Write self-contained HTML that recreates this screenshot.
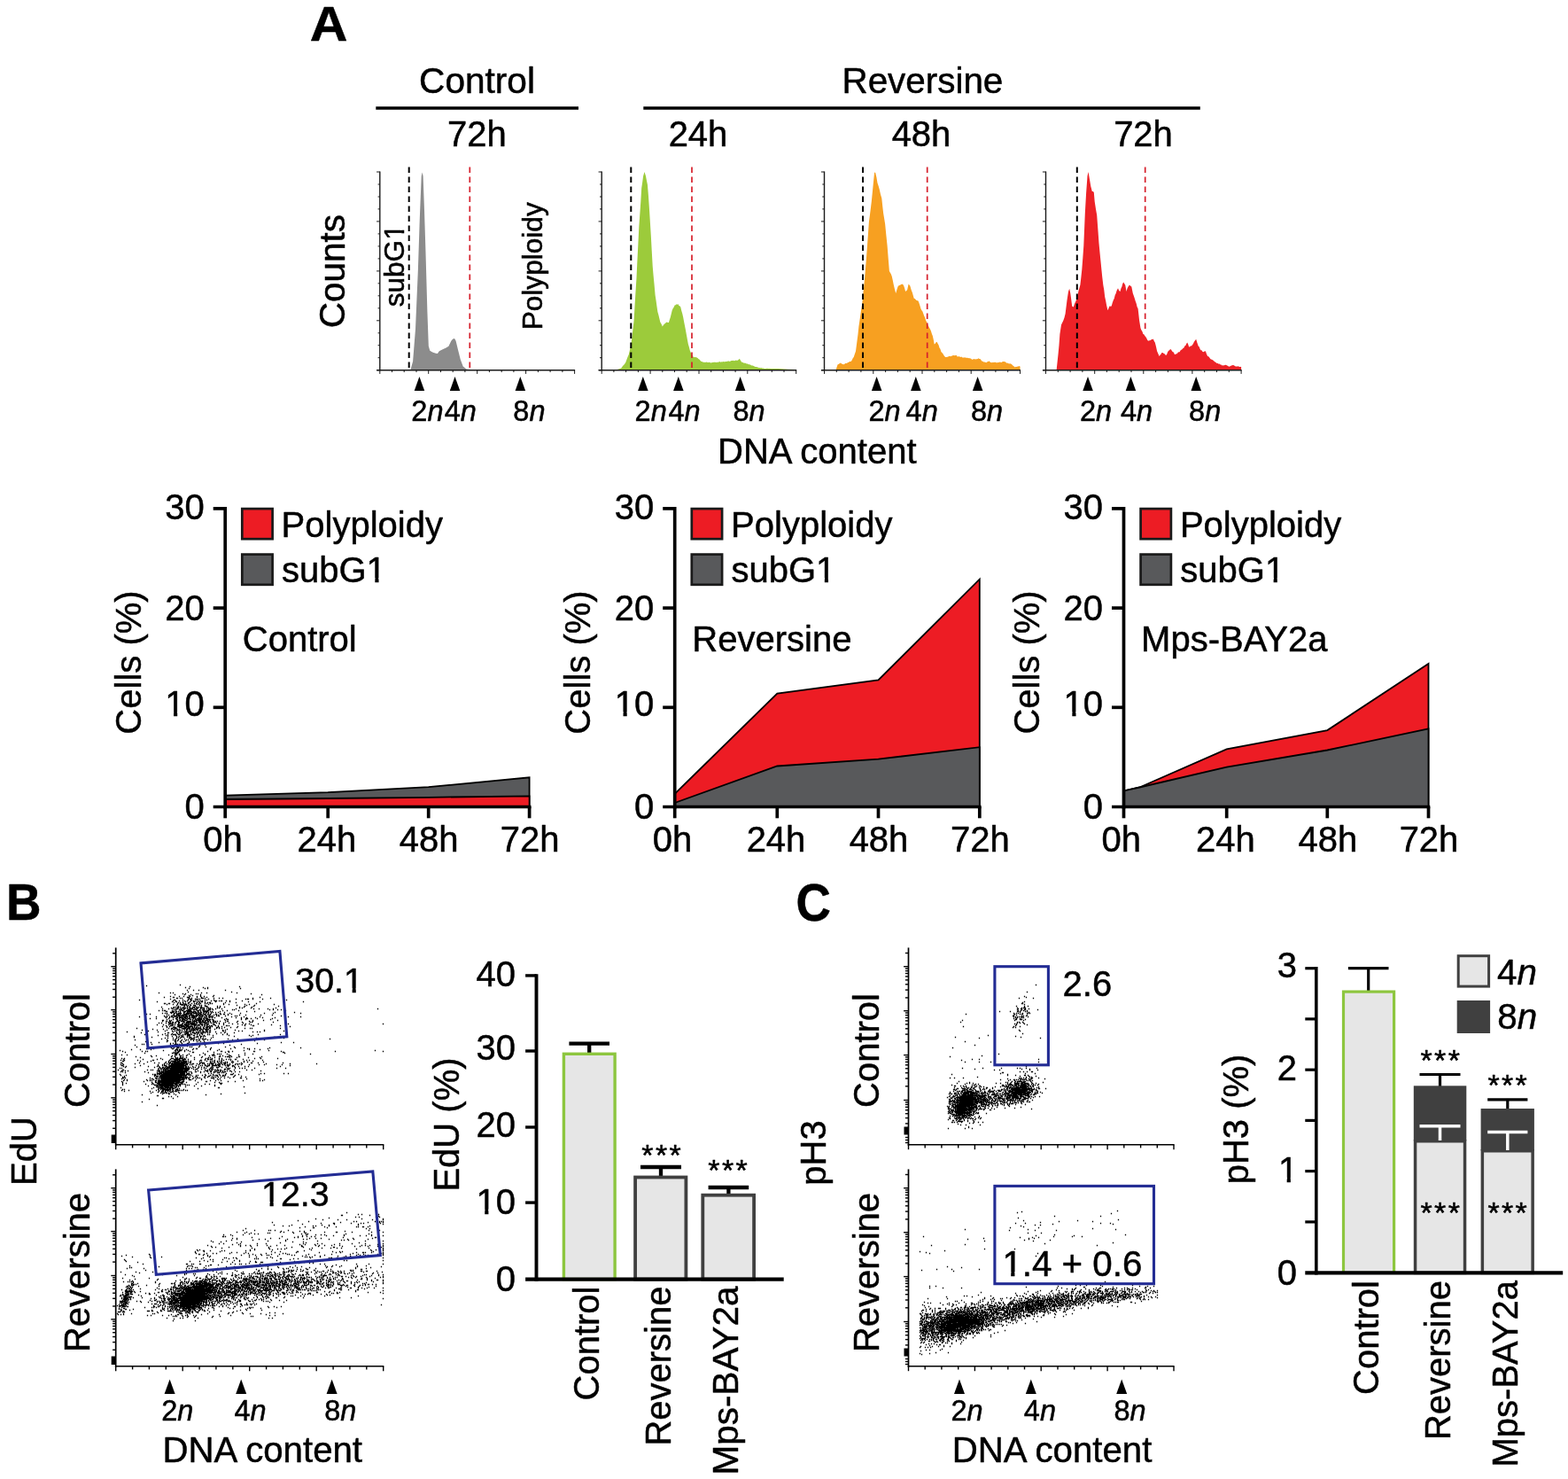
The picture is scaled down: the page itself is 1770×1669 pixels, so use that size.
<!DOCTYPE html>
<html lang="en"><head><meta charset="utf-8"><title>Figure</title>
<style>
html,body{margin:0;padding:0;background:#fff}
body{width:1770px;height:1669px;overflow:hidden}
svg{display:block}
text{font-family:"Liberation Sans",Arial,Helvetica,sans-serif;fill:#000;stroke:#000;stroke-width:0.5px;stroke-linejoin:round}
</style></head><body>
<svg width="1770" height="1669" viewBox="0 0 1770 1669">
<defs><clipPath id="ct10"><path clip-rule="evenodd" d="M-144 100h1200v400h-1200zM486.66 295.44H493.10V302.80H486.66zM496.49 295.44H502.68V302.80H496.49z"/></clipPath><clipPath id="ct13"><path clip-rule="evenodd" d="M-369 608h1200v400h-1200zM188.15 803.31H196.06V811.30H188.15zM200.19 803.31H207.79V811.30H200.19z"/></clipPath><clipPath id="ct22"><path clip-rule="evenodd" d="M-282 457h1200v400h-1200zM415.44 652.11H423.35V660.10H415.44zM427.49 652.11H435.09V660.10H427.49z"/></clipPath><clipPath id="ct25"><path clip-rule="evenodd" d="M138 608h1200v400h-1200zM695.65 803.31H703.56V811.30H695.65zM707.69 803.31H715.29V811.30H707.69z"/></clipPath><clipPath id="ct34"><path clip-rule="evenodd" d="M226 457h1200v400h-1200zM922.94 652.11H930.85V660.10H922.94zM934.99 652.11H942.59V660.10H934.99z"/></clipPath><clipPath id="ct37"><path clip-rule="evenodd" d="M645 608h1200v400h-1200zM1202.45 803.31H1210.36V811.30H1202.45zM1214.49 803.31H1222.09V811.30H1214.49z"/></clipPath><clipPath id="ct46"><path clip-rule="evenodd" d="M732 457h1200v400h-1200zM1429.74 652.11H1437.65V660.10H1429.74zM1441.79 652.11H1449.39V660.10H1441.79z"/></clipPath><clipPath id="ct48"><path clip-rule="evenodd" d="M-267 920h1200v400h-1200zM389.85 1114.96H397.66V1122.90H389.85zM401.74 1114.96H409.24V1122.90H401.74z"/></clipPath><clipPath id="ct49"><path clip-rule="evenodd" d="M-305 1161h1200v400h-1200zM296.80 1355.96H304.61V1363.90H296.80zM308.69 1355.96H316.19V1363.90H308.69z"/></clipPath><clipPath id="ct56"><path clip-rule="evenodd" d="M531 1240h1200v400h-1200zM1133.27 1435.19H1141.23V1443.20H1133.27zM1145.40 1435.19H1153.05V1443.20H1145.40z"/></clipPath><clipPath id="ct65"><path clip-rule="evenodd" d="M-18 1170h1200v400h-1200zM539.35 1364.61H547.26V1372.60H539.35zM551.39 1364.61H558.99V1372.60H551.39z"/></clipPath><clipPath id="ct74"><path clip-rule="evenodd" d="M865 1134h1200v400h-1200zM1444.80 1328.54H1452.71V1336.53H1444.80zM1456.84 1328.54H1464.44V1336.53H1456.84z"/></clipPath></defs>
<rect width="1770" height="1669" fill="#fff"/>
<text transform="translate(349.8 45.6) scale(1.05 1)" font-size="56.3" font-weight="bold">A</text>
<text x="538.5" y="105.0" font-size="40.6" text-anchor="middle">Control</text>
<text x="1041.4" y="105.0" font-size="40.4" text-anchor="middle">Reversine</text>
<line x1="424.3" y1="122.0" x2="653.0" y2="122.0" stroke="#000" stroke-width="3.6"/>
<line x1="726.3" y1="122.0" x2="1354.8" y2="122.0" stroke="#000" stroke-width="3.6"/>
<text x="538.3" y="165.0" font-size="40" text-anchor="middle">72h</text>
<text x="788.0" y="165.0" font-size="40" text-anchor="middle">24h</text>
<text x="1040.0" y="165.0" font-size="40" text-anchor="middle">48h</text>
<text x="1290.5" y="165.0" font-size="40" text-anchor="middle">72h</text>
<text x="389.2" y="306.2" font-size="40.5" text-anchor="middle" transform="rotate(-90 389.2 306.2)">Counts</text>
<text x="922.3" y="522.5" font-size="40" text-anchor="middle">DNA content</text>
<path d="M463.3,417.7 L466.1,407.7 L469.0,371.3 L471.9,304.2 L473.8,246.7 L475.7,198.8 L476.7,194.5 L477.6,198.8 L479.0,237.1 L480.5,285.0 L482.4,352.1 L483.8,390.4 L485.3,395.8 L488.2,397.5 L492.0,398.7 L493.9,399.1 L495.8,396.2 L499.7,394.3 L503.5,392.4 L506.4,390.8 L509.3,384.7 L511.2,382.4 L513.1,382.0 L514.6,384.7 L516.9,394.3 L519.8,405.8 L522.7,413.4 L526.5,416.5 L530.4,417.1 L572.5,417.3 L648.6,417.5 L648.6,417.7Z" fill="#8c8c8c"/>
<line x1="428.8" y1="193.5" x2="428.8" y2="418.3" stroke="#1a1a1a" stroke-width="1.4"/>
<line x1="425.2" y1="417.7" x2="649.1" y2="417.7" stroke="#1a1a1a" stroke-width="1.4"/>
<line x1="425.1" y1="194.0" x2="428.8" y2="194.0" stroke="#1a1a1a" stroke-width="1"/>
<line x1="426.6" y1="208.0" x2="428.8" y2="208.0" stroke="#1a1a1a" stroke-width="1"/>
<line x1="426.6" y1="222.0" x2="428.8" y2="222.0" stroke="#1a1a1a" stroke-width="1"/>
<line x1="426.6" y1="235.9" x2="428.8" y2="235.9" stroke="#1a1a1a" stroke-width="1"/>
<line x1="425.1" y1="249.9" x2="428.8" y2="249.9" stroke="#1a1a1a" stroke-width="1"/>
<line x1="426.6" y1="263.9" x2="428.8" y2="263.9" stroke="#1a1a1a" stroke-width="1"/>
<line x1="426.6" y1="277.9" x2="428.8" y2="277.9" stroke="#1a1a1a" stroke-width="1"/>
<line x1="426.6" y1="291.9" x2="428.8" y2="291.9" stroke="#1a1a1a" stroke-width="1"/>
<line x1="425.1" y1="305.9" x2="428.8" y2="305.9" stroke="#1a1a1a" stroke-width="1"/>
<line x1="426.6" y1="319.8" x2="428.8" y2="319.8" stroke="#1a1a1a" stroke-width="1"/>
<line x1="426.6" y1="333.8" x2="428.8" y2="333.8" stroke="#1a1a1a" stroke-width="1"/>
<line x1="426.6" y1="347.8" x2="428.8" y2="347.8" stroke="#1a1a1a" stroke-width="1"/>
<line x1="425.1" y1="361.8" x2="428.8" y2="361.8" stroke="#1a1a1a" stroke-width="1"/>
<line x1="426.6" y1="375.8" x2="428.8" y2="375.8" stroke="#1a1a1a" stroke-width="1"/>
<line x1="426.6" y1="389.7" x2="428.8" y2="389.7" stroke="#1a1a1a" stroke-width="1"/>
<line x1="426.6" y1="403.7" x2="428.8" y2="403.7" stroke="#1a1a1a" stroke-width="1"/>
<line x1="425.1" y1="417.7" x2="428.8" y2="417.7" stroke="#1a1a1a" stroke-width="1"/>
<line x1="428.8" y1="417.7" x2="428.8" y2="421.9" stroke="#1a1a1a" stroke-width="1"/>
<line x1="442.5" y1="417.7" x2="442.5" y2="420.1" stroke="#1a1a1a" stroke-width="1"/>
<line x1="456.2" y1="417.7" x2="456.2" y2="420.1" stroke="#1a1a1a" stroke-width="1"/>
<line x1="470.0" y1="417.7" x2="470.0" y2="420.1" stroke="#1a1a1a" stroke-width="1"/>
<line x1="483.7" y1="417.7" x2="483.7" y2="421.9" stroke="#1a1a1a" stroke-width="1"/>
<line x1="497.5" y1="417.7" x2="497.5" y2="420.1" stroke="#1a1a1a" stroke-width="1"/>
<line x1="511.2" y1="417.7" x2="511.2" y2="420.1" stroke="#1a1a1a" stroke-width="1"/>
<line x1="524.9" y1="417.7" x2="524.9" y2="420.1" stroke="#1a1a1a" stroke-width="1"/>
<line x1="538.7" y1="417.7" x2="538.7" y2="421.9" stroke="#1a1a1a" stroke-width="1"/>
<line x1="552.4" y1="417.7" x2="552.4" y2="420.1" stroke="#1a1a1a" stroke-width="1"/>
<line x1="566.2" y1="417.7" x2="566.2" y2="420.1" stroke="#1a1a1a" stroke-width="1"/>
<line x1="579.9" y1="417.7" x2="579.9" y2="420.1" stroke="#1a1a1a" stroke-width="1"/>
<line x1="593.6" y1="417.7" x2="593.6" y2="421.9" stroke="#1a1a1a" stroke-width="1"/>
<line x1="607.4" y1="417.7" x2="607.4" y2="420.1" stroke="#1a1a1a" stroke-width="1"/>
<line x1="621.1" y1="417.7" x2="621.1" y2="420.1" stroke="#1a1a1a" stroke-width="1"/>
<line x1="634.9" y1="417.7" x2="634.9" y2="420.1" stroke="#1a1a1a" stroke-width="1"/>
<line x1="648.6" y1="417.7" x2="648.6" y2="421.9" stroke="#1a1a1a" stroke-width="1"/>
<line x1="461.7" y1="188.5" x2="461.7" y2="417.7" stroke="#000" stroke-width="2" stroke-dasharray="6.5 4.5"/>
<line x1="530.3" y1="188.5" x2="530.3" y2="417.7" stroke="#d6202c" stroke-width="1.7" stroke-dasharray="6.5 4.5"/>
<path d="M473.4,425.0 l5.8,16.0 h-11.5z" fill="#000"/>
<path d="M513.5,425.0 l5.8,16.0 h-11.5z" fill="#000"/>
<path d="M587.3,425.0 l5.8,16.0 h-11.5z" fill="#000"/>
<text x="464.3" y="475.2" font-size="32.5">2<tspan font-style="italic">n</tspan></text>
<text x="501.7" y="475.2" font-size="32.5">4<tspan font-style="italic">n</tspan></text>
<text x="579.3" y="475.2" font-size="32.5">8<tspan font-style="italic">n</tspan></text>
<text x="456.5" y="299.8" font-size="31.6" text-anchor="middle" transform="rotate(-90 456.5 299.8)" id="t10" class="o" clip-path="url(#ct10)">subG1</text>
<text x="611.8" y="300.3" font-size="31.6" text-anchor="middle" transform="rotate(-90 611.8 300.3)">Polyploidy</text>
<path d="M694.5,417.7 L701.2,415.4 L702.2,414.2 L703.1,412.8 L704.1,411.9 L705.0,410.7 L706.0,409.6 L707.0,407.1 L707.9,404.6 L708.9,402.1 L709.8,400.0 L710.8,395.7 L711.8,390.8 L712.7,386.6 L713.7,377.9 L714.6,370.2 L715.6,361.7 L716.5,345.8 L717.5,329.2 L718.5,313.8 L719.4,294.6 L720.4,274.9 L721.3,256.3 L722.3,242.0 L723.3,227.4 L724.2,212.2 L725.2,205.5 L726.1,198.8 L727.5,194.0 L729.0,198.8 L730.0,204.1 L730.9,208.3 L731.9,220.2 L732.8,233.3 L733.8,249.6 L734.8,265.8 L735.7,282.4 L736.7,300.4 L737.6,311.1 L738.6,321.5 L739.6,332.9 L740.5,338.8 L741.5,345.9 L742.4,352.1 L743.4,355.5 L744.3,359.2 L745.3,363.6 L746.5,365.6 L747.8,368.4 L748.9,366.7 L750.1,365.5 L751.1,364.8 L752.0,363.8 L753.0,363.6 L753.9,364.0 L754.9,364.0 L755.8,360.9 L756.8,357.9 L757.8,354.0 L758.7,350.2 L759.7,348.1 L760.6,346.8 L761.6,344.4 L762.6,344.2 L763.5,343.3 L764.5,343.7 L765.4,343.1 L766.4,344.9 L767.3,345.3 L768.3,346.4 L769.3,350.8 L770.2,353.8 L771.2,357.9 L772.1,363.1 L773.1,368.0 L774.1,373.2 L775.0,378.2 L776.0,383.8 L776.9,388.5 L777.9,391.8 L778.8,395.6 L779.8,398.1 L780.8,399.8 L781.7,400.8 L782.7,402.9 L783.6,402.7 L784.6,403.3 L785.6,402.9 L786.5,403.6 L787.5,403.9 L788.4,404.9 L789.4,405.5 L790.4,406.7 L791.3,407.7 L792.3,408.1 L793.2,408.4 L794.2,408.7 L795.1,408.8 L796.1,409.0 L797.1,408.6 L798.0,408.8 L799.0,409.0 L799.9,409.0 L800.9,408.8 L801.9,409.2 L802.8,409.6 L803.8,409.0 L804.7,409.0 L805.7,408.8 L806.6,408.7 L807.6,408.7 L808.6,409.0 L809.5,408.7 L810.5,408.8 L811.4,408.5 L812.4,408.1 L813.4,408.7 L814.3,408.2 L815.3,408.4 L816.2,407.9 L817.2,408.3 L818.1,408.3 L819.1,407.9 L820.1,407.9 L821.0,407.7 L822.0,407.5 L822.9,407.6 L823.9,407.9 L824.9,407.3 L825.8,406.9 L826.8,407.0 L827.7,406.7 L828.7,407.3 L829.6,407.1 L830.6,406.6 L831.6,406.7 L832.5,406.7 L833.7,405.9 L834.8,404.8 L836.1,406.9 L837.3,408.7 L838.3,408.7 L839.2,409.5 L840.2,409.7 L841.1,409.5 L842.1,410.3 L843.1,410.5 L844.0,410.6 L845.0,411.2 L845.9,411.3 L846.9,411.5 L847.9,412.3 L848.8,412.4 L849.8,412.6 L850.7,412.9 L851.7,413.4 L852.7,414.0 L853.6,413.9 L854.6,414.2 L855.5,414.5 L856.5,414.9 L857.4,415.0 L858.4,415.2 L859.4,415.1 L860.3,415.5 L861.3,415.6 L862.2,415.8 L863.2,415.9 L864.2,416.0 L865.1,415.8 L866.1,415.8 L867.0,415.8 L868.0,415.9 L868.9,415.8 L869.9,416.1 L870.9,415.9 L871.8,415.9 L872.8,415.9 L873.7,416.0 L874.7,416.0 L875.7,416.0 L876.6,416.1 L877.6,416.1 L878.5,416.1 L890.0,416.7 L898.7,416.9 L898.7,417.7Z" fill="#9ccb3b"/>
<line x1="679.2" y1="193.5" x2="679.2" y2="418.3" stroke="#1a1a1a" stroke-width="1.4"/>
<line x1="675.7" y1="417.7" x2="899.2" y2="417.7" stroke="#1a1a1a" stroke-width="1.4"/>
<line x1="675.6" y1="194.0" x2="679.2" y2="194.0" stroke="#1a1a1a" stroke-width="1"/>
<line x1="677.0" y1="208.0" x2="679.2" y2="208.0" stroke="#1a1a1a" stroke-width="1"/>
<line x1="677.0" y1="222.0" x2="679.2" y2="222.0" stroke="#1a1a1a" stroke-width="1"/>
<line x1="677.0" y1="235.9" x2="679.2" y2="235.9" stroke="#1a1a1a" stroke-width="1"/>
<line x1="675.6" y1="249.9" x2="679.2" y2="249.9" stroke="#1a1a1a" stroke-width="1"/>
<line x1="677.0" y1="263.9" x2="679.2" y2="263.9" stroke="#1a1a1a" stroke-width="1"/>
<line x1="677.0" y1="277.9" x2="679.2" y2="277.9" stroke="#1a1a1a" stroke-width="1"/>
<line x1="677.0" y1="291.9" x2="679.2" y2="291.9" stroke="#1a1a1a" stroke-width="1"/>
<line x1="675.6" y1="305.9" x2="679.2" y2="305.9" stroke="#1a1a1a" stroke-width="1"/>
<line x1="677.0" y1="319.8" x2="679.2" y2="319.8" stroke="#1a1a1a" stroke-width="1"/>
<line x1="677.0" y1="333.8" x2="679.2" y2="333.8" stroke="#1a1a1a" stroke-width="1"/>
<line x1="677.0" y1="347.8" x2="679.2" y2="347.8" stroke="#1a1a1a" stroke-width="1"/>
<line x1="675.6" y1="361.8" x2="679.2" y2="361.8" stroke="#1a1a1a" stroke-width="1"/>
<line x1="677.0" y1="375.8" x2="679.2" y2="375.8" stroke="#1a1a1a" stroke-width="1"/>
<line x1="677.0" y1="389.7" x2="679.2" y2="389.7" stroke="#1a1a1a" stroke-width="1"/>
<line x1="677.0" y1="403.7" x2="679.2" y2="403.7" stroke="#1a1a1a" stroke-width="1"/>
<line x1="675.6" y1="417.7" x2="679.2" y2="417.7" stroke="#1a1a1a" stroke-width="1"/>
<line x1="679.2" y1="417.7" x2="679.2" y2="421.9" stroke="#1a1a1a" stroke-width="1"/>
<line x1="692.9" y1="417.7" x2="692.9" y2="420.1" stroke="#1a1a1a" stroke-width="1"/>
<line x1="706.6" y1="417.7" x2="706.6" y2="420.1" stroke="#1a1a1a" stroke-width="1"/>
<line x1="720.4" y1="417.7" x2="720.4" y2="420.1" stroke="#1a1a1a" stroke-width="1"/>
<line x1="734.1" y1="417.7" x2="734.1" y2="421.9" stroke="#1a1a1a" stroke-width="1"/>
<line x1="747.8" y1="417.7" x2="747.8" y2="420.1" stroke="#1a1a1a" stroke-width="1"/>
<line x1="761.5" y1="417.7" x2="761.5" y2="420.1" stroke="#1a1a1a" stroke-width="1"/>
<line x1="775.2" y1="417.7" x2="775.2" y2="420.1" stroke="#1a1a1a" stroke-width="1"/>
<line x1="789.0" y1="417.7" x2="789.0" y2="421.9" stroke="#1a1a1a" stroke-width="1"/>
<line x1="802.7" y1="417.7" x2="802.7" y2="420.1" stroke="#1a1a1a" stroke-width="1"/>
<line x1="816.4" y1="417.7" x2="816.4" y2="420.1" stroke="#1a1a1a" stroke-width="1"/>
<line x1="830.1" y1="417.7" x2="830.1" y2="420.1" stroke="#1a1a1a" stroke-width="1"/>
<line x1="843.8" y1="417.7" x2="843.8" y2="421.9" stroke="#1a1a1a" stroke-width="1"/>
<line x1="857.5" y1="417.7" x2="857.5" y2="420.1" stroke="#1a1a1a" stroke-width="1"/>
<line x1="871.3" y1="417.7" x2="871.3" y2="420.1" stroke="#1a1a1a" stroke-width="1"/>
<line x1="885.0" y1="417.7" x2="885.0" y2="420.1" stroke="#1a1a1a" stroke-width="1"/>
<line x1="898.7" y1="417.7" x2="898.7" y2="421.9" stroke="#1a1a1a" stroke-width="1"/>
<line x1="712.3" y1="188.5" x2="712.3" y2="417.7" stroke="#000" stroke-width="2" stroke-dasharray="6.5 4.5"/>
<line x1="781.0" y1="188.5" x2="781.0" y2="417.7" stroke="#d6202c" stroke-width="1.7" stroke-dasharray="6.5 4.5"/>
<path d="M725.8,425.0 l5.8,16.0 h-11.5z" fill="#000"/>
<path d="M765.8,425.0 l5.8,16.0 h-11.5z" fill="#000"/>
<path d="M835.6,425.0 l5.8,16.0 h-11.5z" fill="#000"/>
<text x="716.6" y="475.2" font-size="32.5">2<tspan font-style="italic">n</tspan></text>
<text x="754.4" y="475.2" font-size="32.5">4<tspan font-style="italic">n</tspan></text>
<text x="827.4" y="475.2" font-size="32.5">8<tspan font-style="italic">n</tspan></text>
<path d="M943.5,417.7 L945.5,411.5 L946.4,410.9 L947.4,410.5 L948.3,409.6 L949.3,409.9 L950.3,410.6 L951.2,411.1 L952.2,411.3 L953.1,411.1 L954.1,410.1 L955.0,409.9 L956.0,410.0 L957.0,409.1 L957.9,409.0 L958.9,408.1 L959.8,408.1 L960.8,407.7 L961.8,406.3 L962.7,404.2 L963.7,402.9 L964.8,399.8 L966.0,396.2 L967.5,384.7 L968.5,377.2 L969.4,368.4 L970.4,361.7 L971.3,355.4 L972.3,348.5 L973.3,342.5 L974.2,332.8 L975.2,322.9 L976.1,313.8 L977.1,302.0 L978.1,289.4 L979.0,277.3 L980.0,263.3 L980.9,250.5 L981.9,242.9 L982.8,235.7 L983.8,227.5 L984.8,217.6 L985.7,208.3 L987.1,194.5 L988.2,194.9 L989.4,200.1 L990.5,206.4 L991.7,210.0 L992.8,214.1 L994.1,219.7 L995.3,223.7 L996.3,233.2 L997.2,240.9 L998.2,247.0 L999.1,252.4 L1000.4,265.7 L1001.6,277.3 L1002.8,292.4 L1003.9,306.1 L1004.9,307.8 L1005.8,309.2 L1006.8,311.9 L1007.8,316.6 L1008.7,320.9 L1009.7,325.3 L1011.2,331.0 L1012.4,326.9 L1013.5,323.4 L1014.5,322.2 L1015.4,321.9 L1016.4,321.4 L1017.3,320.9 L1018.3,320.5 L1019.3,321.0 L1020.2,322.4 L1021.2,325.4 L1022.1,329.1 L1023.1,328.1 L1024.1,327.2 L1025.6,320.5 L1027.3,322.4 L1028.6,326.9 L1029.8,330.1 L1030.8,333.6 L1031.7,336.8 L1032.7,337.1 L1033.6,337.9 L1034.6,339.1 L1035.6,339.3 L1036.5,339.6 L1037.5,342.0 L1038.4,344.8 L1039.4,348.3 L1040.4,350.2 L1041.3,351.3 L1042.3,354.0 L1043.2,356.4 L1044.2,358.6 L1045.1,361.6 L1046.1,363.6 L1047.1,366.0 L1048.0,367.8 L1049.0,369.7 L1049.9,371.3 L1050.9,373.6 L1051.9,376.7 L1052.8,378.9 L1053.8,383.4 L1054.7,388.5 L1055.7,387.7 L1056.6,386.3 L1057.6,385.7 L1058.6,387.8 L1059.5,389.3 L1060.5,392.4 L1061.4,393.8 L1062.4,397.1 L1063.4,398.1 L1064.3,398.9 L1065.3,400.8 L1066.2,401.9 L1067.2,402.9 L1068.1,403.1 L1069.1,402.7 L1070.1,402.8 L1071.0,401.9 L1072.0,401.8 L1072.9,402.3 L1073.9,401.7 L1074.9,401.4 L1075.8,401.0 L1076.8,400.9 L1077.7,401.3 L1078.7,401.0 L1079.6,400.8 L1080.6,402.4 L1081.6,402.3 L1082.5,402.3 L1083.5,402.5 L1084.4,402.9 L1085.4,402.4 L1086.4,403.5 L1087.3,403.5 L1088.3,403.4 L1089.2,403.2 L1090.2,403.8 L1091.1,403.8 L1092.1,403.8 L1093.1,404.3 L1094.0,403.9 L1095.0,404.5 L1095.9,404.6 L1096.9,405.4 L1097.9,405.8 L1098.8,405.2 L1099.8,404.9 L1100.7,405.4 L1101.7,405.3 L1102.7,405.3 L1103.6,404.9 L1104.6,404.2 L1105.5,405.0 L1106.5,405.1 L1107.4,406.3 L1108.4,407.5 L1109.4,407.7 L1110.3,408.4 L1111.3,408.4 L1112.2,408.8 L1113.2,409.2 L1114.2,408.4 L1115.1,407.9 L1116.1,407.7 L1117.0,407.6 L1118.0,408.9 L1118.9,409.0 L1119.9,409.2 L1120.9,408.8 L1121.8,409.1 L1122.8,408.7 L1123.7,408.8 L1124.7,409.3 L1125.7,409.2 L1126.6,409.0 L1127.6,408.9 L1128.5,408.5 L1129.5,408.7 L1130.4,408.9 L1131.4,408.2 L1132.4,408.1 L1133.3,407.9 L1134.3,408.2 L1135.2,408.6 L1136.2,409.8 L1137.2,409.6 L1138.1,410.0 L1139.1,410.6 L1140.0,410.2 L1141.0,410.6 L1141.9,411.1 L1142.9,412.1 L1143.9,413.1 L1144.8,413.5 L1145.8,414.4 L1146.7,413.8 L1147.7,414.1 L1148.7,413.4 L1149.6,413.5 L1150.6,413.1 L1151.5,413.4 L1151.5,417.7Z" fill="#f7a021"/>
<line x1="930.5" y1="193.5" x2="930.5" y2="418.3" stroke="#1a1a1a" stroke-width="1.4"/>
<line x1="927.0" y1="417.7" x2="1152.0" y2="417.7" stroke="#1a1a1a" stroke-width="1.4"/>
<line x1="926.9" y1="194.0" x2="930.5" y2="194.0" stroke="#1a1a1a" stroke-width="1"/>
<line x1="928.3" y1="208.0" x2="930.5" y2="208.0" stroke="#1a1a1a" stroke-width="1"/>
<line x1="928.3" y1="222.0" x2="930.5" y2="222.0" stroke="#1a1a1a" stroke-width="1"/>
<line x1="928.3" y1="235.9" x2="930.5" y2="235.9" stroke="#1a1a1a" stroke-width="1"/>
<line x1="926.9" y1="249.9" x2="930.5" y2="249.9" stroke="#1a1a1a" stroke-width="1"/>
<line x1="928.3" y1="263.9" x2="930.5" y2="263.9" stroke="#1a1a1a" stroke-width="1"/>
<line x1="928.3" y1="277.9" x2="930.5" y2="277.9" stroke="#1a1a1a" stroke-width="1"/>
<line x1="928.3" y1="291.9" x2="930.5" y2="291.9" stroke="#1a1a1a" stroke-width="1"/>
<line x1="926.9" y1="305.9" x2="930.5" y2="305.9" stroke="#1a1a1a" stroke-width="1"/>
<line x1="928.3" y1="319.8" x2="930.5" y2="319.8" stroke="#1a1a1a" stroke-width="1"/>
<line x1="928.3" y1="333.8" x2="930.5" y2="333.8" stroke="#1a1a1a" stroke-width="1"/>
<line x1="928.3" y1="347.8" x2="930.5" y2="347.8" stroke="#1a1a1a" stroke-width="1"/>
<line x1="926.9" y1="361.8" x2="930.5" y2="361.8" stroke="#1a1a1a" stroke-width="1"/>
<line x1="928.3" y1="375.8" x2="930.5" y2="375.8" stroke="#1a1a1a" stroke-width="1"/>
<line x1="928.3" y1="389.7" x2="930.5" y2="389.7" stroke="#1a1a1a" stroke-width="1"/>
<line x1="928.3" y1="403.7" x2="930.5" y2="403.7" stroke="#1a1a1a" stroke-width="1"/>
<line x1="926.9" y1="417.7" x2="930.5" y2="417.7" stroke="#1a1a1a" stroke-width="1"/>
<line x1="930.5" y1="417.7" x2="930.5" y2="421.9" stroke="#1a1a1a" stroke-width="1"/>
<line x1="944.3" y1="417.7" x2="944.3" y2="420.1" stroke="#1a1a1a" stroke-width="1"/>
<line x1="958.1" y1="417.7" x2="958.1" y2="420.1" stroke="#1a1a1a" stroke-width="1"/>
<line x1="971.9" y1="417.7" x2="971.9" y2="420.1" stroke="#1a1a1a" stroke-width="1"/>
<line x1="985.8" y1="417.7" x2="985.8" y2="421.9" stroke="#1a1a1a" stroke-width="1"/>
<line x1="999.6" y1="417.7" x2="999.6" y2="420.1" stroke="#1a1a1a" stroke-width="1"/>
<line x1="1013.4" y1="417.7" x2="1013.4" y2="420.1" stroke="#1a1a1a" stroke-width="1"/>
<line x1="1027.2" y1="417.7" x2="1027.2" y2="420.1" stroke="#1a1a1a" stroke-width="1"/>
<line x1="1041.0" y1="417.7" x2="1041.0" y2="421.9" stroke="#1a1a1a" stroke-width="1"/>
<line x1="1054.8" y1="417.7" x2="1054.8" y2="420.1" stroke="#1a1a1a" stroke-width="1"/>
<line x1="1068.6" y1="417.7" x2="1068.6" y2="420.1" stroke="#1a1a1a" stroke-width="1"/>
<line x1="1082.4" y1="417.7" x2="1082.4" y2="420.1" stroke="#1a1a1a" stroke-width="1"/>
<line x1="1096.2" y1="417.7" x2="1096.2" y2="421.9" stroke="#1a1a1a" stroke-width="1"/>
<line x1="1110.1" y1="417.7" x2="1110.1" y2="420.1" stroke="#1a1a1a" stroke-width="1"/>
<line x1="1123.9" y1="417.7" x2="1123.9" y2="420.1" stroke="#1a1a1a" stroke-width="1"/>
<line x1="1137.7" y1="417.7" x2="1137.7" y2="420.1" stroke="#1a1a1a" stroke-width="1"/>
<line x1="1151.5" y1="417.7" x2="1151.5" y2="421.9" stroke="#1a1a1a" stroke-width="1"/>
<line x1="974.0" y1="188.5" x2="974.0" y2="417.7" stroke="#000" stroke-width="2" stroke-dasharray="6.5 4.5"/>
<line x1="1046.7" y1="188.5" x2="1046.7" y2="417.7" stroke="#d6202c" stroke-width="1.7" stroke-dasharray="6.5 4.5"/>
<path d="M989.6,425.0 l5.8,16.0 h-11.5z" fill="#000"/>
<path d="M1033.8,425.0 l5.8,16.0 h-11.5z" fill="#000"/>
<path d="M1103.6,425.0 l5.8,16.0 h-11.5z" fill="#000"/>
<text x="980.4" y="475.2" font-size="32.5">2<tspan font-style="italic">n</tspan></text>
<text x="1022.6" y="475.2" font-size="32.5">4<tspan font-style="italic">n</tspan></text>
<text x="1096.0" y="475.2" font-size="32.5">8<tspan font-style="italic">n</tspan></text>
<path d="M1192.6,417.7 L1194.5,400.0 L1195.5,389.4 L1196.4,377.0 L1198.0,366.5 L1199.1,364.2 L1200.3,361.7 L1201.4,358.8 L1202.6,354.0 L1203.5,346.8 L1204.5,338.7 L1206.0,329.1 L1207.2,325.7 L1208.3,331.0 L1209.3,338.6 L1210.2,345.4 L1211.8,346.4 L1212.9,342.9 L1214.1,340.6 L1215.3,337.7 L1216.5,332.9 L1217.5,328.2 L1218.5,324.8 L1219.4,321.4 L1220.4,312.7 L1221.3,304.2 L1222.3,291.3 L1223.3,277.3 L1224.8,240.9 L1226.1,217.9 L1227.5,198.8 L1228.6,194.0 L1230.0,202.6 L1231.3,210.3 L1232.8,216.0 L1233.8,215.9 L1234.8,217.0 L1235.7,227.5 L1237.0,235.9 L1238.2,242.8 L1239.6,262.0 L1240.5,274.4 L1241.5,285.0 L1242.4,294.0 L1243.4,304.2 L1244.3,313.0 L1245.3,321.4 L1246.3,327.2 L1247.2,334.9 L1248.2,339.4 L1249.1,344.4 L1250.5,350.2 L1252.0,346.4 L1253.0,345.0 L1253.9,346.2 L1254.9,344.8 L1255.8,341.6 L1256.8,338.7 L1257.8,336.7 L1258.7,332.9 L1259.7,331.1 L1260.6,328.1 L1262.0,325.3 L1263.2,327.9 L1264.5,329.1 L1265.4,325.6 L1266.4,323.4 L1267.3,320.1 L1268.3,318.6 L1269.3,320.2 L1270.2,321.4 L1271.6,329.1 L1272.5,325.6 L1273.5,323.4 L1275.0,321.4 L1276.2,322.8 L1277.3,323.4 L1278.8,331.0 L1279.8,333.7 L1280.8,336.8 L1281.7,339.7 L1282.7,342.5 L1283.6,346.2 L1284.6,348.3 L1286.1,361.7 L1287.5,370.3 L1288.4,372.6 L1289.4,374.0 L1290.4,377.0 L1291.3,377.3 L1292.3,379.0 L1293.2,379.9 L1294.2,381.5 L1295.1,383.4 L1296.1,384.7 L1297.1,384.2 L1298.0,384.3 L1299.0,383.7 L1299.9,383.1 L1300.9,383.1 L1301.9,382.4 L1302.8,385.0 L1303.8,386.6 L1304.9,390.8 L1306.1,396.2 L1307.3,398.9 L1308.6,401.9 L1309.5,400.7 L1310.5,399.7 L1311.4,398.1 L1312.4,398.0 L1313.4,398.8 L1314.3,399.1 L1315.3,400.2 L1316.2,401.0 L1317.2,399.8 L1318.1,397.2 L1319.1,395.8 L1320.1,395.2 L1321.0,393.9 L1322.0,394.4 L1322.9,396.1 L1323.9,397.2 L1324.9,397.5 L1325.8,399.8 L1326.8,400.0 L1327.7,399.2 L1328.7,399.2 L1329.6,397.7 L1330.6,397.2 L1331.6,397.2 L1332.5,395.5 L1333.5,394.7 L1334.4,394.3 L1335.4,393.1 L1336.4,392.4 L1337.3,390.4 L1338.3,389.9 L1339.2,388.1 L1340.2,386.6 L1341.1,388.2 L1342.1,391.4 L1343.1,391.3 L1344.0,390.3 L1345.0,390.4 L1345.9,389.3 L1346.9,388.0 L1347.9,385.7 L1349.0,384.2 L1350.2,382.8 L1351.4,386.8 L1352.7,390.4 L1353.6,391.2 L1354.6,393.7 L1355.5,395.2 L1356.5,395.2 L1357.4,396.7 L1358.4,397.2 L1359.6,396.4 L1360.9,396.2 L1362.0,399.5 L1363.2,401.9 L1364.2,402.2 L1365.1,403.3 L1366.1,404.8 L1367.0,405.5 L1368.0,405.7 L1368.9,406.2 L1369.9,407.0 L1370.9,408.1 L1371.8,408.5 L1372.8,409.2 L1373.7,409.9 L1374.7,409.9 L1375.7,410.7 L1376.6,410.6 L1377.6,411.4 L1378.5,411.5 L1379.5,412.5 L1380.4,412.3 L1381.4,412.6 L1382.4,412.0 L1383.3,411.8 L1384.3,411.9 L1385.2,412.5 L1386.2,413.1 L1387.2,413.8 L1388.1,413.5 L1389.1,413.0 L1390.0,412.5 L1391.0,412.2 L1391.9,411.9 L1392.9,412.2 L1393.9,413.0 L1394.8,413.4 L1395.8,413.4 L1396.9,413.6 L1397.9,413.3 L1399.0,413.9 L1400.1,413.9 L1401.1,413.8 L1401.1,417.7Z" fill="#ed2227"/>
<line x1="1180.5" y1="193.5" x2="1180.5" y2="418.3" stroke="#1a1a1a" stroke-width="1.4"/>
<line x1="1177.0" y1="417.7" x2="1401.6" y2="417.7" stroke="#1a1a1a" stroke-width="1.4"/>
<line x1="1176.9" y1="194.0" x2="1180.5" y2="194.0" stroke="#1a1a1a" stroke-width="1"/>
<line x1="1178.3" y1="208.0" x2="1180.5" y2="208.0" stroke="#1a1a1a" stroke-width="1"/>
<line x1="1178.3" y1="222.0" x2="1180.5" y2="222.0" stroke="#1a1a1a" stroke-width="1"/>
<line x1="1178.3" y1="235.9" x2="1180.5" y2="235.9" stroke="#1a1a1a" stroke-width="1"/>
<line x1="1176.9" y1="249.9" x2="1180.5" y2="249.9" stroke="#1a1a1a" stroke-width="1"/>
<line x1="1178.3" y1="263.9" x2="1180.5" y2="263.9" stroke="#1a1a1a" stroke-width="1"/>
<line x1="1178.3" y1="277.9" x2="1180.5" y2="277.9" stroke="#1a1a1a" stroke-width="1"/>
<line x1="1178.3" y1="291.9" x2="1180.5" y2="291.9" stroke="#1a1a1a" stroke-width="1"/>
<line x1="1176.9" y1="305.9" x2="1180.5" y2="305.9" stroke="#1a1a1a" stroke-width="1"/>
<line x1="1178.3" y1="319.8" x2="1180.5" y2="319.8" stroke="#1a1a1a" stroke-width="1"/>
<line x1="1178.3" y1="333.8" x2="1180.5" y2="333.8" stroke="#1a1a1a" stroke-width="1"/>
<line x1="1178.3" y1="347.8" x2="1180.5" y2="347.8" stroke="#1a1a1a" stroke-width="1"/>
<line x1="1176.9" y1="361.8" x2="1180.5" y2="361.8" stroke="#1a1a1a" stroke-width="1"/>
<line x1="1178.3" y1="375.8" x2="1180.5" y2="375.8" stroke="#1a1a1a" stroke-width="1"/>
<line x1="1178.3" y1="389.7" x2="1180.5" y2="389.7" stroke="#1a1a1a" stroke-width="1"/>
<line x1="1178.3" y1="403.7" x2="1180.5" y2="403.7" stroke="#1a1a1a" stroke-width="1"/>
<line x1="1176.9" y1="417.7" x2="1180.5" y2="417.7" stroke="#1a1a1a" stroke-width="1"/>
<line x1="1180.5" y1="417.7" x2="1180.5" y2="421.9" stroke="#1a1a1a" stroke-width="1"/>
<line x1="1194.3" y1="417.7" x2="1194.3" y2="420.1" stroke="#1a1a1a" stroke-width="1"/>
<line x1="1208.1" y1="417.7" x2="1208.1" y2="420.1" stroke="#1a1a1a" stroke-width="1"/>
<line x1="1221.9" y1="417.7" x2="1221.9" y2="420.1" stroke="#1a1a1a" stroke-width="1"/>
<line x1="1235.7" y1="417.7" x2="1235.7" y2="421.9" stroke="#1a1a1a" stroke-width="1"/>
<line x1="1249.4" y1="417.7" x2="1249.4" y2="420.1" stroke="#1a1a1a" stroke-width="1"/>
<line x1="1263.2" y1="417.7" x2="1263.2" y2="420.1" stroke="#1a1a1a" stroke-width="1"/>
<line x1="1277.0" y1="417.7" x2="1277.0" y2="420.1" stroke="#1a1a1a" stroke-width="1"/>
<line x1="1290.8" y1="417.7" x2="1290.8" y2="421.9" stroke="#1a1a1a" stroke-width="1"/>
<line x1="1304.6" y1="417.7" x2="1304.6" y2="420.1" stroke="#1a1a1a" stroke-width="1"/>
<line x1="1318.4" y1="417.7" x2="1318.4" y2="420.1" stroke="#1a1a1a" stroke-width="1"/>
<line x1="1332.2" y1="417.7" x2="1332.2" y2="420.1" stroke="#1a1a1a" stroke-width="1"/>
<line x1="1345.9" y1="417.7" x2="1345.9" y2="421.9" stroke="#1a1a1a" stroke-width="1"/>
<line x1="1359.7" y1="417.7" x2="1359.7" y2="420.1" stroke="#1a1a1a" stroke-width="1"/>
<line x1="1373.5" y1="417.7" x2="1373.5" y2="420.1" stroke="#1a1a1a" stroke-width="1"/>
<line x1="1387.3" y1="417.7" x2="1387.3" y2="420.1" stroke="#1a1a1a" stroke-width="1"/>
<line x1="1401.1" y1="417.7" x2="1401.1" y2="421.9" stroke="#1a1a1a" stroke-width="1"/>
<line x1="1215.8" y1="188.5" x2="1215.8" y2="417.7" stroke="#000" stroke-width="2" stroke-dasharray="6.5 4.5"/>
<line x1="1292.7" y1="188.5" x2="1292.7" y2="375.0" stroke="#d6202c" stroke-width="1.7" stroke-dasharray="6.5 4.5"/>
<path d="M1228.0,425.0 l5.8,16.0 h-11.5z" fill="#000"/>
<path d="M1276.4,425.0 l5.8,16.0 h-11.5z" fill="#000"/>
<path d="M1350.2,425.0 l5.8,16.0 h-11.5z" fill="#000"/>
<text x="1218.9" y="475.2" font-size="32.5">2<tspan font-style="italic">n</tspan></text>
<text x="1264.9" y="475.2" font-size="32.5">4<tspan font-style="italic">n</tspan></text>
<text x="1342.1" y="475.2" font-size="32.5">8<tspan font-style="italic">n</tspan></text>
<path d="M254.2,910.5 L254.2,897.6 L370.2,894.2 L483.7,888.1 L597.6,877.3 L597.6,910.5Z" fill="#58595b" stroke="#000" stroke-width="1.8" stroke-linejoin="miter"/>
<path d="M254.2,910.5 L254.2,902.0 L370.2,901.0 L483.7,899.8 L597.6,898.3 L597.6,910.5Z" fill="#ed1c24" stroke="#000" stroke-width="1.8" stroke-linejoin="miter"/>
<line x1="254.2" y1="572.0" x2="254.2" y2="912.4" stroke="#000" stroke-width="3.7"/>
<line x1="240.7" y1="910.5" x2="599.5" y2="910.5" stroke="#000" stroke-width="3.7"/>
<line x1="240.7" y1="798.3" x2="254.2" y2="798.3" stroke="#000" stroke-width="3.7"/>
<line x1="240.7" y1="686.1" x2="254.2" y2="686.1" stroke="#000" stroke-width="3.7"/>
<line x1="240.7" y1="573.9" x2="254.2" y2="573.9" stroke="#000" stroke-width="3.7"/>
<line x1="254.2" y1="910.5" x2="254.2" y2="923.3" stroke="#000" stroke-width="3.7"/>
<line x1="370.2" y1="910.5" x2="370.2" y2="923.3" stroke="#000" stroke-width="3.7"/>
<line x1="483.7" y1="910.5" x2="483.7" y2="923.3" stroke="#000" stroke-width="3.7"/>
<line x1="597.6" y1="910.5" x2="597.6" y2="923.3" stroke="#000" stroke-width="3.7"/>
<text x="230.8" y="924.4" font-size="40" text-anchor="end">0</text>
<text x="230.8" y="808.3" font-size="40" text-anchor="end" id="t13" class="o" clip-path="url(#ct13)">10</text>
<text x="230.8" y="699.6" font-size="40" text-anchor="end">20</text>
<text x="230.8" y="585.5" font-size="40" text-anchor="end">30</text>
<text x="251.4" y="961.4" font-size="40" text-anchor="middle">0h</text>
<text x="368.9" y="961.4" font-size="40" text-anchor="middle">24h</text>
<text x="484.2" y="961.4" font-size="40" text-anchor="middle">48h</text>
<text x="598.1" y="961.4" font-size="40" text-anchor="middle">72h</text>
<text x="159.3" y="747.5" font-size="40" text-anchor="middle" transform="rotate(-90 159.3 747.5)">Cells (%)</text>
<rect x="273.3" y="574.1" width="34.3" height="34.1" fill="#ed1c24" stroke="#1a1a1a" stroke-width="2.7"/>
<rect x="273.3" y="625.6" width="34.3" height="34.2" fill="#58595b" stroke="#1a1a1a" stroke-width="2.7"/>
<text x="317.6" y="605.8" font-size="40">Polyploidy</text>
<text x="318.0" y="657.1" font-size="40" id="t22" class="o" clip-path="url(#ct22)">subG1</text>
<text x="273.8" y="735.0" font-size="40">Control</text>
<path d="M761.7,910.5 L761.7,895.9 L877.3,782.6 L991.5,767.4 L1105.8,653.6 L1105.8,910.5Z" fill="#ed1c24" stroke="#000" stroke-width="1.8" stroke-linejoin="miter"/>
<path d="M761.7,910.5 L761.7,906.0 L877.3,864.5 L991.5,856.6 L1105.8,843.2 L1105.8,910.5Z" fill="#58595b" stroke="#000" stroke-width="1.8" stroke-linejoin="miter"/>
<line x1="761.7" y1="572.0" x2="761.7" y2="912.4" stroke="#000" stroke-width="3.7"/>
<line x1="748.2" y1="910.5" x2="1107.6" y2="910.5" stroke="#000" stroke-width="3.7"/>
<line x1="748.2" y1="798.3" x2="761.7" y2="798.3" stroke="#000" stroke-width="3.7"/>
<line x1="748.2" y1="686.1" x2="761.7" y2="686.1" stroke="#000" stroke-width="3.7"/>
<line x1="748.2" y1="573.9" x2="761.7" y2="573.9" stroke="#000" stroke-width="3.7"/>
<line x1="761.7" y1="910.5" x2="761.7" y2="923.3" stroke="#000" stroke-width="3.7"/>
<line x1="877.3" y1="910.5" x2="877.3" y2="923.3" stroke="#000" stroke-width="3.7"/>
<line x1="991.5" y1="910.5" x2="991.5" y2="923.3" stroke="#000" stroke-width="3.7"/>
<line x1="1105.8" y1="910.5" x2="1105.8" y2="923.3" stroke="#000" stroke-width="3.7"/>
<text x="738.3" y="924.4" font-size="40" text-anchor="end">0</text>
<text x="738.3" y="808.3" font-size="40" text-anchor="end" id="t25" class="o" clip-path="url(#ct25)">10</text>
<text x="738.3" y="699.6" font-size="40" text-anchor="end">20</text>
<text x="738.3" y="585.5" font-size="40" text-anchor="end">30</text>
<text x="758.9" y="961.4" font-size="40" text-anchor="middle">0h</text>
<text x="876.0" y="961.4" font-size="40" text-anchor="middle">24h</text>
<text x="992.0" y="961.4" font-size="40" text-anchor="middle">48h</text>
<text x="1106.3" y="961.4" font-size="40" text-anchor="middle">72h</text>
<text x="666.1" y="747.5" font-size="40" text-anchor="middle" transform="rotate(-90 666.1 747.5)">Cells (%)</text>
<rect x="780.8" y="574.1" width="34.3" height="34.1" fill="#ed1c24" stroke="#1a1a1a" stroke-width="2.7"/>
<rect x="780.8" y="625.6" width="34.3" height="34.2" fill="#58595b" stroke="#1a1a1a" stroke-width="2.7"/>
<text x="825.1" y="605.8" font-size="40">Polyploidy</text>
<text x="825.5" y="657.1" font-size="40" id="t34" class="o" clip-path="url(#ct34)">subG1</text>
<text x="781.3" y="735.0" font-size="40">Reversine</text>
<path d="M1268.5,910.5 L1268.5,892.5 L1286.4,888.5 L1384.7,845.4 L1498.3,824.1 L1612.5,748.9 L1612.5,910.5Z" fill="#ed1c24" stroke="#000" stroke-width="1.8" stroke-linejoin="miter"/>
<path d="M1268.5,910.5 L1268.5,892.5 L1286.4,888.5 L1384.7,865.6 L1498.3,846.5 L1612.5,822.4 L1612.5,910.5Z" fill="#58595b" stroke="#000" stroke-width="1.8" stroke-linejoin="miter"/>
<line x1="1268.5" y1="572.0" x2="1268.5" y2="912.4" stroke="#000" stroke-width="3.7"/>
<line x1="1255.0" y1="910.5" x2="1614.3" y2="910.5" stroke="#000" stroke-width="3.7"/>
<line x1="1255.0" y1="798.3" x2="1268.5" y2="798.3" stroke="#000" stroke-width="3.7"/>
<line x1="1255.0" y1="686.1" x2="1268.5" y2="686.1" stroke="#000" stroke-width="3.7"/>
<line x1="1255.0" y1="573.9" x2="1268.5" y2="573.9" stroke="#000" stroke-width="3.7"/>
<line x1="1268.5" y1="910.5" x2="1268.5" y2="923.3" stroke="#000" stroke-width="3.7"/>
<line x1="1384.7" y1="910.5" x2="1384.7" y2="923.3" stroke="#000" stroke-width="3.7"/>
<line x1="1498.3" y1="910.5" x2="1498.3" y2="923.3" stroke="#000" stroke-width="3.7"/>
<line x1="1612.5" y1="910.5" x2="1612.5" y2="923.3" stroke="#000" stroke-width="3.7"/>
<text x="1245.1" y="924.4" font-size="40" text-anchor="end">0</text>
<text x="1245.1" y="808.3" font-size="40" text-anchor="end" id="t37" class="o" clip-path="url(#ct37)">10</text>
<text x="1245.1" y="699.6" font-size="40" text-anchor="end">20</text>
<text x="1245.1" y="585.5" font-size="40" text-anchor="end">30</text>
<text x="1265.7" y="961.4" font-size="40" text-anchor="middle">0h</text>
<text x="1383.4" y="961.4" font-size="40" text-anchor="middle">24h</text>
<text x="1498.8" y="961.4" font-size="40" text-anchor="middle">48h</text>
<text x="1613.0" y="961.4" font-size="40" text-anchor="middle">72h</text>
<text x="1172.9" y="747.5" font-size="40" text-anchor="middle" transform="rotate(-90 1172.9 747.5)">Cells (%)</text>
<rect x="1287.6" y="574.1" width="34.3" height="34.1" fill="#ed1c24" stroke="#1a1a1a" stroke-width="2.7"/>
<rect x="1287.6" y="625.6" width="34.3" height="34.2" fill="#58595b" stroke="#1a1a1a" stroke-width="2.7"/>
<text x="1331.9" y="605.8" font-size="40">Polyploidy</text>
<text x="1332.3" y="657.1" font-size="40" id="t46" class="o" clip-path="url(#ct46)">subG1</text>
<text x="1288.1" y="735.0" font-size="40">Mps-BAY2a</text>
<line x1="130.7" y1="1069.4" x2="130.7" y2="1292.5" stroke="#000" stroke-width="1.7"/>
<line x1="129.9" y1="1291.8" x2="433.3" y2="1291.8" stroke="#000" stroke-width="1.5"/>
<line x1="130.7" y1="1291.8" x2="130.7" y2="1297.2" stroke="#000" stroke-width="1.4"/>
<line x1="149.6" y1="1291.8" x2="149.6" y2="1295.4" stroke="#000" stroke-width="1.4"/>
<line x1="168.4" y1="1291.8" x2="168.4" y2="1295.4" stroke="#000" stroke-width="1.4"/>
<line x1="187.3" y1="1291.8" x2="187.3" y2="1295.4" stroke="#000" stroke-width="1.4"/>
<line x1="206.2" y1="1291.8" x2="206.2" y2="1297.2" stroke="#000" stroke-width="1.4"/>
<line x1="225.1" y1="1291.8" x2="225.1" y2="1295.4" stroke="#000" stroke-width="1.4"/>
<line x1="243.9" y1="1291.8" x2="243.9" y2="1295.4" stroke="#000" stroke-width="1.4"/>
<line x1="262.8" y1="1291.8" x2="262.8" y2="1295.4" stroke="#000" stroke-width="1.4"/>
<line x1="281.7" y1="1291.8" x2="281.7" y2="1297.2" stroke="#000" stroke-width="1.4"/>
<line x1="300.6" y1="1291.8" x2="300.6" y2="1295.4" stroke="#000" stroke-width="1.4"/>
<line x1="319.4" y1="1291.8" x2="319.4" y2="1295.4" stroke="#000" stroke-width="1.4"/>
<line x1="338.3" y1="1291.8" x2="338.3" y2="1295.4" stroke="#000" stroke-width="1.4"/>
<line x1="357.2" y1="1291.8" x2="357.2" y2="1297.2" stroke="#000" stroke-width="1.4"/>
<line x1="376.1" y1="1291.8" x2="376.1" y2="1295.4" stroke="#000" stroke-width="1.4"/>
<line x1="394.9" y1="1291.8" x2="394.9" y2="1295.4" stroke="#000" stroke-width="1.4"/>
<line x1="413.8" y1="1291.8" x2="413.8" y2="1295.4" stroke="#000" stroke-width="1.4"/>
<line x1="432.7" y1="1291.8" x2="432.7" y2="1297.2" stroke="#000" stroke-width="1.4"/>
<line x1="125.3" y1="1090.7" x2="130.7" y2="1090.7" stroke="#000" stroke-width="1.4"/>
<line x1="127.1" y1="1125.2" x2="130.7" y2="1125.2" stroke="#000" stroke-width="1.4"/>
<line x1="127.1" y1="1116.5" x2="130.7" y2="1116.5" stroke="#000" stroke-width="1.4"/>
<line x1="127.1" y1="1110.4" x2="130.7" y2="1110.4" stroke="#000" stroke-width="1.4"/>
<line x1="127.1" y1="1105.6" x2="130.7" y2="1105.6" stroke="#000" stroke-width="1.4"/>
<line x1="127.1" y1="1101.7" x2="130.7" y2="1101.7" stroke="#000" stroke-width="1.4"/>
<line x1="127.1" y1="1098.4" x2="130.7" y2="1098.4" stroke="#000" stroke-width="1.4"/>
<line x1="127.1" y1="1095.5" x2="130.7" y2="1095.5" stroke="#000" stroke-width="1.4"/>
<line x1="127.1" y1="1093.0" x2="130.7" y2="1093.0" stroke="#000" stroke-width="1.4"/>
<line x1="125.3" y1="1139.6" x2="130.7" y2="1139.6" stroke="#000" stroke-width="1.4"/>
<line x1="127.1" y1="1174.1" x2="130.7" y2="1174.1" stroke="#000" stroke-width="1.4"/>
<line x1="127.1" y1="1165.4" x2="130.7" y2="1165.4" stroke="#000" stroke-width="1.4"/>
<line x1="127.1" y1="1159.3" x2="130.7" y2="1159.3" stroke="#000" stroke-width="1.4"/>
<line x1="127.1" y1="1154.5" x2="130.7" y2="1154.5" stroke="#000" stroke-width="1.4"/>
<line x1="127.1" y1="1150.6" x2="130.7" y2="1150.6" stroke="#000" stroke-width="1.4"/>
<line x1="127.1" y1="1147.3" x2="130.7" y2="1147.3" stroke="#000" stroke-width="1.4"/>
<line x1="127.1" y1="1144.4" x2="130.7" y2="1144.4" stroke="#000" stroke-width="1.4"/>
<line x1="127.1" y1="1141.9" x2="130.7" y2="1141.9" stroke="#000" stroke-width="1.4"/>
<line x1="125.3" y1="1189.5" x2="130.7" y2="1189.5" stroke="#000" stroke-width="1.4"/>
<line x1="127.1" y1="1224.0" x2="130.7" y2="1224.0" stroke="#000" stroke-width="1.4"/>
<line x1="127.1" y1="1215.3" x2="130.7" y2="1215.3" stroke="#000" stroke-width="1.4"/>
<line x1="127.1" y1="1209.2" x2="130.7" y2="1209.2" stroke="#000" stroke-width="1.4"/>
<line x1="127.1" y1="1204.4" x2="130.7" y2="1204.4" stroke="#000" stroke-width="1.4"/>
<line x1="127.1" y1="1200.5" x2="130.7" y2="1200.5" stroke="#000" stroke-width="1.4"/>
<line x1="127.1" y1="1197.2" x2="130.7" y2="1197.2" stroke="#000" stroke-width="1.4"/>
<line x1="127.1" y1="1194.3" x2="130.7" y2="1194.3" stroke="#000" stroke-width="1.4"/>
<line x1="127.1" y1="1191.8" x2="130.7" y2="1191.8" stroke="#000" stroke-width="1.4"/>
<line x1="125.3" y1="1238.8" x2="130.7" y2="1238.8" stroke="#000" stroke-width="1.4"/>
<line x1="127.1" y1="1273.3" x2="130.7" y2="1273.3" stroke="#000" stroke-width="1.4"/>
<line x1="127.1" y1="1264.6" x2="130.7" y2="1264.6" stroke="#000" stroke-width="1.4"/>
<line x1="127.1" y1="1258.5" x2="130.7" y2="1258.5" stroke="#000" stroke-width="1.4"/>
<line x1="127.1" y1="1253.7" x2="130.7" y2="1253.7" stroke="#000" stroke-width="1.4"/>
<line x1="127.1" y1="1249.8" x2="130.7" y2="1249.8" stroke="#000" stroke-width="1.4"/>
<line x1="127.1" y1="1246.5" x2="130.7" y2="1246.5" stroke="#000" stroke-width="1.4"/>
<line x1="127.1" y1="1243.6" x2="130.7" y2="1243.6" stroke="#000" stroke-width="1.4"/>
<line x1="127.1" y1="1241.1" x2="130.7" y2="1241.1" stroke="#000" stroke-width="1.4"/>
<line x1="127.1" y1="1075.8" x2="130.7" y2="1075.8" stroke="#000" stroke-width="1.4"/>
<rect x="125.7" y="1280.5" width="5" height="9.5" fill="#000"/>
<path transform="translate(.5 .5)" d="M203 1111zm-38 1zm49 1zm56 0zm-61 1zm20 0zm5 0zm-21 1zm18 0zm3 0zm37 0zm-60 2zm7 0zm6 0zm30 0zm-42 2zm49 0zm-82 1zm13 0zm3 0zm32 0zm6 0zm34 0zm-61 1zm3 0zm12 0zm2 0zm60 0zm-86 1zm11 0zm7 0zm11 0zm69 0zm-82 1zm4 0zm9 0zm15 0zm-49 1zm10 0zm5 0zm7 0zm8 0zm4 0zm4 0zm10 0zm-55 1zm10 0zm1 0zm15 0zm1 0zm1 0zm9 0zm5 0zm6 0zm60 0zm-94 1zm1 0zm3 0zm2 0zm8 0zm3 0zm11 0zm1 0zm1 0zm2 0zm10 0zm6 0zm4 0zm34 0zm20 0zm-113 1zm20 0zm2 0zm1 0zm5 0zm1 0zm2 0zm2 0zm10 0zm31 0zm11 0zm2 0zm1 0zm5 0zm11 0zm-139 1zm39 0zm1 0zm9 0zm6 0zm3 0zm1 0zm6 0zm9 0zm2 0zm8 0zm82 0zm-128 1zm3 0zm4 0zm6 0zm3 0zm4 0zm3 0zm2 0zm4 0zm2 0zm2 0zm10 0zm4 0zm1 0zm1 0zm3 0zm2 0zm1 0zm5 0zm4 0zm14 0zm-96 1zm17 0zm4 0zm1 0zm7 0zm3 0zm5 0zm4 0zm1 0zm3 0zm2 0zm3 0zm1 0zm3 0zm12 0zm16 0zm21 0zm13 0zm49 0zm-146 1zm5 0zm2 0zm3 0zm6 0zm1 0zm9 0zm3 0zm6 0zm3 0zm2 0zm1 0zm17 0zm12 0zm-81 1zm1 0zm4 0zm1 0zm9 0zm3 0zm4 0zm2 0zm3 0zm4 0zm3 0zm2 0zm3 0zm2 0zm5 0zm2 0zm4 0zm2 0zm13 0zm37 0zm-101 1zm7 0zm5 0zm3 0zm1 0zm1 0zm1 0zm2 0zm1 0zm1 0zm4 0zm8 0zm2 0zm11 0zm17 0zm6 0zm18 0zm5 0zm28 0zm-110 1zm6 0zm2 0zm1 0zm2 0zm2 0zm3 0zm3 0zm1 0zm1 0zm5 0zm2 0zm4 0zm36 0zm11 0zm9 0zm-86 1zm7 0zm3 0zm3 0zm6 0zm7 0zm4 0zm1 0zm1 0zm12 0zm3 0zm28 0zm10 0zm28 0zm-132 1zm14 0zm2 0zm2 0zm1 0zm2 0zm4 0zm4 0zm2 0zm4 0zm1 0zm1 0zm2 0zm1 0zm2 0zm2 0zm1 0zm6 0zm1 0zm11 0zm3 0zm5 0zm17 0zm5 0zm9 0zm-91 1zm2 0zm1 0zm4 0zm1 0zm4 0zm1 0zm1 0zm1 0zm1 0zm2 0zm3 0zm1 0zm2 0zm2 0zm3 0zm1 0zm3 0zm1 0zm1 0zm1 0zm1 0zm5 0zm2 0zm8 0zm2 0zm23 0zm3 0zm10 0zm28 0zm-128 1zm7 0zm4 0zm4 0zm1 0zm1 0zm3 0zm1 0zm3 0zm1 0zm3 0zm2 0zm2 0zm1 0zm1 0zm3 0zm1 0zm1 0zm4 0zm4 0zm3 0zm2 0zm1 0zm1 0zm2 0zm4 0zm7 0zm16 0zm20 0zm6 0zm10 0zm6 0zm13 0zm105 0zm-230 1zm2 0zm4 0zm2 0zm1 0zm2 0zm5 0zm1 0zm1 0zm1 0zm3 0zm1 0zm2 0zm4 0zm3 0zm1 0zm1 0zm5 0zm1 0zm1 0zm3 0zm22 0zm2 0zm40 0zm4 0zm5 0zm4 0zm-138 1zm4 0zm2 0zm1 0zm8 0zm4 0zm5 0zm2 0zm1 0zm4 0zm1 0zm1 0zm1 0zm1 0zm1 0zm7 0zm1 0zm1 0zm2 0zm3 0zm2 0zm2 0zm1 0zm1 0zm16 0zm5 0zm13 0zm53 0zm-135 1zm1 0zm6 0zm1 0zm1 0zm2 0zm1 0zm2 0zm2 0zm4 0zm1 0zm1 0zm2 0zm1 0zm1 0zm1 0zm1 0zm1 0zm2 0zm1 0zm1 0zm3 0zm3 0zm3 0zm1 0zm1 0zm1 0zm1 0zm1 0zm3 0zm2 0zm9 0zm30 0zm9 0zm-95 1zm1 0zm1 0zm1 0zm3 0zm5 0zm4 0zm1 0zm3 0zm1 0zm2 0zm2 0zm1 0zm1 0zm2 0zm1 0zm2 0zm1 0zm2 0zm1 0zm3 0zm2 0zm1 0zm2 0zm3 0zm2 0zm3 0zm3 0zm7 0zm57 0zm22 0zm-149 1zm3 0zm2 0zm5 0zm3 0zm1 0zm2 0zm2 0zm1 0zm1 0zm1 0zm3 0zm3 0zm1 0zm1 0zm1 0zm1 0zm1 0zm1 0zm2 0zm1 0zm1 0zm1 0zm1 0zm2 0zm1 0zm1 0zm3 0zm3 0zm3 0zm3 0zm10 0zm11 0zm12 0zm27 0zm10 0zm31 0zm-174 1zm4 0zm19 0zm8 0zm3 0zm1 0zm1 0zm2 0zm4 0zm1 0zm1 0zm1 0zm1 0zm1 0zm3 0zm1 0zm5 0zm2 0zm1 0zm2 0zm1 0zm3 0zm1 0zm3 0zm3 0zm6 0zm1 0zm4 0zm1 0zm3 0zm1 0zm4 0zm4 0zm-71 1zm5 0zm1 0zm3 0zm1 0zm1 0zm1 0zm1 0zm2 0zm1 0zm1 0zm1 0zm1 0zm1 0zm3 0zm1 0zm1 0zm1 0zm1 0zm1 0zm3 0zm1 0zm1 0zm1 0zm1 0zm1 0zm2 0zm1 0zm2 0zm1 0zm3 0zm1 0zm1 0zm4 0zm3 0zm2 0zm11 0zm13 0zm7 0zm17 0zm13 0zm-122 1zm3 0zm5 0zm1 0zm2 0zm1 0zm1 0zm1 0zm2 0zm1 0zm2 0zm1 0zm1 0zm1 0zm2 0zm1 0zm1 0zm2 0zm3 0zm1 0zm1 0zm1 0zm1 0zm1 0zm1 0zm3 0zm2 0zm1 0zm4 0zm1 0zm3 0zm3 0zm5 0zm2 0zm1 0zm7 0zm11 0zm2 0zm50 0zm-160 1zm19 0zm10 0zm2 0zm3 0zm2 0zm1 0zm2 0zm2 0zm2 0zm2 0zm1 0zm2 0zm2 0zm1 0zm1 0zm1 0zm1 0zm2 0zm1 0zm2 0zm1 0zm1 0zm1 0zm2 0zm3 0zm2 0zm2 0zm2 0zm2 0zm3 0zm1 0zm1 0zm1 0zm2 0zm21 0zm14 0zm18 0zm32 0zm14 0zm-152 1zm4 0zm4 0zm4 0zm1 0zm2 0zm1 0zm1 0zm1 0zm1 0zm2 0zm1 0zm2 0zm3 0zm2 0zm1 0zm1 0zm1 0zm1 0zm4 0zm1 0zm2 0zm4 0zm2 0zm3 0zm3 0zm3 0zm8 0zm16 0zm6 0zm6 0zm10 0zm8 0zm14 0zm-141 1zm7 0zm14 0zm8 0zm1 0zm3 0zm3 0zm1 0zm1 0zm2 0zm1 0zm2 0zm1 0zm1 0zm4 0zm2 0zm2 0zm1 0zm1 0zm1 0zm1 0zm1 0zm2 0zm1 0zm2 0zm1 0zm1 0zm21 0zm17 0zm5 0zm1 0zm1 0zm4 0zm7 0zm17 0zm-144 1zm25 0zm7 0zm4 0zm1 0zm3 0zm2 0zm1 0zm1 0zm1 0zm3 0zm3 0zm1 0zm2 0zm3 0zm1 0zm2 0zm1 0zm1 0zm1 0zm1 0zm3 0zm3 0zm1 0zm1 0zm1 0zm1 0zm2 0zm1 0zm13 0zm3 0zm1 0zm15 0zm5 0zm28 0zm-122 1zm1 0zm7 0zm2 0zm7 0zm2 0zm1 0zm2 0zm1 0zm2 0zm1 0zm1 0zm7 0zm2 0zm2 0zm1 0zm1 0zm1 0zm1 0zm1 0zm2 0zm1 0zm2 0zm1 0zm1 0zm1 0zm2 0zm4 0zm1 0zm13 0zm31 0zm12 0zm16 0zm-130 1zm4 0zm1 0zm3 0zm1 0zm7 0zm1 0zm1 0zm3 0zm1 0zm1 0zm1 0zm4 0zm1 0zm1 0zm1 0zm1 0zm2 0zm1 0zm1 0zm1 0zm1 0zm3 0zm1 0zm1 0zm2 0zm1 0zm2 0zm3 0zm1 0zm2 0zm3 0zm1 0zm2 0zm2 0zm3 0zm8 0zm1 0zm11 0zm13 0zm4 0zm-95 1zm2 0zm2 0zm1 0zm3 0zm3 0zm1 0zm5 0zm1 0zm2 0zm1 0zm1 0zm1 0zm1 0zm1 0zm2 0zm2 0zm2 0zm1 0zm2 0zm1 0zm1 0zm1 0zm1 0zm1 0zm1 0zm1 0zm1 0zm2 0zm1 0zm2 0zm3 0zm1 0zm1 0zm1 0zm11 0zm13 0zm6 0zm9 0zm2 0zm24 0zm-129 1zm3 0zm5 0zm3 0zm1 0zm1 0zm2 0zm1 0zm2 0zm1 0zm3 0zm1 0zm4 0zm4 0zm1 0zm1 0zm1 0zm2 0zm1 0zm1 0zm1 0zm1 0zm3 0zm3 0zm1 0zm4 0zm2 0zm1 0zm5 0zm6 0zm3 0zm5 0zm6 0zm16 0zm-83 1zm1 0zm1 0zm1 0zm7 0zm4 0zm1 0zm2 0zm1 0zm1 0zm2 0zm2 0zm1 0zm1 0zm1 0zm1 0zm1 0zm1 0zm1 0zm5 0zm1 0zm1 0zm3 0zm1 0zm2 0zm1 0zm5 0zm1 0zm6 0zm5 0zm10 0zm6 0zm9 0zm4 0zm10 0zm34 0zm107 0zm-255 1zm7 0zm6 0zm4 0zm1 0zm2 0zm3 0zm1 0zm1 0zm1 0zm1 0zm1 0zm3 0zm1 0zm1 0zm1 0zm1 0zm1 0zm3 0zm1 0zm1 0zm1 0zm1 0zm1 0zm2 0zm1 0zm1 0zm2 0zm1 0zm2 0zm3 0zm1 0zm7 0zm1 0zm10 0zm21 0zm3 0zm7 0zm23 0zm-119 1zm5 0zm1 0zm1 0zm7 0zm1 0zm1 0zm1 0zm1 0zm1 0zm1 0zm2 0zm1 0zm1 0zm1 0zm3 0zm4 0zm1 0zm2 0zm2 0zm4 0zm3 0zm2 0zm3 0zm2 0zm1 0zm4 0zm3 0zm9 0zm1 0zm2 0zm18 0zm9 0zm1 0zm30 0zm-133 1zm5 0zm3 0zm5 0zm4 0zm1 0zm1 0zm2 0zm1 0zm1 0zm1 0zm1 0zm2 0zm1 0zm1 0zm1 0zm1 0zm1 0zm1 0zm1 0zm2 0zm3 0zm4 0zm4 0zm3 0zm1 0zm1 0zm2 0zm2 0zm7 0zm4 0zm18 0zm59 0zm-139 1zm7 0zm1 0zm1 0zm1 0zm4 0zm1 0zm1 0zm4 0zm1 0zm1 0zm2 0zm1 0zm1 0zm3 0zm2 0zm2 0zm1 0zm2 0zm2 0zm3 0zm3 0zm1 0zm1 0zm2 0zm1 0zm7 0zm1 0zm2 0zm6 0zm7 0zm7 0zm-113 1zm36 0zm3 0zm1 0zm3 0zm1 0zm1 0zm6 0zm1 0zm1 0zm1 0zm1 0zm2 0zm1 0zm1 0zm1 0zm2 0zm1 0zm1 0zm2 0zm1 0zm2 0zm1 0zm1 0zm1 0zm3 0zm1 0zm3 0zm3 0zm1 0zm7 0zm3 0zm3 0zm26 0zm6 0zm2 0zm32 0zm-144 1zm12 0zm9 0zm2 0zm1 0zm1 0zm3 0zm2 0zm5 0zm1 0zm2 0zm1 0zm2 0zm1 0zm2 0zm2 0zm1 0zm2 0zm1 0zm1 0zm3 0zm1 0zm2 0zm2 0zm1 0zm1 0zm1 0zm1 0zm7 0zm14 0zm-96 1zm17 0zm11 0zm11 0zm1 0zm1 0zm2 0zm2 0zm5 0zm1 0zm4 0zm1 0zm1 0zm1 0zm1 0zm1 0zm2 0zm1 0zm2 0zm3 0zm4 0zm1 0zm4 0zm14 0zm3 0zm11 0zm33 0zm-131 1zm19 0zm8 0zm3 0zm5 0zm6 0zm2 0zm3 0zm1 0zm1 0zm3 0zm7 0zm1 0zm3 0zm3 0zm1 0zm1 0zm2 0zm15 0zm1 0zm17 0zm4 0zm25 0zm22 0zm-177 1zm35 0zm17 0zm4 0zm3 0zm2 0zm2 0zm3 0zm1 0zm1 0zm1 0zm2 0zm1 0zm2 0zm4 0zm2 0zm1 0zm4 0zm1 0zm1 0zm2 0zm1 0zm4 0zm6 0zm11 0zm31 0zm5 0zm3 0zm-134 1zm30 0zm1 0zm9 0zm3 0zm2 0zm4 0zm2 0zm1 0zm1 0zm5 0zm1 0zm1 0zm2 0zm1 0zm2 0zm2 0zm1 0zm2 0zm2 0zm3 0zm2 0zm13 0zm4 0zm11 0zm-78 1zm8 0zm6 0zm3 0zm6 0zm1 0zm1 0zm1 0zm3 0zm4 0zm1 0zm3 0zm4 0zm1 0zm16 0zm12 0zm-93 1zm20 0zm6 0zm4 0zm2 0zm1 0zm1 0zm1 0zm3 0zm1 0zm4 0zm2 0zm1 0zm2 0zm1 0zm1 0zm1 0zm2 0zm6 0zm3 0zm3 0zm6 0zm2 0zm15 0zm5 0zm35 0zm25 0zm-138 1zm9 0zm2 0zm9 0zm6 0zm2 0zm5 0zm1 0zm1 0zm1 0zm4 0zm1 0zm6 0zm5 0zm10 0zm18 0zm23 0zm4 0zm-134 1zm38 0zm5 0zm5 0zm3 0zm3 0zm1 0zm5 0zm2 0zm9 0zm1 0zm3 0zm1 0zm2 0zm2 0zm33 0zm19 0zm-132 1zm20 0zm28 0zm2 0zm3 0zm1 0zm2 0zm4 0zm3 0zm1 0zm4 0zm2 0zm2 0zm3 0zm14 0zm69 0zm1 0zm-124 1zm3 0zm6 0zm4 0zm4 0zm10 0zm1 0zm2 0zm2 0zm8 0zm3 0zm9 0zm51 0zm31 0zm-138 1zm16 0zm3 0zm7 0zm7 0zm1 0zm1 0zm2 0zm5 0zm4 0zm3 0zm1 0zm25 0zm11 0zm104 0zm-220 1zm36 0zm7 0zm2 0zm4 0zm4 0zm5 0zm2 0zm3 0zm3 0zm3 0zm1 0zm3 0zm4 0zm1 0zm4 0zm3 0zm25 0zm36 0zm-109 1zm8 0zm1 0zm2 0zm4 0zm5 0zm9 0zm6 0zm35 0zm28 0zm-123 1zm24 0zm9 0zm1 0zm5 0zm4 0zm6 0zm9 0zm4 0zm4 0zm-60 1zm9 0zm19 0zm6 0zm9 0zm18 0zm86 0zm14 0zm-139 1zm3 0zm3 0zm7 0zm6 0zm1 0zm12 0zm4 0zm18 0zm6 0zm38 0zm-130 1zm2 0zm9 0zm21 0zm5 0zm1 0zm1 0zm1 0zm2 0zm3 0zm12 0zm55 0zm-120 1zm44 0zm4 0zm3 0zm1 0zm1 0zm12 0zm8 0zm6 0zm28 0zm-60 1zm3 0zm9 0zm14 0zm-71 1zm38 0zm7 0zm1 0zm1 0zm13 0zm2 0zm8 0zm8 0zm22 0zm10 0zm-71 1zm3 0zm4 0zm1 0zm2 0zm3 0zm32 0zm27 0zm10 0zm29 0zm35 0zm-174 1zm8 0zm21 0zm1 0zm4 0zm19 0zm3 0zm1 0zm15 0zm23 0zm19 0zm2 0zm6 0zm15 0zm-154 1zm10 0zm12 0zm28 0zm1 0zm1 0zm2 0zm1 0zm2 0zm5 0zm7 0zm20 0zm10 0zm34 0zm12 0zm-158 1zm49 0zm13 0zm1 0zm2 0zm2 0zm1 0zm1 0zm4 0zm4 0zm33 0zm30 0zm28 0zm120 0zm-285 1zm22 0zm4 0zm2 0zm32 0zm3 0zm1 0zm6 0zm6 0zm20 0zm15 0zm1 0zm7 0zm1 0zm4 0zm24 0zm1 0zm30 0zm61 0zm54 0zm-291 1zm55 0zm2 0zm2 0zm1 0zm16 0zm1 0zm23 0zm13 0zm4 0zm61 0zm1 0zm-157 1zm31 0zm1 0zm2 0zm1 0zm1 0zm1 0zm29 0zm47 0zm45 0zm-124 1zm1 0zm1 0zm3 0zm11 0zm18 0zm10 0zm4 0zm2 0zm2 0zm7 0zm29 0zm65 0zm-213 1zm6 0zm47 0zm8 0zm1 0zm3 0zm4 0zm5 0zm14 0zm6 0zm8 0zm1 0zm1 0zm17 0zm11 0zm7 0zm-106 1zm6 0zm18 0zm3 0zm6 0zm1 0zm6 0zm5 0zm21 0zm4 0zm2 0zm6 0zm3 0zm8 0zm1 0zm-107 1zm18 0zm22 0zm4 0zm6 0zm3 0zm22 0zm19 0zm1 0zm6 0zm2 0zm1 0zm1 0zm3 0zm8 0zm1 0zm25 0zm-137 1zm40 0zm2 0zm3 0zm1 0zm2 0zm4 0zm9 0zm8 0zm8 0zm2 0zm5 0zm17 0zm8 0zm13 0zm13 0zm-156 1zm3 0zm41 0zm12 0zm1 0zm1 0zm3 0zm1 0zm1 0zm2 0zm1 0zm1 0zm1 0zm1 0zm2 0zm24 0zm2 0zm5 0zm8 0zm3 0zm37 0zm7 0zm19 0zm-174 1zm22 0zm16 0zm6 0zm9 0zm4 0zm1 0zm1 0zm1 0zm1 0zm1 0zm1 0zm4 0zm1 0zm1 0zm1 0zm3 0zm7 0zm12 0zm3 0zm1 0zm2 0zm1 0zm1 0zm8 0zm3 0zm5 0zm3 0zm2 0zm5 0zm1 0zm8 0zm-138 1zm4 0zm15 0zm17 0zm1 0zm18 0zm6 0zm1 0zm1 0zm1 0zm2 0zm1 0zm2 0zm1 0zm1 0zm19 0zm1 0zm4 0zm11 0zm8 0zm2 0zm8 0zm18 0zm3 0zm15 0zm-158 1zm1 0zm19 0zm12 0zm20 0zm3 0zm1 0zm1 0zm1 0zm1 0zm1 0zm2 0zm1 0zm1 0zm1 0zm1 0zm2 0zm1 0zm1 0zm1 0zm1 0zm2 0zm3 0zm10 0zm8 0zm4 0zm2 0zm2 0zm4 0zm2 0zm2 0zm13 0zm6 0zm7 0zm10 0zm-119 1zm21 0zm3 0zm2 0zm3 0zm1 0zm1 0zm1 0zm1 0zm1 0zm1 0zm1 0zm2 0zm1 0zm1 0zm1 0zm1 0zm1 0zm1 0zm4 0zm13 0zm10 0zm5 0zm3 0zm5 0zm4 0zm2 0zm5 0zm2 0zm12 0zm4 0zm18 0zm-161 1zm1 0zm20 0zm17 0zm5 0zm7 0zm4 0zm1 0zm1 0zm2 0zm2 0zm1 0zm1 0zm1 0zm1 0zm1 0zm1 0zm1 0zm1 0zm1 0zm1 0zm1 0zm1 0zm1 0zm1 0zm2 0zm2 0zm1 0zm10 0zm1 0zm2 0zm1 0zm1 0zm7 0zm1 0zm1 0zm2 0zm5 0zm2 0zm1 0zm3 0zm1 0zm1 0zm2 0zm6 0zm10 0zm11 0zm1 0zm7 0zm28 0zm-181 1zm14 0zm10 0zm23 0zm3 0zm3 0zm2 0zm1 0zm1 0zm1 0zm1 0zm1 0zm1 0zm1 0zm1 0zm1 0zm1 0zm1 0zm1 0zm1 0zm1 0zm1 0zm2 0zm1 0zm6 0zm1 0zm4 0zm3 0zm3 0zm2 0zm4 0zm2 0zm2 0zm1 0zm1 0zm3 0zm4 0zm3 0zm3 0zm1 0zm5 0zm7 0zm2 0zm2 0zm3 0zm27 0zm27 0zm30 0zm-221 1zm3 0zm39 0zm5 0zm2 0zm5 0zm3 0zm1 0zm1 0zm1 0zm1 0zm1 0zm1 0zm1 0zm1 0zm1 0zm1 0zm1 0zm1 0zm1 0zm1 0zm2 0zm1 0zm1 0zm3 0zm2 0zm8 0zm7 0zm5 0zm3 0zm1 0zm3 0zm2 0zm1 0zm1 0zm1 0zm3 0zm2 0zm3 0zm1 0zm2 0zm6 0zm3 0zm4 0zm9 0zm11 0zm6 0zm14 0zm6 0zm-181 1zm1 0zm20 0zm20 0zm5 0zm2 0zm1 0zm1 0zm4 0zm1 0zm1 0zm1 0zm1 0zm1 0zm1 0zm1 0zm1 0zm1 0zm1 0zm1 0zm1 0zm1 0zm1 0zm1 0zm1 0zm1 0zm1 0zm12 0zm5 0zm2 0zm3 0zm1 0zm2 0zm1 0zm1 0zm3 0zm1 0zm1 0zm1 0zm1 0zm1 0zm2 0zm1 0zm7 0zm2 0zm1 0zm1 0zm4 0zm1 0zm64 0zm-188 1zm3 0zm25 0zm10 0zm2 0zm8 0zm1 0zm2 0zm1 0zm1 0zm1 0zm1 0zm1 0zm1 0zm1 0zm1 0zm1 0zm1 0zm1 0zm1 0zm1 0zm1 0zm1 0zm1 0zm1 0zm2 0zm1 0zm2 0zm5 0zm7 0zm9 0zm1 0zm5 0zm8 0zm1 0zm9 0zm5 0zm2 0zm5 0zm7 0zm4 0zm36 0zm-175 1zm11 0zm22 0zm6 0zm3 0zm1 0zm2 0zm2 0zm1 0zm1 0zm1 0zm2 0zm1 0zm1 0zm1 0zm1 0zm1 0zm1 0zm1 0zm1 0zm1 0zm1 0zm1 0zm1 0zm1 0zm1 0zm2 0zm1 0zm2 0zm2 0zm4 0zm2 0zm4 0zm3 0zm3 0zm8 0zm2 0zm4 0zm1 0zm1 0zm4 0zm5 0zm10 0zm-130 1zm2 0zm42 0zm2 0zm2 0zm2 0zm2 0zm1 0zm1 0zm1 0zm1 0zm1 0zm1 0zm1 0zm1 0zm1 0zm1 0zm1 0zm1 0zm1 0zm1 0zm1 0zm1 0zm1 0zm1 0zm1 0zm1 0zm1 0zm1 0zm1 0zm1 0zm1 0zm1 0zm3 0zm7 0zm7 0zm2 0zm5 0zm2 0zm18 0zm2 0zm6 0zm5 0zm3 0zm3 0zm11 0zm25 0zm10 0zm-144 1zm3 0zm1 0zm2 0zm1 0zm1 0zm1 0zm1 0zm1 0zm3 0zm1 0zm1 0zm1 0zm1 0zm1 0zm1 0zm1 0zm1 0zm1 0zm1 0zm1 0zm1 0zm1 0zm1 0zm1 0zm1 0zm1 0zm1 0zm1 0zm1 0zm1 0zm5 0zm3 0zm1 0zm5 0zm9 0zm2 0zm2 0zm5 0zm8 0zm1 0zm2 0zm1 0zm1 0zm-125 1zm5 0zm1 0zm27 0zm4 0zm2 0zm7 0zm5 0zm2 0zm1 0zm2 0zm1 0zm1 0zm1 0zm1 0zm1 0zm1 0zm1 0zm1 0zm1 0zm1 0zm1 0zm1 0zm1 0zm1 0zm1 0zm1 0zm1 0zm2 0zm1 0zm1 0zm1 0zm1 0zm8 0zm11 0zm3 0zm2 0zm3 0zm3 0zm1 0zm3 0zm2 0zm1 0zm4 0zm11 0zm14 0zm6 0zm-147 1zm4 0zm3 0zm33 0zm1 0zm1 0zm1 0zm2 0zm2 0zm1 0zm1 0zm1 0zm1 0zm1 0zm1 0zm1 0zm1 0zm1 0zm1 0zm1 0zm1 0zm1 0zm1 0zm1 0zm1 0zm1 0zm1 0zm1 0zm1 0zm1 0zm1 0zm1 0zm1 0zm1 0zm1 0zm1 0zm12 0zm9 0zm1 0zm1 0zm3 0zm1 0zm6 0zm1 0zm1 0zm2 0zm1 0zm2 0zm5 0zm3 0zm1 0zm34 0zm-158 1zm2 0zm25 0zm16 0zm1 0zm2 0zm1 0zm1 0zm2 0zm1 0zm1 0zm1 0zm1 0zm1 0zm1 0zm1 0zm1 0zm1 0zm1 0zm1 0zm1 0zm1 0zm1 0zm1 0zm1 0zm1 0zm1 0zm1 0zm1 0zm1 0zm1 0zm1 0zm1 0zm3 0zm2 0zm5 0zm1 0zm5 0zm4 0zm4 0zm3 0zm1 0zm3 0zm1 0zm1 0zm5 0zm3 0zm2 0zm1 0zm7 0zm4 0zm5 0zm-129 1zm26 0zm10 0zm3 0zm1 0zm1 0zm1 0zm1 0zm1 0zm1 0zm1 0zm1 0zm1 0zm1 0zm1 0zm1 0zm1 0zm1 0zm1 0zm1 0zm1 0zm1 0zm1 0zm1 0zm1 0zm1 0zm1 0zm1 0zm1 0zm1 0zm1 0zm1 0zm2 0zm6 0zm10 0zm15 0zm4 0zm1 0zm1 0zm3 0zm2 0zm-75 1zm1 0zm1 0zm1 0zm1 0zm1 0zm2 0zm1 0zm1 0zm1 0zm1 0zm1 0zm1 0zm1 0zm1 0zm1 0zm1 0zm1 0zm1 0zm1 0zm1 0zm1 0zm1 0zm1 0zm2 0zm1 0zm1 0zm1 0zm1 0zm1 0zm3 0zm1 0zm1 0zm3 0zm19 0zm3 0zm17 0zm8 0zm31 0zm4 0zm22 0zm5 0zm-190 1zm37 0zm2 0zm1 0zm2 0zm2 0zm1 0zm2 0zm1 0zm1 0zm1 0zm1 0zm1 0zm1 0zm1 0zm1 0zm1 0zm1 0zm1 0zm1 0zm1 0zm1 0zm1 0zm1 0zm1 0zm1 0zm1 0zm1 0zm1 0zm1 0zm1 0zm1 0zm1 0zm1 0zm2 0zm1 0zm1 0zm2 0zm17 0zm9 0zm7 0zm7 0zm6 0zm1 0zm1 0zm7 0zm23 0zm-156 1zm6 0zm32 0zm1 0zm6 0zm1 0zm1 0zm1 0zm1 0zm1 0zm1 0zm1 0zm1 0zm1 0zm1 0zm1 0zm1 0zm1 0zm1 0zm1 0zm1 0zm1 0zm1 0zm1 0zm1 0zm1 0zm1 0zm1 0zm1 0zm1 0zm1 0zm1 0zm1 0zm1 0zm3 0zm2 0zm6 0zm2 0zm5 0zm4 0zm5 0zm4 0zm2 0zm1 0zm1 0zm3 0zm3 0zm1 0zm2 0zm11 0zm-125 1zm34 0zm2 0zm1 0zm1 0zm2 0zm1 0zm1 0zm1 0zm1 0zm1 0zm1 0zm1 0zm1 0zm1 0zm1 0zm1 0zm1 0zm1 0zm1 0zm1 0zm1 0zm1 0zm1 0zm1 0zm1 0zm1 0zm1 0zm1 0zm1 0zm1 0zm2 0zm2 0zm8 0zm4 0zm10 0zm4 0zm1 0zm3 0zm6 0zm6 0zm2 0zm11 0zm8 0zm-134 1zm2 0zm37 0zm3 0zm1 0zm1 0zm1 0zm1 0zm1 0zm1 0zm1 0zm1 0zm1 0zm1 0zm1 0zm1 0zm1 0zm1 0zm1 0zm1 0zm1 0zm1 0zm1 0zm1 0zm1 0zm1 0zm1 0zm1 0zm1 0zm1 0zm1 0zm1 0zm1 0zm1 0zm1 0zm3 0zm6 0zm2 0zm8 0zm4 0zm7 0zm2 0zm3 0zm3 0zm8 0zm6 0zm14 0zm-139 1zm1 0zm2 0zm28 0zm6 0zm1 0zm3 0zm2 0zm1 0zm1 0zm1 0zm1 0zm1 0zm1 0zm1 0zm1 0zm1 0zm1 0zm1 0zm1 0zm1 0zm1 0zm1 0zm1 0zm1 0zm1 0zm1 0zm1 0zm1 0zm1 0zm1 0zm1 0zm1 0zm1 0zm2 0zm1 0zm2 0zm1 0zm5 0zm5 0zm2 0zm6 0zm7 0zm1 0zm1 0zm13 0zm6 0zm12 0zm1 0zm-135 1zm34 0zm1 0zm4 0zm1 0zm2 0zm2 0zm1 0zm1 0zm1 0zm1 0zm1 0zm1 0zm1 0zm1 0zm1 0zm1 0zm1 0zm1 0zm1 0zm1 0zm1 0zm1 0zm1 0zm1 0zm1 0zm1 0zm1 0zm1 0zm2 0zm1 0zm1 0zm1 0zm2 0zm3 0zm4 0zm4 0zm6 0zm14 0zm4 0zm3 0zm30 0zm15 0zm-153 1zm3 0zm22 0zm4 0zm4 0zm6 0zm3 0zm1 0zm1 0zm1 0zm1 0zm1 0zm1 0zm1 0zm1 0zm1 0zm1 0zm1 0zm1 0zm1 0zm1 0zm1 0zm1 0zm1 0zm1 0zm1 0zm1 0zm1 0zm1 0zm1 0zm1 0zm1 0zm6 0zm1 0zm1 0zm12 0zm19 0zm52 0zm-159 1zm4 0zm23 0zm3 0zm2 0zm4 0zm1 0zm2 0zm1 0zm1 0zm1 0zm1 0zm1 0zm1 0zm1 0zm1 0zm1 0zm1 0zm1 0zm1 0zm1 0zm1 0zm1 0zm1 0zm1 0zm1 0zm1 0zm1 0zm1 0zm1 0zm1 0zm1 0zm1 0zm4 0zm13 0zm17 0zm6 0zm6 0zm25 0zm19 0zm3 0zm-159 1zm25 0zm13 0zm3 0zm1 0zm1 0zm1 0zm1 0zm1 0zm1 0zm1 0zm1 0zm1 0zm1 0zm1 0zm1 0zm1 0zm1 0zm1 0zm1 0zm1 0zm1 0zm1 0zm1 0zm1 0zm1 0zm1 0zm1 0zm3 0zm1 0zm1 0zm25 0zm1 0zm24 0zm8 0zm-127 1zm33 0zm4 0zm1 0zm2 0zm1 0zm1 0zm1 0zm1 0zm1 0zm1 0zm1 0zm1 0zm1 0zm1 0zm1 0zm1 0zm1 0zm1 0zm1 0zm1 0zm1 0zm1 0zm2 0zm1 0zm1 0zm1 0zm1 0zm1 0zm1 0zm1 0zm1 0zm4 0zm13 0zm19 0zm5 0zm-109 1zm4 0zm30 0zm5 0zm1 0zm1 0zm1 0zm2 0zm1 0zm1 0zm1 0zm1 0zm1 0zm1 0zm1 0zm1 0zm1 0zm1 0zm1 0zm1 0zm1 0zm1 0zm1 0zm1 0zm1 0zm1 0zm1 0zm3 0zm1 0zm43 0zm1 0zm1 0zm-112 1zm26 0zm7 0zm2 0zm5 0zm1 0zm1 0zm1 0zm1 0zm1 0zm1 0zm1 0zm1 0zm1 0zm1 0zm1 0zm1 0zm1 0zm1 0zm1 0zm1 0zm1 0zm2 0zm1 0zm1 0zm3 0zm1 0zm1 0zm2 0zm2 0zm13 0zm10 0zm5 0zm13 0zm-111 1zm36 0zm1 0zm1 0zm1 0zm2 0zm1 0zm1 0zm1 0zm1 0zm1 0zm1 0zm1 0zm1 0zm1 0zm1 0zm1 0zm1 0zm1 0zm1 0zm1 0zm1 0zm2 0zm1 0zm1 0zm1 0zm2 0zm1 0zm6 0zm2 0zm2 0zm29 0zm-75 1zm10 0zm1 0zm2 0zm1 0zm1 0zm1 0zm1 0zm1 0zm1 0zm1 0zm1 0zm1 0zm1 0zm1 0zm1 0zm1 0zm1 0zm1 0zm1 0zm3 0zm2 0zm2 0zm16 0zm8 0zm15 0zm-66 1zm1 0zm2 0zm2 0zm1 0zm1 0zm2 0zm1 0zm1 0zm1 0zm1 0zm1 0zm2 0zm1 0zm1 0zm3 0zm1 0zm1 0zm2 0zm8 0zm66 0zm-139 1zm37 0zm5 0zm2 0zm1 0zm1 0zm1 0zm1 0zm2 0zm1 0zm1 0zm1 0zm1 0zm1 0zm1 0zm1 0zm1 0zm1 0zm2 0zm1 0zm48 0zm1 0zm-76 1zm8 0zm2 0zm1 0zm1 0zm1 0zm1 0zm1 0zm2 0zm1 0zm2 0zm1 0zm2 0zm1 0zm1 0zm4 0zm2 0zm21 0zm-85 1zm2 0zm38 0zm3 0zm2 0zm1 0zm1 0zm1 0zm1 0zm1 0zm1 0zm1 0zm1 0zm1 0zm2 0zm4 0zm1 0zm1 0zm7 0zm-70 1zm8 0zm31 0zm3 0zm4 0zm1 0zm2 0zm1 0zm1 0zm1 0zm1 0zm2 0zm3 0zm3 0zm2 0zm1 0zm1 0zm2 0zm2 0zm3 0zm2 0zm-71 1zm29 0zm10 0zm3 0zm1 0zm1 0zm2 0zm3 0zm2 0zm3 0zm1 0zm2 0zm1 0zm1 0zm-27 1zm6 0zm4 0zm1 0zm3 0zm1 0zm5 0zm1 0zm2 0zm6 0zm-31 1zm11 0zm3 0zm1 0zm2 0zm1 0zm2 0zm12 0zm74 0zm-93 1zm7 0zm1 0zm5 0zm53 0zm-89 1zm38 0zm34 0zm-55 1zm1 0zm12 1zm3 0zm7 0zm-17 2zm1 0zm11 0zm-27 1zm-8 3zm17 4z" stroke="#000" stroke-width="1.3" stroke-linecap="square" fill="none"/>
<polygon points="159.0,1086.9 315.9,1073.4 323.8,1169.9 167.0,1182.9" fill="none" stroke="#232c94" stroke-width="3.1"/>
<text x="333.3" y="1119.9" font-size="39.4" id="t48" class="o" clip-path="url(#ct48)">30.1</text>
<line x1="130.7" y1="1319.4" x2="130.7" y2="1542.5" stroke="#000" stroke-width="1.7"/>
<line x1="129.9" y1="1541.8" x2="433.3" y2="1541.8" stroke="#000" stroke-width="1.5"/>
<line x1="130.7" y1="1541.8" x2="130.7" y2="1547.2" stroke="#000" stroke-width="1.4"/>
<line x1="149.6" y1="1541.8" x2="149.6" y2="1545.4" stroke="#000" stroke-width="1.4"/>
<line x1="168.4" y1="1541.8" x2="168.4" y2="1545.4" stroke="#000" stroke-width="1.4"/>
<line x1="187.3" y1="1541.8" x2="187.3" y2="1545.4" stroke="#000" stroke-width="1.4"/>
<line x1="206.2" y1="1541.8" x2="206.2" y2="1547.2" stroke="#000" stroke-width="1.4"/>
<line x1="225.1" y1="1541.8" x2="225.1" y2="1545.4" stroke="#000" stroke-width="1.4"/>
<line x1="243.9" y1="1541.8" x2="243.9" y2="1545.4" stroke="#000" stroke-width="1.4"/>
<line x1="262.8" y1="1541.8" x2="262.8" y2="1545.4" stroke="#000" stroke-width="1.4"/>
<line x1="281.7" y1="1541.8" x2="281.7" y2="1547.2" stroke="#000" stroke-width="1.4"/>
<line x1="300.6" y1="1541.8" x2="300.6" y2="1545.4" stroke="#000" stroke-width="1.4"/>
<line x1="319.4" y1="1541.8" x2="319.4" y2="1545.4" stroke="#000" stroke-width="1.4"/>
<line x1="338.3" y1="1541.8" x2="338.3" y2="1545.4" stroke="#000" stroke-width="1.4"/>
<line x1="357.2" y1="1541.8" x2="357.2" y2="1547.2" stroke="#000" stroke-width="1.4"/>
<line x1="376.1" y1="1541.8" x2="376.1" y2="1545.4" stroke="#000" stroke-width="1.4"/>
<line x1="394.9" y1="1541.8" x2="394.9" y2="1545.4" stroke="#000" stroke-width="1.4"/>
<line x1="413.8" y1="1541.8" x2="413.8" y2="1545.4" stroke="#000" stroke-width="1.4"/>
<line x1="432.7" y1="1541.8" x2="432.7" y2="1547.2" stroke="#000" stroke-width="1.4"/>
<line x1="125.3" y1="1340.7" x2="130.7" y2="1340.7" stroke="#000" stroke-width="1.4"/>
<line x1="127.1" y1="1375.2" x2="130.7" y2="1375.2" stroke="#000" stroke-width="1.4"/>
<line x1="127.1" y1="1366.5" x2="130.7" y2="1366.5" stroke="#000" stroke-width="1.4"/>
<line x1="127.1" y1="1360.4" x2="130.7" y2="1360.4" stroke="#000" stroke-width="1.4"/>
<line x1="127.1" y1="1355.6" x2="130.7" y2="1355.6" stroke="#000" stroke-width="1.4"/>
<line x1="127.1" y1="1351.7" x2="130.7" y2="1351.7" stroke="#000" stroke-width="1.4"/>
<line x1="127.1" y1="1348.4" x2="130.7" y2="1348.4" stroke="#000" stroke-width="1.4"/>
<line x1="127.1" y1="1345.5" x2="130.7" y2="1345.5" stroke="#000" stroke-width="1.4"/>
<line x1="127.1" y1="1343.0" x2="130.7" y2="1343.0" stroke="#000" stroke-width="1.4"/>
<line x1="125.3" y1="1389.6" x2="130.7" y2="1389.6" stroke="#000" stroke-width="1.4"/>
<line x1="127.1" y1="1424.1" x2="130.7" y2="1424.1" stroke="#000" stroke-width="1.4"/>
<line x1="127.1" y1="1415.4" x2="130.7" y2="1415.4" stroke="#000" stroke-width="1.4"/>
<line x1="127.1" y1="1409.3" x2="130.7" y2="1409.3" stroke="#000" stroke-width="1.4"/>
<line x1="127.1" y1="1404.5" x2="130.7" y2="1404.5" stroke="#000" stroke-width="1.4"/>
<line x1="127.1" y1="1400.6" x2="130.7" y2="1400.6" stroke="#000" stroke-width="1.4"/>
<line x1="127.1" y1="1397.3" x2="130.7" y2="1397.3" stroke="#000" stroke-width="1.4"/>
<line x1="127.1" y1="1394.4" x2="130.7" y2="1394.4" stroke="#000" stroke-width="1.4"/>
<line x1="127.1" y1="1391.9" x2="130.7" y2="1391.9" stroke="#000" stroke-width="1.4"/>
<line x1="125.3" y1="1439.5" x2="130.7" y2="1439.5" stroke="#000" stroke-width="1.4"/>
<line x1="127.1" y1="1474.0" x2="130.7" y2="1474.0" stroke="#000" stroke-width="1.4"/>
<line x1="127.1" y1="1465.3" x2="130.7" y2="1465.3" stroke="#000" stroke-width="1.4"/>
<line x1="127.1" y1="1459.2" x2="130.7" y2="1459.2" stroke="#000" stroke-width="1.4"/>
<line x1="127.1" y1="1454.4" x2="130.7" y2="1454.4" stroke="#000" stroke-width="1.4"/>
<line x1="127.1" y1="1450.5" x2="130.7" y2="1450.5" stroke="#000" stroke-width="1.4"/>
<line x1="127.1" y1="1447.2" x2="130.7" y2="1447.2" stroke="#000" stroke-width="1.4"/>
<line x1="127.1" y1="1444.3" x2="130.7" y2="1444.3" stroke="#000" stroke-width="1.4"/>
<line x1="127.1" y1="1441.8" x2="130.7" y2="1441.8" stroke="#000" stroke-width="1.4"/>
<line x1="125.3" y1="1488.8" x2="130.7" y2="1488.8" stroke="#000" stroke-width="1.4"/>
<line x1="127.1" y1="1523.3" x2="130.7" y2="1523.3" stroke="#000" stroke-width="1.4"/>
<line x1="127.1" y1="1514.6" x2="130.7" y2="1514.6" stroke="#000" stroke-width="1.4"/>
<line x1="127.1" y1="1508.5" x2="130.7" y2="1508.5" stroke="#000" stroke-width="1.4"/>
<line x1="127.1" y1="1503.7" x2="130.7" y2="1503.7" stroke="#000" stroke-width="1.4"/>
<line x1="127.1" y1="1499.8" x2="130.7" y2="1499.8" stroke="#000" stroke-width="1.4"/>
<line x1="127.1" y1="1496.5" x2="130.7" y2="1496.5" stroke="#000" stroke-width="1.4"/>
<line x1="127.1" y1="1493.6" x2="130.7" y2="1493.6" stroke="#000" stroke-width="1.4"/>
<line x1="127.1" y1="1491.1" x2="130.7" y2="1491.1" stroke="#000" stroke-width="1.4"/>
<line x1="127.1" y1="1325.8" x2="130.7" y2="1325.8" stroke="#000" stroke-width="1.4"/>
<rect x="125.7" y="1530.5" width="5" height="9.5" fill="#000"/>
<path transform="translate(.5 .5)" d="M391 1368zm13 2zm4 0zm19 0zm-42 1zm1 0zm31 0zm8 0zm2 1zm-26 1zm4 0zm19 0zm4 0zm-57 1zm-15 1zm52 0zm24 0zm-68 1zm17 0zm10 0zm29 0zm12 0zm-96 1zm12 1zm51 0zm3 0zm21 0zm2 0zm3 0zm2 0zm2 0zm-125 1zm77 0zm31 0zm13 0zm4 0zm-70 1zm14 0zm1 0zm19 0zm11 0zm3 0zm19 0zm-88 1zm36 0zm27 0zm28 0zm-123 1zm20 0zm34 0zm8 0zm33 0zm-85 1zm7 0zm27 0zm3 0zm15 0zm46 0zm-73 1zm22 0zm13 0zm23 0zm2 0zm5 0zm1 0zm5 0zm-77 1zm15 0zm1 0zm15 0zm-92 1zm136 0zm4 0zm-143 2zm13 0zm16 0zm2 0zm5 0zm15 0zm25 0zm66 0zm12 0zm-111 1zm21 0zm5 0zm46 0zm-122 1zm11 0zm38 0zm4 0zm10 0zm13 0zm23 0zm13 0zm1 0zm17 0zm22 0zm13 0zm-156 1zm7 0zm19 0zm2 0zm27 0zm13 0zm1 0zm-64 1zm6 0zm4 0zm49 0zm7 0zm43 0zm26 0zm-164 1zm8 0zm14 0zm71 0zm1 0zm10 0zm6 0zm4 0zm22 0zm31 0zm-157 1zm79 0zm27 0zm8 0zm12 0zm18 0zm7 0zm6 0zm13 0zm-181 1zm1 0zm2 0zm64 0zm18 0zm5 0zm5 0zm5 0zm4 0zm-71 1zm48 0zm4 0zm51 0zm36 0zm1 0zm-162 1zm5 0zm38 0zm10 0zm34 0zm7 0zm6 0zm36 0zm22 0zm-153 1zm25 0zm7 0zm25 0zm18 0zm4 0zm25 0zm21 0zm7 0zm16 0zm-154 1zm24 0zm37 0zm63 0zm3 0zm5 0zm-155 1zm17 0zm47 0zm20 0zm36 0zm54 0zm20 0zm-192 1zm9 0zm23 0zm58 0zm12 0zm-75 1zm49 0zm29 0zm60 0zm-158 1zm5 0zm19 0zm19 0zm10 0zm42 0zm16 0zm5 0zm20 0zm14 0zm15 0zm15 0zm5 0zm-170 1zm7 0zm69 0zm6 0zm11 0zm22 0zm49 0zm-192 1zm37 0zm6 0zm5 0zm8 0zm11 0zm11 0zm9 0zm19 0zm16 0zm4 0zm6 0zm8 0zm9 0zm25 0zm4 0zm5 0zm15 0zm-194 1zm33 0zm12 0zm22 0zm35 0zm1 0zm18 0zm27 0zm14 0zm6 0zm9 0zm11 0zm6 0zm-193 1zm4 0zm15 0zm45 0zm26 0zm13 0zm34 0zm1 0zm53 0zm-180 1zm34 0zm19 0zm20 0zm29 0zm11 0zm10 0zm7 0zm5 0zm31 0zm16 0zm-145 1zm17 0zm9 0zm4 0zm4 0zm28 0zm53 0zm30 0zm-210 1zm3 0zm57 0zm5 0zm20 0zm44 0zm67 0zm6 0zm8 0zm-209 1zm6 0zm1 0zm7 0zm13 0zm3 0zm24 0zm5 0zm61 0zm76 0zm13 0zm-212 1zm10 0zm18 0zm58 0zm10 0zm19 0zm1 0zm39 0zm8 0zm3 0zm35 0zm-201 1zm41 0zm6 0zm10 0zm33 0zm24 0zm26 0zm19 0zm5 0zm18 0zm7 0zm1 0zm2 0zm7 0zm13 0zm-211 1zm12 0zm7 0zm4 0zm15 0zm16 0zm5 0zm20 0zm19 0zm3 0zm76 0zm32 0zm2 0zm-264 1zm56 0zm1 0zm5 0zm55 0zm9 0zm12 0zm9 0zm9 0zm2 0zm22 0zm26 0zm21 0zm9 0zm6 0zm16 0zm6 0zm-290 1zm27 0zm60 0zm5 0zm38 0zm9 0zm7 0zm7 0zm6 0zm2 0zm26 0zm3 0zm13 0zm10 0zm11 0zm36 0zm4 0zm6 0zm3 0zm17 0zm-295 1zm97 0zm3 0zm76 0zm28 0zm20 0zm20 0zm9 0zm5 0zm-246 1zm20 0zm13 0zm54 0zm45 0zm8 0zm16 0zm39 0zm2 0zm3 0zm3 0zm9 0zm27 0zm2 0zm6 0zm-226 1zm51 0zm8 0zm24 0zm2 0zm8 0zm3 0zm35 0zm6 0zm43 0zm21 0zm2 0zm1 0zm6 0zm1 0zm5 0zm5 0zm41 0zm-205 1zm31 0zm9 0zm20 0zm2 0zm2 0zm25 0zm1 0zm14 0zm5 0zm-196 1zm97 0zm3 0zm11 0zm76 0zm-186 1zm89 0zm34 0zm6 0zm42 0zm37 0zm6 0zm9 0zm24 0zm3 0zm41 0zm-290 1zm72 0zm11 0zm9 0zm6 0zm16 0zm14 0zm12 0zm6 0zm44 0zm19 0zm-196 1zm95 0zm12 0zm26 0zm1 0zm5 0zm1 0zm1 0zm20 0zm27 0zm10 0zm-72 1zm56 0zm12 0zm4 0zm-192 1zm49 0zm1 0zm5 0zm2 0zm7 0zm1 0zm34 0zm5 0zm5 0zm2 0zm5 0zm16 0zm14 0zm4 0zm1 0zm49 0zm5 0zm36 0zm14 0zm16 0zm-195 1zm1 0zm8 0zm133 0zm-233 1zm66 0zm2 0zm2 0zm16 0zm3 0zm65 0zm33 0zm34 0zm8 0zm10 0zm18 0zm10 0zm-234 1zm32 0zm6 0zm38 0zm9 0zm20 0zm18 0zm11 0zm14 0zm13 0zm29 0zm5 0zm9 0zm20 0zm27 0zm-284 1zm2 0zm72 0zm2 0zm8 0zm25 0zm14 0zm45 0zm16 0zm5 0zm14 0zm19 0zm33 0zm17 0zm-275 1zm19 0zm48 0zm3 0zm3 0zm16 0zm13 0zm4 0zm2 0zm1 0zm43 0zm7 0zm17 0zm4 0zm2 0zm20 0zm11 0zm45 0zm12 0zm-190 1zm6 0zm60 0zm13 0zm4 0zm14 0zm15 0zm4 0zm7 0zm1 0zm26 0zm34 0zm1 0zm-244 1zm46 0zm9 0zm2 0zm1 0zm3 0zm7 0zm4 0zm29 0zm27 0zm34 0zm2 0zm1 0zm2 0zm11 0zm12 0zm1 0zm15 0zm25 0zm1 0zm2 0zm-177 1zm19 0zm27 0zm24 0zm1 0zm28 0zm5 0zm1 0zm3 0zm1 0zm4 0zm5 0zm2 0zm17 0zm6 0zm1 0zm8 0zm2 0zm6 0zm3 0zm4 0zm8 0zm2 0zm9 0zm1 0zm5 0zm1 0zm11 0zm-289 1zm17 0zm19 0zm72 0zm6 0zm24 0zm13 0zm10 0zm7 0zm1 0zm4 0zm10 0zm2 0zm2 0zm2 0zm3 0zm17 0zm2 0zm4 0zm5 0zm4 0zm2 0zm7 0zm7 0zm6 0zm3 0zm25 0zm21 0zm-274 1zm91 0zm14 0zm10 0zm14 0zm4 0zm3 0zm2 0zm2 0zm5 0zm2 0zm2 0zm4 0zm5 0zm5 0zm1 0zm25 0zm11 0zm10 0zm8 0zm1 0zm2 0zm1 0zm5 0zm1 0zm3 0zm6 0zm5 0zm22 0zm5 0zm-218 1zm2 0zm8 0zm2 0zm14 0zm12 0zm4 0zm6 0zm17 0zm1 0zm1 0zm6 0zm3 0zm4 0zm2 0zm1 0zm1 0zm1 0zm7 0zm1 0zm2 0zm7 0zm1 0zm2 0zm6 0zm10 0zm4 0zm13 0zm1 0zm8 0zm8 0zm9 0zm9 0zm8 0zm3 0zm5 0zm23 0zm-279 1zm42 0zm25 0zm28 0zm5 0zm21 0zm3 0zm4 0zm25 0zm2 0zm9 0zm2 0zm2 0zm2 0zm4 0zm1 0zm1 0zm3 0zm1 0zm4 0zm1 0zm4 0zm1 0zm7 0zm3 0zm1 0zm3 0zm3 0zm14 0zm4 0zm5 0zm2 0zm6 0zm3 0zm29 0zm2 0zm14 0zm5 0zm-283 1zm50 0zm20 0zm14 0zm28 0zm1 0zm4 0zm1 0zm5 0zm9 0zm2 0zm11 0zm2 0zm3 0zm2 0zm1 0zm1 0zm3 0zm1 0zm3 0zm1 0zm2 0zm7 0zm4 0zm2 0zm11 0zm2 0zm2 0zm1 0zm20 0zm2 0zm1 0zm1 0zm1 0zm1 0zm13 0zm2 0zm13 0zm2 0zm11 0zm10 0zm8 0zm-276 1zm81 0zm1 0zm5 0zm3 0zm1 0zm2 0zm4 0zm17 0zm11 0zm3 0zm4 0zm3 0zm2 0zm1 0zm1 0zm4 0zm2 0zm1 0zm7 0zm1 0zm2 0zm1 0zm3 0zm3 0zm1 0zm4 0zm1 0zm3 0zm1 0zm1 0zm2 0zm1 0zm1 0zm1 0zm2 0zm14 0zm10 0zm4 0zm4 0zm1 0zm10 0zm10 0zm1 0zm4 0zm9 0zm3 0zm5 0zm10 0zm15 0zm-226 1zm16 0zm10 0zm1 0zm6 0zm27 0zm3 0zm3 0zm9 0zm1 0zm2 0zm1 0zm5 0zm1 0zm2 0zm6 0zm2 0zm7 0zm2 0zm4 0zm2 0zm2 0zm3 0zm1 0zm3 0zm4 0zm2 0zm5 0zm3 0zm1 0zm3 0zm3 0zm2 0zm1 0zm2 0zm7 0zm2 0zm2 0zm2 0zm5 0zm3 0zm6 0zm2 0zm13 0zm3 0zm5 0zm12 0zm16 0zm3 0zm-294 1zm30 0zm42 0zm11 0zm4 0zm1 0zm8 0zm4 0zm3 0zm3 0zm1 0zm5 0zm1 0zm1 0zm1 0zm2 0zm8 0zm7 0zm2 0zm3 0zm2 0zm1 0zm4 0zm2 0zm1 0zm1 0zm7 0zm2 0zm1 0zm2 0zm1 0zm1 0zm1 0zm3 0zm1 0zm1 0zm3 0zm1 0zm6 0zm3 0zm3 0zm1 0zm2 0zm9 0zm2 0zm3 0zm2 0zm1 0zm1 0zm1 0zm13 0zm6 0zm6 0zm7 0zm10 0zm11 0zm11 0zm6 0zm9 0zm-271 1zm26 0zm30 0zm1 0zm4 0zm16 0zm2 0zm1 0zm3 0zm1 0zm1 0zm13 0zm1 0zm2 0zm1 0zm6 0zm8 0zm6 0zm1 0zm1 0zm1 0zm1 0zm1 0zm1 0zm1 0zm5 0zm1 0zm2 0zm3 0zm1 0zm3 0zm2 0zm1 0zm2 0zm1 0zm3 0zm1 0zm4 0zm1 0zm1 0zm2 0zm1 0zm4 0zm4 0zm1 0zm1 0zm1 0zm3 0zm3 0zm3 0zm4 0zm2 0zm2 0zm3 0zm5 0zm1 0zm1 0zm8 0zm2 0zm2 0zm6 0zm1 0zm1 0zm3 0zm2 0zm8 0zm1 0zm20 0zm1 0zm6 0zm-268 1zm31 0zm26 0zm25 0zm3 0zm1 0zm1 0zm1 0zm2 0zm3 0zm1 0zm1 0zm1 0zm1 0zm4 0zm4 0zm2 0zm1 0zm7 0zm2 0zm1 0zm11 0zm1 0zm1 0zm1 0zm4 0zm2 0zm9 0zm1 0zm4 0zm2 0zm3 0zm3 0zm4 0zm2 0zm3 0zm2 0zm4 0zm1 0zm2 0zm2 0zm1 0zm5 0zm1 0zm5 0zm1 0zm2 0zm6 0zm1 0zm6 0zm3 0zm4 0zm3 0zm4 0zm5 0zm9 0zm3 0zm18 0zm11 0zm5 0zm6 0zm1 0zm6 0zm-283 1zm49 0zm10 0zm5 0zm4 0zm3 0zm1 0zm1 0zm3 0zm1 0zm1 0zm1 0zm2 0zm1 0zm5 0zm3 0zm5 0zm1 0zm2 0zm1 0zm3 0zm2 0zm3 0zm2 0zm5 0zm2 0zm1 0zm1 0zm4 0zm2 0zm1 0zm3 0zm1 0zm2 0zm1 0zm1 0zm1 0zm1 0zm2 0zm2 0zm1 0zm1 0zm2 0zm2 0zm2 0zm4 0zm1 0zm1 0zm3 0zm2 0zm1 0zm4 0zm3 0zm2 0zm1 0zm1 0zm2 0zm1 0zm4 0zm2 0zm1 0zm1 0zm3 0zm2 0zm1 0zm6 0zm4 0zm1 0zm1 0zm3 0zm4 0zm3 0zm4 0zm6 0zm2 0zm1 0zm1 0zm8 0zm4 0zm3 0zm4 0zm1 0zm27 0zm13 0zm-293 1zm5 0zm2 0zm2 0zm2 0zm25 0zm29 0zm1 0zm3 0zm2 0zm2 0zm7 0zm1 0zm1 0zm1 0zm2 0zm2 0zm1 0zm2 0zm1 0zm1 0zm1 0zm1 0zm3 0zm1 0zm2 0zm5 0zm4 0zm2 0zm1 0zm1 0zm7 0zm3 0zm4 0zm1 0zm3 0zm1 0zm1 0zm3 0zm1 0zm2 0zm3 0zm2 0zm1 0zm1 0zm1 0zm1 0zm1 0zm1 0zm1 0zm2 0zm1 0zm1 0zm2 0zm1 0zm1 0zm2 0zm2 0zm1 0zm2 0zm4 0zm2 0zm1 0zm1 0zm2 0zm1 0zm1 0zm2 0zm2 0zm2 0zm3 0zm2 0zm4 0zm1 0zm2 0zm2 0zm1 0zm2 0zm2 0zm1 0zm2 0zm1 0zm2 0zm1 0zm1 0zm2 0zm5 0zm1 0zm1 0zm2 0zm1 0zm9 0zm3 0zm2 0zm12 0zm8 0zm6 0zm3 0zm16 0zm-271 1zm25 0zm22 0zm6 0zm1 0zm2 0zm4 0zm2 0zm3 0zm1 0zm2 0zm4 0zm2 0zm1 0zm1 0zm1 0zm1 0zm2 0zm1 0zm1 0zm1 0zm2 0zm4 0zm2 0zm2 0zm6 0zm1 0zm2 0zm4 0zm1 0zm1 0zm1 0zm1 0zm1 0zm4 0zm1 0zm1 0zm1 0zm1 0zm2 0zm1 0zm3 0zm1 0zm3 0zm1 0zm1 0zm2 0zm2 0zm1 0zm1 0zm1 0zm2 0zm2 0zm1 0zm1 0zm2 0zm1 0zm1 0zm2 0zm1 0zm1 0zm3 0zm1 0zm1 0zm1 0zm1 0zm1 0zm2 0zm4 0zm2 0zm3 0zm1 0zm1 0zm5 0zm5 0zm2 0zm1 0zm3 0zm3 0zm1 0zm1 0zm1 0zm3 0zm2 0zm1 0zm1 0zm6 0zm1 0zm6 0zm3 0zm2 0zm3 0zm2 0zm6 0zm2 0zm6 0zm7 0zm4 0zm3 0zm10 0zm19 0zm-284 1zm1 0zm6 0zm25 0zm13 0zm1 0zm2 0zm7 0zm3 0zm2 0zm3 0zm4 0zm1 0zm1 0zm1 0zm2 0zm1 0zm1 0zm1 0zm1 0zm1 0zm1 0zm2 0zm1 0zm1 0zm1 0zm1 0zm1 0zm1 0zm1 0zm1 0zm1 0zm3 0zm2 0zm2 0zm2 0zm1 0zm3 0zm1 0zm2 0zm2 0zm2 0zm2 0zm4 0zm2 0zm9 0zm3 0zm1 0zm1 0zm2 0zm4 0zm2 0zm3 0zm1 0zm1 0zm7 0zm2 0zm1 0zm1 0zm1 0zm2 0zm1 0zm2 0zm2 0zm1 0zm1 0zm2 0zm3 0zm1 0zm1 0zm1 0zm4 0zm6 0zm1 0zm1 0zm1 0zm3 0zm6 0zm2 0zm3 0zm9 0zm1 0zm2 0zm1 0zm2 0zm1 0zm4 0zm8 0zm5 0zm15 0zm13 0zm2 0zm21 0zm-284 1zm2 0zm1 0zm2 0zm26 0zm18 0zm6 0zm3 0zm9 0zm1 0zm1 0zm1 0zm1 0zm2 0zm1 0zm1 0zm1 0zm1 0zm1 0zm1 0zm1 0zm2 0zm1 0zm1 0zm1 0zm1 0zm1 0zm1 0zm1 0zm1 0zm1 0zm1 0zm1 0zm3 0zm1 0zm1 0zm1 0zm1 0zm1 0zm2 0zm6 0zm3 0zm2 0zm1 0zm1 0zm2 0zm1 0zm1 0zm3 0zm2 0zm1 0zm1 0zm1 0zm2 0zm1 0zm1 0zm2 0zm1 0zm2 0zm1 0zm1 0zm2 0zm1 0zm1 0zm2 0zm2 0zm1 0zm1 0zm2 0zm1 0zm3 0zm3 0zm2 0zm3 0zm3 0zm1 0zm1 0zm3 0zm1 0zm1 0zm1 0zm1 0zm1 0zm4 0zm3 0zm3 0zm1 0zm1 0zm7 0zm4 0zm1 0zm13 0zm2 0zm6 0zm1 0zm1 0zm2 0zm3 0zm5 0zm1 0zm1 0zm4 0zm13 0zm12 0zm3 0zm1 0zm4 0zm4 0zm-279 1zm3 0zm1 0zm1 0zm15 0zm32 0zm4 0zm1 0zm2 0zm4 0zm1 0zm4 0zm2 0zm3 0zm1 0zm2 0zm1 0zm2 0zm1 0zm1 0zm1 0zm1 0zm1 0zm1 0zm1 0zm1 0zm1 0zm1 0zm1 0zm1 0zm1 0zm1 0zm1 0zm1 0zm3 0zm1 0zm1 0zm1 0zm3 0zm1 0zm4 0zm1 0zm1 0zm4 0zm1 0zm3 0zm1 0zm1 0zm1 0zm1 0zm1 0zm3 0zm1 0zm2 0zm1 0zm1 0zm1 0zm1 0zm1 0zm1 0zm2 0zm4 0zm1 0zm1 0zm1 0zm1 0zm2 0zm2 0zm1 0zm1 0zm1 0zm1 0zm1 0zm1 0zm2 0zm1 0zm1 0zm2 0zm1 0zm1 0zm1 0zm2 0zm3 0zm1 0zm2 0zm2 0zm1 0zm3 0zm1 0zm2 0zm2 0zm1 0zm2 0zm1 0zm4 0zm4 0zm2 0zm1 0zm1 0zm1 0zm4 0zm1 0zm3 0zm1 0zm10 0zm3 0zm2 0zm1 0zm2 0zm2 0zm9 0zm1 0zm1 0zm2 0zm3 0zm1 0zm7 0zm7 0zm3 0zm3 0zm-269 1zm1 0zm2 0zm10 0zm23 0zm17 0zm5 0zm2 0zm2 0zm3 0zm1 0zm2 0zm1 0zm5 0zm1 0zm1 0zm1 0zm1 0zm1 0zm1 0zm1 0zm1 0zm1 0zm1 0zm1 0zm1 0zm1 0zm1 0zm1 0zm1 0zm1 0zm2 0zm1 0zm1 0zm1 0zm1 0zm3 0zm2 0zm1 0zm2 0zm2 0zm3 0zm2 0zm2 0zm1 0zm1 0zm1 0zm2 0zm2 0zm1 0zm1 0zm3 0zm3 0zm1 0zm1 0zm1 0zm2 0zm1 0zm1 0zm4 0zm1 0zm5 0zm1 0zm1 0zm1 0zm1 0zm5 0zm2 0zm3 0zm1 0zm1 0zm2 0zm2 0zm2 0zm1 0zm1 0zm1 0zm1 0zm4 0zm4 0zm2 0zm3 0zm2 0zm2 0zm1 0zm1 0zm2 0zm4 0zm2 0zm10 0zm6 0zm4 0zm3 0zm4 0zm1 0zm5 0zm10 0zm5 0zm10 0zm5 0zm19 0zm-282 1zm2 0zm3 0zm2 0zm44 0zm2 0zm2 0zm1 0zm6 0zm2 0zm1 0zm1 0zm2 0zm2 0zm1 0zm1 0zm1 0zm1 0zm1 0zm1 0zm1 0zm1 0zm1 0zm1 0zm1 0zm1 0zm1 0zm1 0zm1 0zm1 0zm1 0zm1 0zm1 0zm1 0zm1 0zm2 0zm1 0zm1 0zm1 0zm1 0zm1 0zm1 0zm1 0zm1 0zm1 0zm4 0zm3 0zm1 0zm3 0zm1 0zm1 0zm1 0zm1 0zm1 0zm4 0zm1 0zm1 0zm1 0zm1 0zm1 0zm1 0zm1 0zm2 0zm1 0zm1 0zm2 0zm1 0zm2 0zm1 0zm2 0zm1 0zm2 0zm5 0zm1 0zm2 0zm1 0zm2 0zm1 0zm2 0zm2 0zm2 0zm1 0zm2 0zm2 0zm1 0zm5 0zm3 0zm1 0zm1 0zm1 0zm2 0zm3 0zm7 0zm1 0zm1 0zm5 0zm2 0zm3 0zm5 0zm7 0zm2 0zm4 0zm1 0zm6 0zm2 0zm1 0zm19 0zm12 0zm12 0zm-272 1zm2 0zm2 0zm29 0zm18 0zm1 0zm2 0zm1 0zm1 0zm2 0zm1 0zm1 0zm1 0zm1 0zm2 0zm1 0zm1 0zm1 0zm1 0zm1 0zm1 0zm1 0zm1 0zm2 0zm1 0zm1 0zm1 0zm1 0zm1 0zm1 0zm1 0zm1 0zm1 0zm1 0zm1 0zm1 0zm2 0zm1 0zm1 0zm1 0zm1 0zm1 0zm1 0zm2 0zm1 0zm2 0zm1 0zm1 0zm2 0zm1 0zm3 0zm2 0zm1 0zm1 0zm2 0zm1 0zm1 0zm2 0zm1 0zm1 0zm1 0zm5 0zm1 0zm1 0zm2 0zm2 0zm1 0zm1 0zm1 0zm1 0zm1 0zm1 0zm2 0zm2 0zm1 0zm2 0zm1 0zm5 0zm1 0zm1 0zm1 0zm2 0zm1 0zm1 0zm1 0zm2 0zm1 0zm4 0zm1 0zm1 0zm3 0zm1 0zm4 0zm5 0zm2 0zm2 0zm4 0zm2 0zm1 0zm1 0zm1 0zm1 0zm2 0zm5 0zm8 0zm1 0zm5 0zm8 0zm3 0zm1 0zm8 0zm5 0zm1 0zm10 0zm1 0zm8 0zm4 0zm6 0zm8 0zm10 0zm-289 1zm2 0zm1 0zm2 0zm10 0zm21 0zm10 0zm3 0zm1 0zm5 0zm1 0zm1 0zm1 0zm1 0zm3 0zm1 0zm1 0zm1 0zm1 0zm1 0zm1 0zm1 0zm1 0zm1 0zm1 0zm2 0zm2 0zm1 0zm1 0zm1 0zm1 0zm1 0zm1 0zm1 0zm1 0zm1 0zm1 0zm1 0zm1 0zm1 0zm1 0zm1 0zm1 0zm1 0zm1 0zm2 0zm1 0zm1 0zm1 0zm3 0zm3 0zm1 0zm1 0zm1 0zm6 0zm3 0zm1 0zm1 0zm2 0zm1 0zm1 0zm2 0zm2 0zm1 0zm2 0zm4 0zm2 0zm1 0zm1 0zm1 0zm1 0zm1 0zm1 0zm8 0zm4 0zm2 0zm1 0zm1 0zm1 0zm2 0zm1 0zm4 0zm2 0zm5 0zm1 0zm2 0zm1 0zm4 0zm11 0zm2 0zm9 0zm2 0zm2 0zm2 0zm5 0zm1 0zm24 0zm1 0zm28 0zm-274 1zm5 0zm5 0zm3 0zm25 0zm8 0zm3 0zm1 0zm5 0zm1 0zm2 0zm3 0zm5 0zm1 0zm3 0zm1 0zm1 0zm1 0zm1 0zm1 0zm1 0zm1 0zm1 0zm1 0zm1 0zm1 0zm1 0zm1 0zm1 0zm1 0zm1 0zm1 0zm1 0zm1 0zm1 0zm1 0zm1 0zm1 0zm1 0zm1 0zm1 0zm1 0zm1 0zm1 0zm1 0zm1 0zm1 0zm1 0zm2 0zm1 0zm1 0zm3 0zm4 0zm1 0zm3 0zm5 0zm1 0zm4 0zm2 0zm2 0zm3 0zm1 0zm1 0zm2 0zm3 0zm2 0zm2 0zm2 0zm1 0zm1 0zm1 0zm2 0zm1 0zm1 0zm1 0zm4 0zm1 0zm1 0zm1 0zm2 0zm1 0zm1 0zm1 0zm1 0zm3 0zm2 0zm1 0zm2 0zm3 0zm8 0zm2 0zm1 0zm2 0zm1 0zm5 0zm1 0zm1 0zm1 0zm2 0zm2 0zm1 0zm6 0zm9 0zm2 0zm16 0zm7 0zm1 0zm8 0zm10 0zm1 0zm-263 1zm1 0zm1 0zm2 0zm1 0zm2 0zm34 0zm8 0zm6 0zm2 0zm2 0zm1 0zm1 0zm1 0zm1 0zm2 0zm1 0zm2 0zm1 0zm1 0zm1 0zm1 0zm1 0zm1 0zm1 0zm1 0zm1 0zm1 0zm1 0zm1 0zm1 0zm1 0zm1 0zm1 0zm1 0zm1 0zm1 0zm1 0zm1 0zm1 0zm1 0zm1 0zm1 0zm1 0zm1 0zm1 0zm1 0zm1 0zm1 0zm1 0zm1 0zm2 0zm2 0zm1 0zm3 0zm1 0zm1 0zm3 0zm1 0zm1 0zm1 0zm1 0zm5 0zm1 0zm1 0zm1 0zm2 0zm1 0zm2 0zm1 0zm2 0zm3 0zm3 0zm1 0zm3 0zm1 0zm1 0zm4 0zm1 0zm1 0zm1 0zm1 0zm1 0zm2 0zm1 0zm1 0zm1 0zm1 0zm1 0zm4 0zm1 0zm1 0zm3 0zm1 0zm2 0zm1 0zm7 0zm1 0zm6 0zm1 0zm3 0zm13 0zm1 0zm3 0zm2 0zm2 0zm2 0zm20 0zm24 0zm31 0zm-291 1zm1 0zm1 0zm1 0zm1 0zm1 0zm1 0zm1 0zm1 0zm2 0zm7 0zm24 0zm1 0zm7 0zm1 0zm2 0zm3 0zm2 0zm2 0zm1 0zm1 0zm3 0zm1 0zm1 0zm2 0zm1 0zm1 0zm1 0zm1 0zm1 0zm1 0zm1 0zm1 0zm1 0zm1 0zm1 0zm1 0zm1 0zm1 0zm1 0zm1 0zm1 0zm1 0zm1 0zm1 0zm1 0zm1 0zm1 0zm1 0zm1 0zm1 0zm1 0zm1 0zm1 0zm1 0zm3 0zm1 0zm1 0zm2 0zm1 0zm1 0zm2 0zm2 0zm1 0zm2 0zm2 0zm1 0zm1 0zm1 0zm2 0zm1 0zm1 0zm1 0zm1 0zm2 0zm1 0zm2 0zm4 0zm1 0zm1 0zm1 0zm2 0zm3 0zm2 0zm2 0zm2 0zm2 0zm3 0zm1 0zm5 0zm4 0zm2 0zm7 0zm16 0zm6 0zm31 0zm6 0zm29 0zm-263 1zm4 0zm1 0zm1 0zm3 0zm1 0zm4 0zm26 0zm1 0zm8 0zm2 0zm4 0zm1 0zm2 0zm1 0zm7 0zm1 0zm1 0zm1 0zm1 0zm2 0zm1 0zm1 0zm1 0zm1 0zm1 0zm1 0zm1 0zm1 0zm1 0zm1 0zm1 0zm1 0zm1 0zm1 0zm1 0zm1 0zm1 0zm1 0zm1 0zm1 0zm1 0zm2 0zm1 0zm1 0zm1 0zm1 0zm1 0zm1 0zm1 0zm1 0zm1 0zm1 0zm2 0zm1 0zm1 0zm2 0zm2 0zm1 0zm1 0zm2 0zm1 0zm1 0zm1 0zm1 0zm1 0zm1 0zm1 0zm2 0zm1 0zm3 0zm3 0zm3 0zm6 0zm2 0zm1 0zm1 0zm4 0zm4 0zm1 0zm2 0zm5 0zm3 0zm2 0zm8 0zm1 0zm4 0zm1 0zm1 0zm3 0zm3 0zm4 0zm4 0zm2 0zm3 0zm18 0zm1 0zm13 0zm9 0zm3 0zm32 0zm14 0zm-288 1zm2 0zm2 0zm2 0zm17 0zm4 0zm6 0zm14 0zm5 0zm2 0zm1 0zm1 0zm1 0zm1 0zm1 0zm1 0zm1 0zm1 0zm1 0zm1 0zm1 0zm1 0zm1 0zm1 0zm1 0zm1 0zm1 0zm1 0zm1 0zm1 0zm1 0zm1 0zm1 0zm1 0zm1 0zm1 0zm1 0zm1 0zm1 0zm1 0zm1 0zm1 0zm1 0zm1 0zm1 0zm1 0zm1 0zm1 0zm1 0zm2 0zm1 0zm1 0zm3 0zm2 0zm2 0zm1 0zm1 0zm1 0zm1 0zm4 0zm1 0zm1 0zm6 0zm1 0zm1 0zm1 0zm1 0zm1 0zm8 0zm1 0zm3 0zm4 0zm1 0zm2 0zm1 0zm1 0zm1 0zm3 0zm2 0zm3 0zm1 0zm1 0zm1 0zm5 0zm4 0zm3 0zm8 0zm1 0zm1 0zm7 0zm2 0zm18 0zm1 0zm1 0zm24 0zm2 0zm4 0zm1 0zm51 0zm-294 1zm4 0zm1 0zm1 0zm1 0zm2 0zm1 0zm1 0zm19 0zm1 0zm20 0zm2 0zm2 0zm1 0zm3 0zm1 0zm1 0zm1 0zm1 0zm1 0zm1 0zm1 0zm1 0zm1 0zm2 0zm1 0zm1 0zm1 0zm1 0zm1 0zm1 0zm1 0zm1 0zm1 0zm1 0zm1 0zm1 0zm1 0zm1 0zm1 0zm1 0zm1 0zm1 0zm1 0zm1 0zm1 0zm1 0zm1 0zm1 0zm1 0zm2 0zm5 0zm1 0zm1 0zm5 0zm2 0zm1 0zm3 0zm1 0zm2 0zm2 0zm2 0zm2 0zm2 0zm1 0zm1 0zm1 0zm3 0zm2 0zm1 0zm1 0zm2 0zm1 0zm1 0zm2 0zm2 0zm7 0zm1 0zm5 0zm3 0zm2 0zm1 0zm2 0zm2 0zm7 0zm2 0zm2 0zm4 0zm1 0zm3 0zm17 0zm3 0zm3 0zm3 0zm12 0zm6 0zm-232 1zm2 0zm1 0zm2 0zm1 0zm1 0zm1 0zm1 0zm11 0zm20 0zm7 0zm1 0zm11 0zm2 0zm1 0zm1 0zm1 0zm2 0zm1 0zm1 0zm1 0zm1 0zm1 0zm1 0zm1 0zm1 0zm1 0zm1 0zm1 0zm1 0zm1 0zm1 0zm1 0zm1 0zm1 0zm1 0zm1 0zm1 0zm1 0zm1 0zm1 0zm1 0zm1 0zm1 0zm1 0zm1 0zm1 0zm2 0zm1 0zm1 0zm1 0zm1 0zm1 0zm1 0zm3 0zm1 0zm1 0zm1 0zm1 0zm3 0zm1 0zm2 0zm1 0zm2 0zm1 0zm1 0zm1 0zm1 0zm3 0zm2 0zm1 0zm1 0zm3 0zm1 0zm3 0zm5 0zm9 0zm5 0zm2 0zm1 0zm8 0zm1 0zm4 0zm25 0zm20 0zm16 0zm3 0zm-237 1zm1 0zm4 0zm1 0zm1 0zm1 0zm16 0zm22 0zm3 0zm1 0zm7 0zm1 0zm2 0zm1 0zm1 0zm2 0zm1 0zm1 0zm1 0zm1 0zm3 0zm1 0zm1 0zm1 0zm1 0zm1 0zm1 0zm1 0zm1 0zm1 0zm1 0zm1 0zm1 0zm1 0zm1 0zm1 0zm1 0zm1 0zm1 0zm1 0zm1 0zm1 0zm1 0zm1 0zm1 0zm1 0zm1 0zm1 0zm1 0zm2 0zm1 0zm3 0zm1 0zm1 0zm4 0zm1 0zm1 0zm2 0zm1 0zm3 0zm3 0zm1 0zm2 0zm2 0zm1 0zm1 0zm4 0zm3 0zm2 0zm2 0zm2 0zm12 0zm7 0zm4 0zm1 0zm7 0zm6 0zm14 0zm2 0zm9 0zm4 0zm23 0zm38 0zm-265 1zm1 0zm1 0zm1 0zm2 0zm1 0zm1 0zm1 0zm1 0zm31 0zm5 0zm4 0zm5 0zm1 0zm1 0zm1 0zm1 0zm5 0zm1 0zm1 0zm1 0zm1 0zm1 0zm1 0zm1 0zm1 0zm1 0zm1 0zm1 0zm1 0zm1 0zm1 0zm1 0zm1 0zm1 0zm1 0zm1 0zm1 0zm1 0zm1 0zm1 0zm1 0zm1 0zm1 0zm1 0zm1 0zm1 0zm1 0zm1 0zm1 0zm1 0zm2 0zm1 0zm1 0zm1 0zm1 0zm2 0zm1 0zm1 0zm2 0zm1 0zm1 0zm1 0zm3 0zm1 0zm7 0zm1 0zm1 0zm9 0zm18 0zm6 0zm3 0zm3 0zm19 0zm-184 1zm3 0zm1 0zm1 0zm1 0zm1 0zm2 0zm4 0zm10 0zm14 0zm6 0zm1 0zm4 0zm5 0zm3 0zm2 0zm1 0zm1 0zm1 0zm1 0zm2 0zm1 0zm1 0zm1 0zm1 0zm1 0zm1 0zm1 0zm1 0zm1 0zm1 0zm1 0zm1 0zm1 0zm1 0zm1 0zm1 0zm1 0zm1 0zm1 0zm1 0zm1 0zm1 0zm1 0zm1 0zm1 0zm1 0zm1 0zm1 0zm1 0zm1 0zm1 0zm1 0zm1 0zm1 0zm1 0zm2 0zm2 0zm1 0zm1 0zm2 0zm1 0zm2 0zm1 0zm1 0zm1 0zm2 0zm5 0zm1 0zm4 0zm2 0zm2 0zm1 0zm4 0zm4 0zm1 0zm2 0zm2 0zm6 0zm4 0zm7 0zm4 0zm2 0zm8 0zm1 0zm8 0zm16 0zm6 0zm41 0zm13 0zm-259 1zm2 0zm1 0zm1 0zm1 0zm1 0zm1 0zm3 0zm23 0zm4 0zm8 0zm2 0zm1 0zm1 0zm3 0zm2 0zm1 0zm2 0zm1 0zm1 0zm1 0zm2 0zm1 0zm1 0zm1 0zm1 0zm1 0zm1 0zm1 0zm1 0zm1 0zm1 0zm1 0zm1 0zm1 0zm1 0zm1 0zm1 0zm1 0zm1 0zm1 0zm1 0zm1 0zm1 0zm1 0zm1 0zm1 0zm1 0zm1 0zm1 0zm1 0zm1 0zm1 0zm1 0zm1 0zm1 0zm1 0zm1 0zm1 0zm1 0zm1 0zm2 0zm3 0zm1 0zm3 0zm1 0zm13 0zm2 0zm12 0zm4 0zm15 0zm6 0zm132 0zm-293 1zm1 0zm1 0zm1 0zm1 0zm2 0zm2 0zm29 0zm9 0zm4 0zm1 0zm1 0zm2 0zm2 0zm1 0zm1 0zm1 0zm1 0zm1 0zm3 0zm1 0zm1 0zm1 0zm1 0zm1 0zm1 0zm1 0zm1 0zm1 0zm1 0zm1 0zm1 0zm1 0zm1 0zm1 0zm1 0zm1 0zm1 0zm1 0zm1 0zm1 0zm1 0zm1 0zm1 0zm1 0zm1 0zm1 0zm1 0zm1 0zm1 0zm3 0zm1 0zm2 0zm1 0zm4 0zm1 0zm3 0zm4 0zm3 0zm1 0zm7 0zm2 0zm4 0zm7 0zm1 0zm7 0zm5 0zm3 0zm3 0zm2 0zm8 0zm-167 1zm2 0zm1 0zm1 0zm2 0zm25 0zm5 0zm1 0zm7 0zm3 0zm1 0zm4 0zm3 0zm1 0zm1 0zm1 0zm1 0zm1 0zm1 0zm1 0zm1 0zm1 0zm1 0zm1 0zm1 0zm1 0zm1 0zm1 0zm1 0zm1 0zm1 0zm1 0zm1 0zm1 0zm1 0zm1 0zm1 0zm1 0zm1 0zm1 0zm1 0zm1 0zm1 0zm1 0zm1 0zm1 0zm1 0zm1 0zm2 0zm2 0zm1 0zm2 0zm2 0zm1 0zm6 0zm1 0zm2 0zm3 0zm1 0zm2 0zm1 0zm1 0zm1 0zm2 0zm7 0zm5 0zm1 0zm9 0zm7 0zm1 0zm7 0zm11 0zm9 0zm8 0zm-188 1zm1 0zm1 0zm1 0zm1 0zm1 0zm1 0zm2 0zm11 0zm4 0zm13 0zm6 0zm2 0zm4 0zm1 0zm7 0zm1 0zm1 0zm1 0zm3 0zm1 0zm1 0zm1 0zm1 0zm3 0zm1 0zm1 0zm1 0zm1 0zm1 0zm1 0zm1 0zm1 0zm1 0zm1 0zm1 0zm1 0zm1 0zm1 0zm1 0zm1 0zm1 0zm1 0zm1 0zm1 0zm1 0zm1 0zm1 0zm1 0zm1 0zm1 0zm2 0zm1 0zm2 0zm5 0zm2 0zm1 0zm2 0zm2 0zm1 0zm1 0zm3 0zm5 0zm1 0zm1 0zm1 0zm8 0zm2 0zm1 0zm10 0zm1 0zm3 0zm12 0zm3 0zm2 0zm-166 1zm1 0zm1 0zm2 0zm1 0zm1 0zm1 0zm2 0zm14 0zm8 0zm10 0zm3 0zm1 0zm2 0zm2 0zm2 0zm2 0zm2 0zm1 0zm1 0zm1 0zm1 0zm1 0zm1 0zm1 0zm1 0zm1 0zm1 0zm2 0zm1 0zm1 0zm1 0zm1 0zm1 0zm1 0zm1 0zm1 0zm1 0zm1 0zm1 0zm1 0zm1 0zm1 0zm1 0zm1 0zm1 0zm1 0zm1 0zm1 0zm1 0zm1 0zm2 0zm2 0zm1 0zm1 0zm1 0zm1 0zm3 0zm2 0zm1 0zm7 0zm9 0zm7 0zm5 0zm37 0zm16 0zm-185 1zm2 0zm2 0zm2 0zm1 0zm1 0zm37 0zm4 0zm3 0zm4 0zm1 0zm1 0zm2 0zm1 0zm1 0zm1 0zm1 0zm2 0zm1 0zm1 0zm1 0zm1 0zm1 0zm1 0zm1 0zm1 0zm1 0zm1 0zm1 0zm1 0zm1 0zm1 0zm1 0zm1 0zm1 0zm1 0zm1 0zm1 0zm1 0zm1 0zm1 0zm1 0zm1 0zm1 0zm2 0zm3 0zm1 0zm3 0zm3 0zm3 0zm3 0zm2 0zm5 0zm8 0zm5 0zm2 0zm11 0zm8 0zm-149 1zm2 0zm1 0zm1 0zm1 0zm2 0zm27 0zm3 0zm1 0zm1 0zm9 0zm4 0zm1 0zm1 0zm1 0zm1 0zm1 0zm1 0zm1 0zm1 0zm3 0zm3 0zm1 0zm1 0zm1 0zm1 0zm1 0zm1 0zm1 0zm1 0zm1 0zm1 0zm1 0zm1 0zm1 0zm1 0zm1 0zm1 0zm1 0zm1 0zm1 0zm1 0zm1 0zm2 0zm1 0zm2 0zm3 0zm4 0zm3 0zm1 0zm1 0zm9 0zm3 0zm3 0zm7 0zm8 0zm1 0zm6 0zm4 0zm2 0zm5 0zm-155 1zm3 0zm1 0zm1 0zm2 0zm37 0zm3 0zm3 0zm7 0zm2 0zm3 0zm2 0zm1 0zm2 0zm2 0zm1 0zm1 0zm1 0zm1 0zm1 0zm1 0zm1 0zm1 0zm1 0zm1 0zm1 0zm1 0zm1 0zm1 0zm1 0zm1 0zm1 0zm2 0zm1 0zm1 0zm1 0zm1 0zm3 0zm1 0zm2 0zm1 0zm1 0zm1 0zm4 0zm5 0zm5 0zm9 0zm9 0zm5 0zm4 0zm2 0zm1 0zm4 0zm4 0zm143 0zm-298 1zm3 0zm1 0zm1 0zm1 0zm1 0zm1 0zm2 0zm31 0zm7 0zm3 0zm3 0zm8 0zm1 0zm2 0zm1 0zm1 0zm1 0zm1 0zm1 0zm1 0zm1 0zm1 0zm1 0zm1 0zm1 0zm1 0zm1 0zm1 0zm1 0zm1 0zm1 0zm1 0zm2 0zm1 0zm1 0zm1 0zm1 0zm1 0zm2 0zm1 0zm2 0zm1 0zm1 0zm2 0zm1 0zm3 0zm2 0zm2 0zm1 0zm1 0zm1 0zm9 0zm4 0zm18 0zm-139 1zm1 0zm3 0zm1 0zm1 0zm1 0zm2 0zm1 0zm29 0zm1 0zm4 0zm1 0zm7 0zm3 0zm2 0zm1 0zm1 0zm1 0zm2 0zm1 0zm2 0zm1 0zm1 0zm2 0zm1 0zm1 0zm1 0zm1 0zm1 0zm1 0zm1 0zm1 0zm1 0zm1 0zm1 0zm1 0zm1 0zm1 0zm1 0zm1 0zm1 0zm1 0zm1 0zm1 0zm1 0zm1 0zm4 0zm18 0zm4 0zm13 0zm1 0zm6 0zm31 0zm7 0zm8 0zm-180 1zm26 0zm8 0zm2 0zm3 0zm7 0zm8 0zm3 0zm2 0zm2 0zm1 0zm3 0zm1 0zm1 0zm2 0zm1 0zm1 0zm2 0zm1 0zm1 0zm1 0zm1 0zm1 0zm1 0zm1 0zm1 0zm1 0zm2 0zm2 0zm1 0zm1 0zm1 0zm1 0zm4 0zm8 0zm1 0zm17 0zm24 0zm2 0zm2 0zm18 0zm9 0zm-178 1zm5 0zm1 0zm43 0zm2 0zm4 0zm4 0zm2 0zm2 0zm1 0zm1 0zm4 0zm2 0zm1 0zm1 0zm1 0zm1 0zm1 0zm1 0zm1 0zm1 0zm1 0zm2 0zm1 0zm1 0zm1 0zm1 0zm4 0zm1 0zm2 0zm8 0zm6 0zm18 0zm4 0zm16 0zm3 0zm12 0zm-160 1zm2 0zm5 0zm1 0zm8 0zm33 0zm1 0zm5 0zm3 0zm2 0zm3 0zm1 0zm2 0zm2 0zm4 0zm1 0zm2 0zm1 0zm2 0zm1 0zm1 0zm1 0zm2 0zm1 0zm1 0zm3 0zm4 0zm2 0zm49 0zm-141 1zm1 0zm9 0zm25 0zm10 0zm4 0zm7 0zm3 0zm2 0zm2 0zm1 0zm1 0zm1 0zm4 0zm1 0zm1 0zm4 0zm1 0zm1 0zm1 0zm4 0zm1 0zm4 0zm1 0zm3 0zm2 0zm4 0zm7 0zm30 0zm7 0zm17 0zm-159 1zm3 0zm27 0zm1 0zm1 0zm3 0zm1 0zm9 0zm1 0zm7 0zm1 0zm1 0zm1 0zm1 0zm6 0zm4 0zm1 0zm1 0zm1 0zm2 0zm1 0zm1 0zm1 0zm2 0zm1 0zm3 0zm3 0zm4 0zm6 0zm1 0zm18 0zm18 0zm-134 1zm1 0zm1 0zm3 0zm1 0zm1 0zm37 0zm18 0zm4 0zm2 0zm10 0zm1 0zm2 0zm2 0zm1 0zm4 0zm1 0zm1 0zm13 0zm27 0zm-85 1zm24 0zm1 0zm1 0zm5 0zm1 0zm2 0zm1 0zm4 0zm6 0zm35 0zm4 0zm11 0zm31 0zm6 0zm-178 1zm7 0zm9 0zm24 0zm2 0zm29 0zm1 0zm1 0zm9 0zm20 0zm23 0zm17 0zm8 0zm12 0zm25 0zm-186 1zm3 0zm3 0zm54 0zm7 0zm1 0zm10 0zm16 0zm20 0zm53 0zm-134 1zm4 0zm13 0zm7 0zm8 0zm7 0zm4 0zm2 0zm7 0zm3 0zm39 0zm44 0zm6 0zm-115 1zm2 0zm2 0zm7 0zm6 0zm8 0zm20 0zm8 0zm35 0zm2 0zm-74 1zm8 0zm20 0zm-51 1zm15 0zm3 0zm17 0zm80 0zm4 0zm-111 1zm-1 2zm25 0z" stroke="#000" stroke-width="1.3" stroke-linecap="square" fill="none"/>
<polygon points="167.6,1343.0 420.8,1321.9 429.3,1416.6 176.3,1438.3" fill="none" stroke="#232c94" stroke-width="3.1"/>
<text x="295.0" y="1360.9" font-size="39.4" id="t49" class="o" clip-path="url(#ct49)">12.3</text>
<path d="M191.6,1556.5 l6.0,16.6 h-12.0z" fill="#000"/>
<path d="M272.2,1556.5 l6.0,16.6 h-12.0z" fill="#000"/>
<path d="M374.6,1556.5 l6.0,16.6 h-12.0z" fill="#000"/>
<text x="182.2" y="1603.0" font-size="32.5">2<tspan font-style="italic">n</tspan></text>
<text x="264.5" y="1603.0" font-size="32.5">4<tspan font-style="italic">n</tspan></text>
<text x="366.2" y="1603.0" font-size="32.5">8<tspan font-style="italic">n</tspan></text>
<text x="296.2" y="1650.0" font-size="40.2" text-anchor="middle">DNA content</text>
<text transform="translate(7.0 1038.4) scale(0.95 1)" font-size="57.6" font-weight="bold">B</text>
<text x="101.2" y="1185.5" font-size="40" text-anchor="middle" transform="rotate(-90 101.2 1185.5)">Control</text>
<text x="101.2" y="1436.0" font-size="40" text-anchor="middle" transform="rotate(-90 101.2 1436.0)">Reversine</text>
<text x="41.3" y="1299.0" font-size="40" text-anchor="middle" transform="rotate(-90 41.3 1299.0)">EdU</text>
<line x1="1025.5" y1="1069.4" x2="1025.5" y2="1292.5" stroke="#000" stroke-width="1.7"/>
<line x1="1024.7" y1="1291.8" x2="1325.6" y2="1291.8" stroke="#000" stroke-width="1.5"/>
<line x1="1025.5" y1="1291.8" x2="1025.5" y2="1297.2" stroke="#000" stroke-width="1.4"/>
<line x1="1044.2" y1="1291.8" x2="1044.2" y2="1295.4" stroke="#000" stroke-width="1.4"/>
<line x1="1062.9" y1="1291.8" x2="1062.9" y2="1295.4" stroke="#000" stroke-width="1.4"/>
<line x1="1081.7" y1="1291.8" x2="1081.7" y2="1295.4" stroke="#000" stroke-width="1.4"/>
<line x1="1100.4" y1="1291.8" x2="1100.4" y2="1297.2" stroke="#000" stroke-width="1.4"/>
<line x1="1119.1" y1="1291.8" x2="1119.1" y2="1295.4" stroke="#000" stroke-width="1.4"/>
<line x1="1137.8" y1="1291.8" x2="1137.8" y2="1295.4" stroke="#000" stroke-width="1.4"/>
<line x1="1156.5" y1="1291.8" x2="1156.5" y2="1295.4" stroke="#000" stroke-width="1.4"/>
<line x1="1175.2" y1="1291.8" x2="1175.2" y2="1297.2" stroke="#000" stroke-width="1.4"/>
<line x1="1194.0" y1="1291.8" x2="1194.0" y2="1295.4" stroke="#000" stroke-width="1.4"/>
<line x1="1212.7" y1="1291.8" x2="1212.7" y2="1295.4" stroke="#000" stroke-width="1.4"/>
<line x1="1231.4" y1="1291.8" x2="1231.4" y2="1295.4" stroke="#000" stroke-width="1.4"/>
<line x1="1250.1" y1="1291.8" x2="1250.1" y2="1297.2" stroke="#000" stroke-width="1.4"/>
<line x1="1268.8" y1="1291.8" x2="1268.8" y2="1295.4" stroke="#000" stroke-width="1.4"/>
<line x1="1287.6" y1="1291.8" x2="1287.6" y2="1295.4" stroke="#000" stroke-width="1.4"/>
<line x1="1306.3" y1="1291.8" x2="1306.3" y2="1295.4" stroke="#000" stroke-width="1.4"/>
<line x1="1325.0" y1="1291.8" x2="1325.0" y2="1297.2" stroke="#000" stroke-width="1.4"/>
<line x1="1020.1" y1="1090.7" x2="1025.5" y2="1090.7" stroke="#000" stroke-width="1.4"/>
<line x1="1021.9" y1="1125.9" x2="1025.5" y2="1125.9" stroke="#000" stroke-width="1.4"/>
<line x1="1021.9" y1="1117.1" x2="1025.5" y2="1117.1" stroke="#000" stroke-width="1.4"/>
<line x1="1021.9" y1="1110.8" x2="1025.5" y2="1110.8" stroke="#000" stroke-width="1.4"/>
<line x1="1021.9" y1="1105.9" x2="1025.5" y2="1105.9" stroke="#000" stroke-width="1.4"/>
<line x1="1021.9" y1="1101.9" x2="1025.5" y2="1101.9" stroke="#000" stroke-width="1.4"/>
<line x1="1021.9" y1="1098.5" x2="1025.5" y2="1098.5" stroke="#000" stroke-width="1.4"/>
<line x1="1021.9" y1="1095.6" x2="1025.5" y2="1095.6" stroke="#000" stroke-width="1.4"/>
<line x1="1021.9" y1="1093.0" x2="1025.5" y2="1093.0" stroke="#000" stroke-width="1.4"/>
<line x1="1020.1" y1="1140.7" x2="1025.5" y2="1140.7" stroke="#000" stroke-width="1.4"/>
<line x1="1021.9" y1="1175.9" x2="1025.5" y2="1175.9" stroke="#000" stroke-width="1.4"/>
<line x1="1021.9" y1="1167.1" x2="1025.5" y2="1167.1" stroke="#000" stroke-width="1.4"/>
<line x1="1021.9" y1="1160.8" x2="1025.5" y2="1160.8" stroke="#000" stroke-width="1.4"/>
<line x1="1021.9" y1="1155.9" x2="1025.5" y2="1155.9" stroke="#000" stroke-width="1.4"/>
<line x1="1021.9" y1="1151.9" x2="1025.5" y2="1151.9" stroke="#000" stroke-width="1.4"/>
<line x1="1021.9" y1="1148.5" x2="1025.5" y2="1148.5" stroke="#000" stroke-width="1.4"/>
<line x1="1021.9" y1="1145.6" x2="1025.5" y2="1145.6" stroke="#000" stroke-width="1.4"/>
<line x1="1021.9" y1="1143.0" x2="1025.5" y2="1143.0" stroke="#000" stroke-width="1.4"/>
<line x1="1020.1" y1="1190.6" x2="1025.5" y2="1190.6" stroke="#000" stroke-width="1.4"/>
<line x1="1021.9" y1="1225.8" x2="1025.5" y2="1225.8" stroke="#000" stroke-width="1.4"/>
<line x1="1021.9" y1="1217.0" x2="1025.5" y2="1217.0" stroke="#000" stroke-width="1.4"/>
<line x1="1021.9" y1="1210.7" x2="1025.5" y2="1210.7" stroke="#000" stroke-width="1.4"/>
<line x1="1021.9" y1="1205.8" x2="1025.5" y2="1205.8" stroke="#000" stroke-width="1.4"/>
<line x1="1021.9" y1="1201.8" x2="1025.5" y2="1201.8" stroke="#000" stroke-width="1.4"/>
<line x1="1021.9" y1="1198.4" x2="1025.5" y2="1198.4" stroke="#000" stroke-width="1.4"/>
<line x1="1021.9" y1="1195.5" x2="1025.5" y2="1195.5" stroke="#000" stroke-width="1.4"/>
<line x1="1021.9" y1="1192.9" x2="1025.5" y2="1192.9" stroke="#000" stroke-width="1.4"/>
<line x1="1020.1" y1="1241.5" x2="1025.5" y2="1241.5" stroke="#000" stroke-width="1.4"/>
<line x1="1021.9" y1="1267.9" x2="1025.5" y2="1267.9" stroke="#000" stroke-width="1.4"/>
<line x1="1021.9" y1="1261.6" x2="1025.5" y2="1261.6" stroke="#000" stroke-width="1.4"/>
<line x1="1021.9" y1="1256.7" x2="1025.5" y2="1256.7" stroke="#000" stroke-width="1.4"/>
<line x1="1021.9" y1="1252.7" x2="1025.5" y2="1252.7" stroke="#000" stroke-width="1.4"/>
<line x1="1021.9" y1="1249.3" x2="1025.5" y2="1249.3" stroke="#000" stroke-width="1.4"/>
<line x1="1021.9" y1="1246.4" x2="1025.5" y2="1246.4" stroke="#000" stroke-width="1.4"/>
<line x1="1021.9" y1="1243.8" x2="1025.5" y2="1243.8" stroke="#000" stroke-width="1.4"/>
<line x1="1021.9" y1="1075.5" x2="1025.5" y2="1075.5" stroke="#000" stroke-width="1.4"/>
<line x1="1021.9" y1="1283.5" x2="1025.5" y2="1283.5" stroke="#000" stroke-width="1.4"/>
<line x1="1021.9" y1="1286.5" x2="1025.5" y2="1286.5" stroke="#000" stroke-width="1.4"/>
<line x1="1021.9" y1="1289.5" x2="1025.5" y2="1289.5" stroke="#000" stroke-width="1.4"/>
<rect x="1020.5" y="1271.5" width="5" height="9.0" fill="#000"/>
<path transform="translate(.5 .5)" d="M1169 1111zm-10 8zm-3 5zm2 1zm-8 1zm16 0zm-10 4zm-2 1zm-1 1zm1 0zm2 1zm-9 2zm9 0zm4 0zm-4 1zm-8 1zm5 0zm2 0zm1 0zm1 0zm-8 1zm3 0zm1 0zm4 0zm4 0zm-13 1zm5 0zm3 0zm1 0zm14 0zm-22 1zm3 0zm3 0zm4 0zm-31 1zm12 0zm8 0zm1 0zm2 0zm6 0zm2 0zm-8 1zm10 0zm-17 1zm3 0zm2 0zm5 0zm5 0zm1 0zm2 0zm-72 1zm55 0zm6 0zm2 0zm1 0zm-10 1zm3 0zm12 0zm-16 1zm1 0zm9 0zm2 0zm3 0zm-14 1zm2 0zm2 0zm2 0zm2 0zm2 0zm6 0zm-14 1zm2 0zm5 0zm2 0zm-11 1zm3 0zm4 0zm-5 1zm1 0zm4 0zm1 0zm1 0zm4 0zm-71 1zm59 0zm10 0zm-71 2zm64 0zm2 0zm4 0zm-6 1zm3 0zm4 0zm-10 1zm2 0zm9 0zm-9 1zm12 0zm-13 1zm-59 1zm57 0zm7 0zm-8 1zm3 0zm4 3zm1 1zm3 3zm-39 2zm31 1zm-68 1zm74 0zm-47 1zm69 0zm-85 4zm11 4zm-25 3zm52 7zm-19 2zm-36 1zm25 3zm8 0zm67 0zm-87 1zm4 2zm16 0zm13 0zm54 0zm-14 5zm-72 2zm23 0zm21 0zm18 0zm3 0zm7 0zm12 0zm-70 1zm53 0zm9 0zm-40 1zm6 0zm34 0zm9 0zm-20 2zm4 0zm4 0zm5 0zm1 0zm-34 1zm1 0zm-3 1zm28 0zm11 0zm-94 1zm63 0zm0 1zm9 0zm10 0zm1 0zm3 0zm-9 1zm10 0zm8 0zm-66 1zm55 0zm4 0zm2 0zm-92 1zm5 0zm10 0zm63 0zm2 0zm3 0zm3 0zm6 0zm1 0zm7 0zm-35 1zm14 0zm2 0zm4 0zm4 0zm2 0zm1 0zm15 0zm-50 1zm11 0zm4 0zm1 0zm2 0zm2 0zm3 0zm2 0zm1 0zm1 0zm2 0zm4 0zm-24 1zm7 0zm6 0zm8 0zm2 0zm2 0zm2 0zm-83 1zm60 0zm4 0zm2 0zm1 0zm1 0zm1 0zm1 0zm1 0zm2 0zm1 0zm1 0zm6 0zm-69 1zm41 0zm2 0zm4 0zm4 0zm3 0zm5 0zm1 0zm1 0zm1 0zm8 0zm13 0zm-97 1zm11 0zm3 0zm4 0zm26 0zm5 0zm8 0zm3 0zm5 0zm1 0zm1 0zm1 0zm1 0zm1 0zm2 0zm1 0zm1 0zm2 0zm1 0zm1 0zm1 0zm1 0zm5 0zm4 0zm-80 1zm12 0zm3 0zm33 0zm2 0zm1 0zm1 0zm4 0zm1 0zm1 0zm1 0zm1 0zm3 0zm1 0zm1 0zm1 0zm1 0zm1 0zm2 0zm1 0zm1 0zm3 0zm2 0zm6 0zm-98 1zm23 0zm2 0zm1 0zm31 0zm1 0zm3 0zm3 0zm1 0zm1 0zm1 0zm1 0zm1 0zm2 0zm1 0zm1 0zm2 0zm1 0zm2 0zm1 0zm1 0zm1 0zm1 0zm1 0zm1 0zm2 0zm1 0zm5 0zm2 0zm3 0zm-94 1zm1 0zm6 0zm3 0zm3 0zm12 0zm3 0zm1 0zm25 0zm1 0zm1 0zm3 0zm2 0zm5 0zm2 0zm1 0zm1 0zm2 0zm2 0zm1 0zm1 0zm1 0zm1 0zm1 0zm1 0zm1 0zm2 0zm2 0zm1 0zm2 0zm1 0zm-78 1zm2 0zm6 0zm1 0zm3 0zm1 0zm6 0zm3 0zm13 0zm6 0zm5 0zm1 0zm1 0zm1 0zm1 0zm2 0zm1 0zm3 0zm3 0zm1 0zm1 0zm2 0zm1 0zm1 0zm1 0zm1 0zm1 0zm1 0zm1 0zm1 0zm1 0zm3 0zm3 0zm6 0zm-95 1zm8 0zm6 0zm2 0zm3 0zm3 0zm6 0zm8 0zm1 0zm6 0zm17 0zm2 0zm1 0zm2 0zm1 0zm2 0zm1 0zm1 0zm1 0zm1 0zm1 0zm1 0zm1 0zm1 0zm1 0zm1 0zm1 0zm1 0zm1 0zm3 0zm3 0zm6 0zm2 0zm-92 1zm1 0zm5 0zm1 0zm1 0zm1 0zm3 0zm3 0zm3 0zm1 0zm7 0zm4 0zm3 0zm7 0zm13 0zm3 0zm1 0zm2 0zm2 0zm1 0zm1 0zm1 0zm1 0zm1 0zm1 0zm1 0zm1 0zm1 0zm1 0zm2 0zm1 0zm1 0zm1 0zm1 0zm1 0zm1 0zm1 0zm1 0zm1 0zm1 0zm1 0zm3 0zm5 0zm1 0zm7 0zm-104 1zm1 0zm2 0zm9 0zm2 0zm1 0zm3 0zm1 0zm1 0zm4 0zm6 0zm3 0zm2 0zm6 0zm13 0zm1 0zm2 0zm2 0zm2 0zm4 0zm1 0zm1 0zm1 0zm1 0zm1 0zm1 0zm1 0zm1 0zm1 0zm1 0zm1 0zm1 0zm1 0zm1 0zm1 0zm1 0zm1 0zm1 0zm1 0zm1 0zm1 0zm2 0zm1 0zm1 0zm1 0zm2 0zm-91 1zm8 0zm1 0zm1 0zm1 0zm2 0zm1 0zm5 0zm1 0zm3 0zm6 0zm9 0zm1 0zm5 0zm4 0zm1 0zm1 0zm2 0zm3 0zm2 0zm2 0zm2 0zm1 0zm2 0zm1 0zm1 0zm1 0zm1 0zm1 0zm1 0zm1 0zm1 0zm1 0zm1 0zm1 0zm1 0zm1 0zm1 0zm1 0zm1 0zm1 0zm3 0zm1 0zm1 0zm1 0zm4 0zm1 0zm-94 1zm4 0zm2 0zm1 0zm2 0zm1 0zm3 0zm2 0zm1 0zm1 0zm1 0zm1 0zm1 0zm5 0zm1 0zm1 0zm1 0zm2 0zm5 0zm4 0zm1 0zm2 0zm1 0zm1 0zm1 0zm3 0zm3 0zm1 0zm1 0zm5 0zm1 0zm3 0zm1 0zm1 0zm1 0zm1 0zm1 0zm2 0zm1 0zm1 0zm1 0zm1 0zm1 0zm1 0zm1 0zm1 0zm1 0zm1 0zm1 0zm1 0zm1 0zm1 0zm2 0zm3 0zm1 0zm6 0zm-99 1zm9 0zm4 0zm1 0zm2 0zm1 0zm1 0zm1 0zm1 0zm1 0zm1 0zm1 0zm1 0zm1 0zm1 0zm1 0zm2 0zm2 0zm1 0zm4 0zm3 0zm1 0zm4 0zm1 0zm1 0zm2 0zm1 0zm11 0zm3 0zm4 0zm1 0zm1 0zm1 0zm1 0zm1 0zm1 0zm1 0zm1 0zm1 0zm1 0zm1 0zm1 0zm1 0zm1 0zm1 0zm1 0zm1 0zm1 0zm2 0zm1 0zm1 0zm1 0zm1 0zm2 0zm3 0zm2 0zm4 0zm-102 1zm5 0zm1 0zm1 0zm2 0zm3 0zm3 0zm1 0zm1 0zm1 0zm1 0zm1 0zm1 0zm2 0zm1 0zm1 0zm1 0zm1 0zm1 0zm1 0zm1 0zm3 0zm2 0zm2 0zm1 0zm1 0zm1 0zm2 0zm8 0zm3 0zm1 0zm5 0zm3 0zm1 0zm1 0zm1 0zm1 0zm1 0zm3 0zm1 0zm1 0zm1 0zm1 0zm1 0zm1 0zm1 0zm1 0zm1 0zm1 0zm1 0zm1 0zm1 0zm1 0zm1 0zm1 0zm1 0zm1 0zm1 0zm1 0zm6 0zm2 0zm1 0zm5 0zm-105 1zm2 0zm1 0zm3 0zm1 0zm3 0zm1 0zm3 0zm2 0zm1 0zm1 0zm1 0zm1 0zm1 0zm1 0zm2 0zm1 0zm1 0zm1 0zm1 0zm1 0zm2 0zm1 0zm4 0zm1 0zm1 0zm5 0zm2 0zm4 0zm1 0zm1 0zm2 0zm4 0zm1 0zm4 0zm1 0zm2 0zm1 0zm1 0zm3 0zm1 0zm1 0zm1 0zm1 0zm1 0zm1 0zm1 0zm1 0zm1 0zm1 0zm1 0zm1 0zm2 0zm1 0zm1 0zm1 0zm1 0zm1 0zm1 0zm3 0zm3 0zm1 0zm1 0zm-90 1zm1 0zm3 0zm3 0zm1 0zm1 0zm1 0zm1 0zm2 0zm1 0zm1 0zm1 0zm1 0zm1 0zm1 0zm2 0zm1 0zm1 0zm2 0zm1 0zm4 0zm2 0zm1 0zm3 0zm4 0zm1 0zm1 0zm1 0zm1 0zm2 0zm1 0zm5 0zm1 0zm2 0zm1 0zm2 0zm1 0zm1 0zm1 0zm1 0zm2 0zm1 0zm1 0zm1 0zm1 0zm2 0zm1 0zm1 0zm1 0zm1 0zm1 0zm1 0zm1 0zm1 0zm2 0zm1 0zm1 0zm2 0zm3 0zm1 0zm-95 1zm4 0zm2 0zm2 0zm3 0zm2 0zm1 0zm1 0zm1 0zm1 0zm1 0zm1 0zm1 0zm1 0zm1 0zm1 0zm1 0zm1 0zm1 0zm1 0zm1 0zm1 0zm1 0zm1 0zm1 0zm1 0zm1 0zm1 0zm1 0zm1 0zm1 0zm1 0zm1 0zm1 0zm2 0zm8 0zm1 0zm1 0zm2 0zm2 0zm1 0zm4 0zm1 0zm2 0zm1 0zm1 0zm1 0zm1 0zm1 0zm1 0zm1 0zm1 0zm1 0zm1 0zm1 0zm3 0zm1 0zm1 0zm4 0zm1 0zm1 0zm1 0zm1 0zm-90 1zm4 0zm1 0zm1 0zm4 0zm2 0zm1 0zm1 0zm1 0zm1 0zm1 0zm1 0zm1 0zm1 0zm1 0zm1 0zm1 0zm1 0zm1 0zm1 0zm1 0zm2 0zm2 0zm1 0zm2 0zm1 0zm1 0zm1 0zm1 0zm1 0zm1 0zm4 0zm1 0zm1 0zm1 0zm4 0zm1 0zm1 0zm3 0zm3 0zm1 0zm3 0zm2 0zm1 0zm2 0zm1 0zm2 0zm1 0zm1 0zm1 0zm1 0zm1 0zm1 0zm1 0zm2 0zm1 0zm1 0zm1 0zm1 0zm5 0zm1 0zm1 0zm2 0zm4 0zm5 0zm-104 1zm4 0zm2 0zm4 0zm1 0zm1 0zm1 0zm1 0zm1 0zm1 0zm1 0zm1 0zm1 0zm1 0zm1 0zm1 0zm1 0zm1 0zm1 0zm1 0zm1 0zm1 0zm1 0zm1 0zm1 0zm1 0zm2 0zm1 0zm2 0zm1 0zm1 0zm1 0zm2 0zm1 0zm3 0zm2 0zm1 0zm3 0zm5 0zm1 0zm1 0zm1 0zm7 0zm1 0zm1 0zm1 0zm1 0zm2 0zm1 0zm1 0zm1 0zm1 0zm1 0zm1 0zm1 0zm3 0zm3 0zm1 0zm1 0zm4 0zm5 0zm-93 1zm1 0zm3 0zm1 0zm2 0zm2 0zm1 0zm1 0zm1 0zm1 0zm1 0zm1 0zm1 0zm1 0zm1 0zm1 0zm1 0zm1 0zm1 0zm1 0zm1 0zm1 0zm1 0zm1 0zm1 0zm2 0zm1 0zm1 0zm1 0zm1 0zm3 0zm1 0zm2 0zm3 0zm2 0zm1 0zm3 0zm2 0zm2 0zm1 0zm1 0zm1 0zm1 0zm1 0zm2 0zm2 0zm1 0zm1 0zm1 0zm1 0zm3 0zm1 0zm1 0zm2 0zm1 0zm1 0zm1 0zm1 0zm1 0zm1 0zm4 0zm1 0zm1 0zm1 0zm1 0zm3 0zm-92 1zm1 0zm6 0zm2 0zm1 0zm2 0zm1 0zm1 0zm1 0zm1 0zm1 0zm1 0zm1 0zm1 0zm1 0zm1 0zm1 0zm1 0zm1 0zm1 0zm1 0zm1 0zm1 0zm1 0zm1 0zm1 0zm1 0zm2 0zm1 0zm1 0zm1 0zm1 0zm1 0zm1 0zm2 0zm3 0zm3 0zm3 0zm1 0zm2 0zm2 0zm3 0zm1 0zm1 0zm3 0zm1 0zm3 0zm1 0zm2 0zm3 0zm2 0zm2 0zm1 0zm3 0zm1 0zm1 0zm1 0zm-85 1zm3 0zm2 0zm2 0zm1 0zm1 0zm1 0zm1 0zm1 0zm1 0zm1 0zm1 0zm1 0zm1 0zm1 0zm1 0zm1 0zm1 0zm1 0zm1 0zm1 0zm1 0zm1 0zm1 0zm1 0zm1 0zm1 0zm2 0zm1 0zm2 0zm2 0zm1 0zm1 0zm1 0zm1 0zm1 0zm1 0zm1 0zm3 0zm1 0zm3 0zm1 0zm2 0zm2 0zm4 0zm2 0zm3 0zm1 0zm1 0zm1 0zm1 0zm1 0zm2 0zm2 0zm4 0zm3 0zm2 0zm5 0zm5 0zm-94 1zm1 0zm1 0zm1 0zm1 0zm1 0zm1 0zm3 0zm1 0zm1 0zm1 0zm1 0zm1 0zm1 0zm1 0zm1 0zm1 0zm1 0zm1 0zm1 0zm1 0zm1 0zm1 0zm1 0zm1 0zm1 0zm2 0zm1 0zm1 0zm1 0zm1 0zm2 0zm1 0zm1 0zm1 0zm1 0zm1 0zm1 0zm2 0zm5 0zm2 0zm1 0zm1 0zm3 0zm2 0zm1 0zm1 0zm2 0zm1 0zm4 0zm3 0zm2 0zm1 0zm2 0zm3 0zm1 0zm2 0zm1 0zm2 0zm5 0zm-88 1zm1 0zm1 0zm3 0zm1 0zm1 0zm1 0zm1 0zm1 0zm2 0zm1 0zm1 0zm1 0zm1 0zm1 0zm1 0zm1 0zm1 0zm1 0zm1 0zm1 0zm1 0zm1 0zm1 0zm1 0zm1 0zm1 0zm1 0zm1 0zm1 0zm1 0zm1 0zm1 0zm1 0zm1 0zm2 0zm2 0zm1 0zm1 0zm1 0zm1 0zm1 0zm2 0zm3 0zm3 0zm4 0zm2 0zm3 0zm2 0zm4 0zm5 0zm8 0zm2 0zm4 0zm2 0zm1 0zm-91 1zm4 0zm2 0zm2 0zm1 0zm1 0zm1 0zm1 0zm1 0zm1 0zm1 0zm1 0zm1 0zm1 0zm1 0zm1 0zm1 0zm1 0zm1 0zm1 0zm1 0zm1 0zm1 0zm2 0zm1 0zm1 0zm1 0zm2 0zm1 0zm1 0zm1 0zm1 0zm1 0zm3 0zm2 0zm1 0zm2 0zm1 0zm1 0zm4 0zm1 0zm7 0zm1 0zm1 0zm2 0zm4 0zm3 0zm2 0zm1 0zm1 0zm2 0zm3 0zm-81 1zm2 0zm2 0zm3 0zm2 0zm2 0zm1 0zm1 0zm1 0zm1 0zm1 0zm1 0zm1 0zm1 0zm1 0zm1 0zm1 0zm1 0zm1 0zm1 0zm1 0zm1 0zm1 0zm1 0zm2 0zm1 0zm4 0zm1 0zm2 0zm1 0zm2 0zm4 0zm2 0zm2 0zm1 0zm1 0zm3 0zm3 0zm1 0zm7 0zm2 0zm2 0zm1 0zm1 0zm10 0zm-81 1zm3 0zm1 0zm1 0zm1 0zm2 0zm1 0zm1 0zm1 0zm1 0zm1 0zm1 0zm1 0zm1 0zm1 0zm1 0zm1 0zm1 0zm1 0zm1 0zm1 0zm1 0zm1 0zm1 0zm1 0zm1 0zm1 0zm6 0zm1 0zm1 0zm1 0zm1 0zm1 0zm1 0zm2 0zm1 0zm3 0zm7 0zm5 0zm2 0zm4 0zm2 0zm7 0zm11 0zm-83 1zm1 0zm3 0zm1 0zm1 0zm1 0zm1 0zm1 0zm1 0zm1 0zm1 0zm1 0zm1 0zm1 0zm1 0zm1 0zm1 0zm1 0zm1 0zm1 0zm1 0zm1 0zm1 0zm1 0zm2 0zm1 0zm3 0zm2 0zm5 0zm2 0zm1 0zm5 0zm3 0zm2 0zm1 0zm7 0zm5 0zm-69 1zm2 0zm4 0zm1 0zm2 0zm1 0zm1 0zm1 0zm1 0zm1 0zm1 0zm1 0zm1 0zm1 0zm1 0zm1 0zm1 0zm1 0zm1 0zm1 0zm1 0zm2 0zm1 0zm2 0zm1 0zm1 0zm1 0zm2 0zm1 0zm3 0zm1 0zm1 0zm2 0zm4 0zm4 0zm19 0zm-69 1zm4 0zm2 0zm1 0zm1 0zm1 0zm1 0zm1 0zm1 0zm1 0zm1 0zm1 0zm1 0zm1 0zm1 0zm1 0zm1 0zm2 0zm1 0zm1 0zm1 0zm1 0zm1 0zm1 0zm1 0zm1 0zm1 0zm1 0zm4 0zm5 0zm14 0zm27 0zm-82 1zm1 0zm5 0zm1 0zm1 0zm2 0zm1 0zm1 0zm1 0zm1 0zm1 0zm1 0zm1 0zm1 0zm1 0zm1 0zm1 0zm2 0zm1 0zm1 0zm1 0zm1 0zm1 0zm1 0zm2 0zm1 0zm1 0zm3 0zm6 0zm3 0zm4 0zm15 0zm11 0zm-75 1zm2 0zm1 0zm5 0zm1 0zm1 0zm1 0zm1 0zm1 0zm1 0zm1 0zm1 0zm1 0zm1 0zm1 0zm1 0zm1 0zm1 0zm1 0zm1 0zm1 0zm1 0zm1 0zm1 0zm1 0zm3 0zm3 0zm1 0zm1 0zm1 0zm2 0zm1 0zm11 0zm42 0zm-93 1zm3 0zm1 0zm1 0zm2 0zm2 0zm1 0zm1 0zm1 0zm1 0zm1 0zm1 0zm1 0zm1 0zm1 0zm1 0zm1 0zm1 0zm1 0zm1 0zm1 0zm1 0zm1 0zm2 0zm2 0zm1 0zm2 0zm6 0zm7 0zm1 0zm-47 1zm2 0zm1 0zm1 0zm1 0zm2 0zm1 0zm1 0zm1 0zm1 0zm1 0zm1 0zm1 0zm1 0zm1 0zm1 0zm1 0zm1 0zm1 0zm2 0zm1 0zm1 0zm2 0zm2 0zm2 0zm-31 1zm2 0zm2 0zm1 0zm2 0zm1 0zm1 0zm1 0zm1 0zm1 0zm1 0zm1 0zm1 0zm1 0zm1 0zm1 0zm1 0zm2 0zm1 0zm2 0zm1 0zm1 0zm2 0zm1 0zm1 0zm-29 1zm1 0zm2 0zm1 0zm3 0zm1 0zm1 0zm1 0zm1 0zm1 0zm1 0zm1 0zm1 0zm1 0zm1 0zm1 0zm1 0zm1 0zm1 0zm1 0zm1 0zm1 0zm1 0zm3 0zm3 0zm2 0zm-34 1zm2 0zm1 0zm6 0zm1 0zm1 0zm1 0zm1 0zm1 0zm1 0zm1 0zm1 0zm1 0zm1 0zm1 0zm1 0zm1 0zm1 0zm1 0zm4 0zm3 0zm2 0zm1 0zm9 0zm-39 1zm1 0zm1 0zm1 0zm2 0zm2 0zm1 0zm1 0zm1 0zm1 0zm1 0zm2 0zm3 0zm1 0zm2 0zm1 0zm1 0zm3 0zm-23 1zm2 0zm1 0zm1 0zm1 0zm1 0zm1 0zm1 0zm1 0zm1 0zm1 0zm1 0zm1 0zm1 0zm2 0zm1 0zm1 0zm2 0zm1 0zm1 0zm-26 1zm3 0zm2 0zm1 0zm1 0zm2 0zm2 0zm3 0zm1 0zm1 0zm1 0zm2 0zm2 0zm1 0zm1 0zm10 0zm-25 1zm2 0zm1 0zm2 0zm1 0zm1 0zm1 0zm2 0zm1 0zm9 0zm5 0zm-34 1zm1 0zm5 0zm2 0zm2 0zm1 0zm1 0zm1 0zm2 0zm1 0zm2 0zm1 0zm2 0zm1 0zm1 0zm2 0zm8 0zm3 0zm-35 1zm6 0zm1 0zm1 0zm2 0zm2 0zm1 0zm2 0zm5 0zm3 0zm2 0zm1 0zm3 0zm5 0zm-36 1zm10 0zm3 0zm1 0zm4 0zm12 0zm-25 1zm1 0zm3 0zm3 0zm6 0zm4 0zm6 0zm-17 1zm1 0zm1 0zm1 0zm1 0zm1 0zm6 0zm7 0zm-25 1zm1 0zm2 0zm3 0zm5 0zm14 0zm5 0zm5 0zm-15 1zm4 0zm-17 1zm3 1zm6 0zm16 0zm-13 2zm0 1zm-23 1zm19 0zm8 0z" stroke="#000" stroke-width="1.3" stroke-linecap="square" fill="none"/>
<rect x="1122.9" y="1090.7" width="60.5" height="111.1" fill="none" stroke="#232c94" stroke-width="3.1"/>
<text x="1199.6" y="1123.8" font-size="40">2.6</text>
<line x1="1025.5" y1="1319.4" x2="1025.5" y2="1542.5" stroke="#000" stroke-width="1.7"/>
<line x1="1024.7" y1="1541.8" x2="1325.6" y2="1541.8" stroke="#000" stroke-width="1.5"/>
<line x1="1025.5" y1="1541.8" x2="1025.5" y2="1547.2" stroke="#000" stroke-width="1.4"/>
<line x1="1044.2" y1="1541.8" x2="1044.2" y2="1545.4" stroke="#000" stroke-width="1.4"/>
<line x1="1062.9" y1="1541.8" x2="1062.9" y2="1545.4" stroke="#000" stroke-width="1.4"/>
<line x1="1081.7" y1="1541.8" x2="1081.7" y2="1545.4" stroke="#000" stroke-width="1.4"/>
<line x1="1100.4" y1="1541.8" x2="1100.4" y2="1547.2" stroke="#000" stroke-width="1.4"/>
<line x1="1119.1" y1="1541.8" x2="1119.1" y2="1545.4" stroke="#000" stroke-width="1.4"/>
<line x1="1137.8" y1="1541.8" x2="1137.8" y2="1545.4" stroke="#000" stroke-width="1.4"/>
<line x1="1156.5" y1="1541.8" x2="1156.5" y2="1545.4" stroke="#000" stroke-width="1.4"/>
<line x1="1175.2" y1="1541.8" x2="1175.2" y2="1547.2" stroke="#000" stroke-width="1.4"/>
<line x1="1194.0" y1="1541.8" x2="1194.0" y2="1545.4" stroke="#000" stroke-width="1.4"/>
<line x1="1212.7" y1="1541.8" x2="1212.7" y2="1545.4" stroke="#000" stroke-width="1.4"/>
<line x1="1231.4" y1="1541.8" x2="1231.4" y2="1545.4" stroke="#000" stroke-width="1.4"/>
<line x1="1250.1" y1="1541.8" x2="1250.1" y2="1547.2" stroke="#000" stroke-width="1.4"/>
<line x1="1268.8" y1="1541.8" x2="1268.8" y2="1545.4" stroke="#000" stroke-width="1.4"/>
<line x1="1287.6" y1="1541.8" x2="1287.6" y2="1545.4" stroke="#000" stroke-width="1.4"/>
<line x1="1306.3" y1="1541.8" x2="1306.3" y2="1545.4" stroke="#000" stroke-width="1.4"/>
<line x1="1325.0" y1="1541.8" x2="1325.0" y2="1547.2" stroke="#000" stroke-width="1.4"/>
<line x1="1020.1" y1="1340.7" x2="1025.5" y2="1340.7" stroke="#000" stroke-width="1.4"/>
<line x1="1021.9" y1="1375.9" x2="1025.5" y2="1375.9" stroke="#000" stroke-width="1.4"/>
<line x1="1021.9" y1="1367.1" x2="1025.5" y2="1367.1" stroke="#000" stroke-width="1.4"/>
<line x1="1021.9" y1="1360.8" x2="1025.5" y2="1360.8" stroke="#000" stroke-width="1.4"/>
<line x1="1021.9" y1="1355.9" x2="1025.5" y2="1355.9" stroke="#000" stroke-width="1.4"/>
<line x1="1021.9" y1="1351.9" x2="1025.5" y2="1351.9" stroke="#000" stroke-width="1.4"/>
<line x1="1021.9" y1="1348.5" x2="1025.5" y2="1348.5" stroke="#000" stroke-width="1.4"/>
<line x1="1021.9" y1="1345.6" x2="1025.5" y2="1345.6" stroke="#000" stroke-width="1.4"/>
<line x1="1021.9" y1="1343.0" x2="1025.5" y2="1343.0" stroke="#000" stroke-width="1.4"/>
<line x1="1020.1" y1="1390.7" x2="1025.5" y2="1390.7" stroke="#000" stroke-width="1.4"/>
<line x1="1021.9" y1="1425.9" x2="1025.5" y2="1425.9" stroke="#000" stroke-width="1.4"/>
<line x1="1021.9" y1="1417.1" x2="1025.5" y2="1417.1" stroke="#000" stroke-width="1.4"/>
<line x1="1021.9" y1="1410.8" x2="1025.5" y2="1410.8" stroke="#000" stroke-width="1.4"/>
<line x1="1021.9" y1="1405.9" x2="1025.5" y2="1405.9" stroke="#000" stroke-width="1.4"/>
<line x1="1021.9" y1="1401.9" x2="1025.5" y2="1401.9" stroke="#000" stroke-width="1.4"/>
<line x1="1021.9" y1="1398.5" x2="1025.5" y2="1398.5" stroke="#000" stroke-width="1.4"/>
<line x1="1021.9" y1="1395.6" x2="1025.5" y2="1395.6" stroke="#000" stroke-width="1.4"/>
<line x1="1021.9" y1="1393.0" x2="1025.5" y2="1393.0" stroke="#000" stroke-width="1.4"/>
<line x1="1020.1" y1="1440.6" x2="1025.5" y2="1440.6" stroke="#000" stroke-width="1.4"/>
<line x1="1021.9" y1="1475.8" x2="1025.5" y2="1475.8" stroke="#000" stroke-width="1.4"/>
<line x1="1021.9" y1="1467.0" x2="1025.5" y2="1467.0" stroke="#000" stroke-width="1.4"/>
<line x1="1021.9" y1="1460.7" x2="1025.5" y2="1460.7" stroke="#000" stroke-width="1.4"/>
<line x1="1021.9" y1="1455.8" x2="1025.5" y2="1455.8" stroke="#000" stroke-width="1.4"/>
<line x1="1021.9" y1="1451.8" x2="1025.5" y2="1451.8" stroke="#000" stroke-width="1.4"/>
<line x1="1021.9" y1="1448.4" x2="1025.5" y2="1448.4" stroke="#000" stroke-width="1.4"/>
<line x1="1021.9" y1="1445.5" x2="1025.5" y2="1445.5" stroke="#000" stroke-width="1.4"/>
<line x1="1021.9" y1="1442.9" x2="1025.5" y2="1442.9" stroke="#000" stroke-width="1.4"/>
<line x1="1020.1" y1="1491.5" x2="1025.5" y2="1491.5" stroke="#000" stroke-width="1.4"/>
<line x1="1021.9" y1="1517.9" x2="1025.5" y2="1517.9" stroke="#000" stroke-width="1.4"/>
<line x1="1021.9" y1="1511.6" x2="1025.5" y2="1511.6" stroke="#000" stroke-width="1.4"/>
<line x1="1021.9" y1="1506.7" x2="1025.5" y2="1506.7" stroke="#000" stroke-width="1.4"/>
<line x1="1021.9" y1="1502.7" x2="1025.5" y2="1502.7" stroke="#000" stroke-width="1.4"/>
<line x1="1021.9" y1="1499.3" x2="1025.5" y2="1499.3" stroke="#000" stroke-width="1.4"/>
<line x1="1021.9" y1="1496.4" x2="1025.5" y2="1496.4" stroke="#000" stroke-width="1.4"/>
<line x1="1021.9" y1="1493.8" x2="1025.5" y2="1493.8" stroke="#000" stroke-width="1.4"/>
<line x1="1021.9" y1="1325.5" x2="1025.5" y2="1325.5" stroke="#000" stroke-width="1.4"/>
<line x1="1021.9" y1="1533.5" x2="1025.5" y2="1533.5" stroke="#000" stroke-width="1.4"/>
<line x1="1021.9" y1="1536.5" x2="1025.5" y2="1536.5" stroke="#000" stroke-width="1.4"/>
<line x1="1021.9" y1="1539.5" x2="1025.5" y2="1539.5" stroke="#000" stroke-width="1.4"/>
<rect x="1020.5" y="1521.5" width="5" height="9.0" fill="#000"/>
<path transform="translate(.5 .5)" d="M1261 1366zm-108 1zm-5 1zm106 1zm-64 3zm52 0zm-93 2zm113 2zm-107 1zm61 0zm-21 1zm38 0zm-59 1zm-28 1zm11 0zm85 0zm11 0zm-65 1zm68 0zm-88 1zm6 0zm-22 1zm3 1zm-15 1zm32 0zm61 1zm-144 1zm71 0zm99 0zm-120 1zm29 0zm24 0zm-32 3zm15 0zm15 2zm80 0zm-101 1zm43 0zm-170 1zm147 0zm21 0zm11 0zm-70 1zm14 0zm7 0zm-62 1zm51 0zm6 0zm-75 1zm69 0zm-5 1zm29 0zm-74 1zm55 0zm90 2zm-77 1zm-90 1zm-38 1zm187 0zm-127 4zm34 0zm-79 2zm-28 1zm7 1zm4 1zm122 0zm-2 3zm-100 12zm16 1zm-28 2zm17 0zm31 0zm-65 1zm36 1zm171 12zm39 2zm-72 2zm5 0zm7 0zm16 0zm36 0zm-229 1zm7 0zm138 0zm50 0zm42 0zm9 0zm7 0zm-144 1zm65 0zm1 0zm32 0zm37 0zm-244 1zm15 0zm21 0zm108 0zm5 0zm16 0zm23 0zm4 0zm1 0zm18 0zm9 0zm3 0zm6 0zm14 0zm1 0zm5 0zm-94 1zm6 0zm3 0zm12 0zm9 0zm6 0zm8 0zm3 0zm2 0zm2 0zm1 0zm1 0zm9 0zm7 0zm1 0zm7 0zm-89 1zm18 0zm2 0zm8 0zm9 0zm7 0zm2 0zm1 0zm8 0zm1 0zm2 0zm5 0zm4 0zm10 0zm3 0zm3 0zm2 0zm1 0zm5 0zm10 0zm3 0zm-122 1zm13 0zm8 0zm24 0zm10 0zm9 0zm1 0zm1 0zm1 0zm1 0zm6 0zm1 0zm8 0zm2 0zm5 0zm2 0zm8 0zm20 0zm5 0zm3 0zm4 0zm-146 1zm11 0zm15 0zm16 0zm2 0zm5 0zm1 0zm1 0zm5 0zm2 0zm1 0zm4 0zm6 0zm2 0zm3 0zm7 0zm1 0zm2 0zm3 0zm2 0zm1 0zm3 0zm1 0zm1 0zm1 0zm3 0zm2 0zm6 0zm1 0zm1 0zm1 0zm4 0zm3 0zm4 0zm4 0zm4 0zm4 0zm8 0zm2 0zm-196 1zm62 0zm26 0zm8 0zm6 0zm9 0zm2 0zm5 0zm4 0zm1 0zm2 0zm3 0zm4 0zm1 0zm4 0zm8 0zm6 0zm2 0zm1 0zm5 0zm3 0zm1 0zm5 0zm2 0zm10 0zm3 0zm1 0zm2 0zm5 0zm6 0zm2 0zm-160 1zm10 0zm15 0zm13 0zm4 0zm8 0zm4 0zm6 0zm3 0zm2 0zm4 0zm3 0zm6 0zm5 0zm1 0zm4 0zm2 0zm2 0zm1 0zm3 0zm1 0zm1 0zm1 0zm3 0zm1 0zm2 0zm1 0zm3 0zm4 0zm2 0zm4 0zm4 0zm3 0zm11 0zm14 0zm4 0zm-143 1zm7 0zm1 0zm27 0zm1 0zm4 0zm1 0zm1 0zm5 0zm9 0zm8 0zm1 0zm2 0zm2 0zm1 0zm1 0zm1 0zm1 0zm2 0zm1 0zm1 0zm3 0zm6 0zm4 0zm1 0zm1 0zm1 0zm2 0zm1 0zm1 0zm3 0zm2 0zm3 0zm4 0zm1 0zm1 0zm1 0zm1 0zm1 0zm1 0zm1 0zm1 0zm4 0zm2 0zm2 0zm1 0zm2 0zm1 0zm1 0zm-184 1zm43 0zm19 0zm4 0zm4 0zm7 0zm4 0zm4 0zm2 0zm4 0zm2 0zm3 0zm2 0zm1 0zm2 0zm1 0zm3 0zm8 0zm4 0zm1 0zm1 0zm3 0zm1 0zm1 0zm2 0zm3 0zm1 0zm4 0zm6 0zm2 0zm1 0zm2 0zm2 0zm1 0zm4 0zm1 0zm2 0zm1 0zm3 0zm1 0zm2 0zm4 0zm3 0zm4 0zm1 0zm3 0zm1 0zm2 0zm1 0zm9 0zm12 0zm-218 1zm3 0zm27 0zm30 0zm3 0zm3 0zm8 0zm1 0zm4 0zm9 0zm2 0zm5 0zm8 0zm2 0zm2 0zm4 0zm1 0zm1 0zm2 0zm1 0zm2 0zm2 0zm1 0zm1 0zm3 0zm1 0zm2 0zm3 0zm2 0zm1 0zm1 0zm3 0zm1 0zm1 0zm1 0zm3 0zm4 0zm2 0zm1 0zm1 0zm2 0zm1 0zm5 0zm2 0zm2 0zm1 0zm1 0zm2 0zm3 0zm4 0zm1 0zm1 0zm1 0zm1 0zm1 0zm2 0zm1 0zm3 0zm1 0zm3 0zm5 0zm1 0zm1 0zm1 0zm5 0zm-223 1zm29 0zm58 0zm10 0zm2 0zm1 0zm2 0zm1 0zm2 0zm6 0zm4 0zm2 0zm1 0zm3 0zm2 0zm1 0zm2 0zm3 0zm1 0zm2 0zm1 0zm3 0zm1 0zm1 0zm3 0zm1 0zm8 0zm1 0zm4 0zm1 0zm2 0zm1 0zm1 0zm1 0zm2 0zm1 0zm3 0zm1 0zm1 0zm1 0zm4 0zm1 0zm1 0zm1 0zm1 0zm1 0zm1 0zm2 0zm1 0zm2 0zm6 0zm2 0zm1 0zm1 0zm1 0zm4 0zm1 0zm1 0zm3 0zm2 0zm1 0zm3 0zm3 0zm6 0zm3 0zm5 0zm3 0zm5 0zm-193 1zm10 0zm15 0zm5 0zm4 0zm12 0zm3 0zm6 0zm2 0zm1 0zm2 0zm1 0zm1 0zm4 0zm2 0zm3 0zm2 0zm4 0zm5 0zm1 0zm1 0zm3 0zm3 0zm1 0zm2 0zm2 0zm3 0zm5 0zm1 0zm1 0zm3 0zm2 0zm1 0zm1 0zm1 0zm3 0zm1 0zm1 0zm5 0zm1 0zm1 0zm3 0zm1 0zm1 0zm1 0zm1 0zm1 0zm1 0zm2 0zm7 0zm3 0zm5 0zm3 0zm2 0zm1 0zm1 0zm1 0zm2 0zm1 0zm2 0zm9 0zm2 0zm1 0zm13 0zm6 0zm-259 1zm22 0zm42 0zm9 0zm9 0zm2 0zm9 0zm10 0zm2 0zm1 0zm4 0zm1 0zm1 0zm4 0zm4 0zm1 0zm3 0zm1 0zm2 0zm2 0zm1 0zm2 0zm3 0zm2 0zm1 0zm1 0zm1 0zm2 0zm2 0zm1 0zm1 0zm2 0zm1 0zm3 0zm4 0zm1 0zm2 0zm3 0zm1 0zm4 0zm1 0zm2 0zm1 0zm1 0zm2 0zm1 0zm2 0zm2 0zm2 0zm2 0zm1 0zm1 0zm2 0zm4 0zm1 0zm2 0zm1 0zm2 0zm1 0zm1 0zm4 0zm5 0zm4 0zm2 0zm6 0zm4 0zm4 0zm8 0zm3 0zm5 0zm-182 1zm9 0zm4 0zm22 0zm16 0zm1 0zm1 0zm2 0zm2 0zm4 0zm2 0zm5 0zm2 0zm1 0zm1 0zm1 0zm1 0zm1 0zm1 0zm1 0zm1 0zm3 0zm1 0zm1 0zm2 0zm2 0zm1 0zm1 0zm1 0zm1 0zm1 0zm1 0zm4 0zm4 0zm3 0zm1 0zm2 0zm1 0zm3 0zm5 0zm3 0zm8 0zm3 0zm2 0zm1 0zm1 0zm1 0zm3 0zm1 0zm3 0zm1 0zm1 0zm1 0zm1 0zm3 0zm3 0zm5 0zm2 0zm1 0zm18 0zm3 0zm2 0zm4 0zm-211 1zm21 0zm24 0zm13 0zm2 0zm2 0zm3 0zm2 0zm1 0zm3 0zm4 0zm1 0zm2 0zm2 0zm1 0zm2 0zm2 0zm1 0zm1 0zm1 0zm1 0zm1 0zm1 0zm2 0zm1 0zm2 0zm1 0zm2 0zm1 0zm2 0zm1 0zm3 0zm1 0zm1 0zm3 0zm1 0zm1 0zm1 0zm4 0zm2 0zm1 0zm1 0zm1 0zm1 0zm1 0zm4 0zm1 0zm3 0zm3 0zm1 0zm2 0zm3 0zm3 0zm2 0zm2 0zm2 0zm2 0zm1 0zm2 0zm3 0zm2 0zm4 0zm4 0zm1 0zm1 0zm5 0zm1 0zm2 0zm-186 1zm2 0zm29 0zm10 0zm2 0zm20 0zm2 0zm5 0zm2 0zm8 0zm1 0zm1 0zm2 0zm2 0zm1 0zm1 0zm1 0zm2 0zm1 0zm1 0zm1 0zm2 0zm1 0zm1 0zm1 0zm1 0zm1 0zm2 0zm1 0zm2 0zm1 0zm1 0zm1 0zm1 0zm1 0zm1 0zm2 0zm1 0zm1 0zm1 0zm2 0zm3 0zm2 0zm1 0zm1 0zm1 0zm2 0zm1 0zm2 0zm1 0zm1 0zm1 0zm1 0zm3 0zm2 0zm1 0zm2 0zm4 0zm4 0zm1 0zm7 0zm1 0zm1 0zm2 0zm3 0zm8 0zm2 0zm33 0zm-245 1zm45 0zm16 0zm2 0zm9 0zm12 0zm5 0zm8 0zm2 0zm6 0zm3 0zm1 0zm2 0zm1 0zm1 0zm1 0zm1 0zm1 0zm1 0zm1 0zm1 0zm1 0zm1 0zm1 0zm3 0zm1 0zm1 0zm1 0zm1 0zm2 0zm1 0zm2 0zm1 0zm3 0zm2 0zm3 0zm2 0zm1 0zm1 0zm2 0zm1 0zm2 0zm2 0zm1 0zm1 0zm1 0zm4 0zm1 0zm2 0zm4 0zm1 0zm1 0zm2 0zm1 0zm4 0zm1 0zm3 0zm1 0zm7 0zm7 0zm4 0zm8 0zm1 0zm5 0zm2 0zm2 0zm1 0zm14 0zm1 0zm-230 1zm3 0zm11 0zm10 0zm11 0zm14 0zm1 0zm18 0zm4 0zm4 0zm1 0zm3 0zm1 0zm1 0zm3 0zm7 0zm1 0zm1 0zm2 0zm3 0zm3 0zm2 0zm1 0zm1 0zm1 0zm1 0zm1 0zm1 0zm1 0zm1 0zm1 0zm2 0zm3 0zm1 0zm2 0zm1 0zm1 0zm1 0zm1 0zm1 0zm1 0zm1 0zm1 0zm1 0zm1 0zm2 0zm2 0zm1 0zm1 0zm2 0zm1 0zm3 0zm3 0zm1 0zm1 0zm1 0zm1 0zm4 0zm1 0zm2 0zm1 0zm3 0zm1 0zm3 0zm2 0zm3 0zm1 0zm1 0zm4 0zm1 0zm4 0zm6 0zm9 0zm2 0zm4 0zm2 0zm30 0zm-212 1zm6 0zm15 0zm7 0zm2 0zm3 0zm2 0zm10 0zm14 0zm5 0zm5 0zm2 0zm1 0zm1 0zm1 0zm1 0zm3 0zm2 0zm1 0zm2 0zm1 0zm1 0zm2 0zm2 0zm1 0zm1 0zm2 0zm2 0zm1 0zm2 0zm2 0zm2 0zm1 0zm1 0zm1 0zm1 0zm1 0zm1 0zm1 0zm5 0zm1 0zm1 0zm1 0zm1 0zm2 0zm2 0zm3 0zm1 0zm2 0zm1 0zm1 0zm1 0zm3 0zm1 0zm3 0zm3 0zm1 0zm2 0zm1 0zm3 0zm5 0zm2 0zm5 0zm-188 1zm23 0zm7 0zm5 0zm3 0zm17 0zm4 0zm8 0zm1 0zm3 0zm2 0zm2 0zm2 0zm4 0zm3 0zm5 0zm4 0zm3 0zm1 0zm1 0zm2 0zm3 0zm1 0zm1 0zm1 0zm1 0zm2 0zm2 0zm2 0zm1 0zm2 0zm1 0zm1 0zm1 0zm1 0zm1 0zm3 0zm1 0zm1 0zm1 0zm1 0zm1 0zm1 0zm1 0zm1 0zm1 0zm1 0zm1 0zm1 0zm3 0zm1 0zm2 0zm2 0zm3 0zm1 0zm1 0zm1 0zm1 0zm3 0zm1 0zm2 0zm1 0zm3 0zm1 0zm3 0zm3 0zm2 0zm2 0zm1 0zm3 0zm2 0zm3 0zm11 0zm-190 1zm32 0zm14 0zm1 0zm14 0zm2 0zm4 0zm7 0zm1 0zm1 0zm1 0zm2 0zm1 0zm3 0zm7 0zm5 0zm6 0zm2 0zm1 0zm2 0zm1 0zm1 0zm2 0zm1 0zm2 0zm2 0zm1 0zm1 0zm1 0zm1 0zm1 0zm1 0zm1 0zm2 0zm1 0zm1 0zm2 0zm1 0zm1 0zm1 0zm1 0zm1 0zm1 0zm1 0zm1 0zm1 0zm1 0zm1 0zm2 0zm1 0zm2 0zm1 0zm1 0zm1 0zm1 0zm1 0zm2 0zm1 0zm1 0zm1 0zm2 0zm1 0zm4 0zm1 0zm2 0zm1 0zm7 0zm9 0zm8 0zm23 0zm-207 1zm26 0zm15 0zm5 0zm6 0zm6 0zm2 0zm1 0zm6 0zm1 0zm5 0zm1 0zm1 0zm2 0zm3 0zm1 0zm3 0zm3 0zm1 0zm2 0zm1 0zm1 0zm3 0zm1 0zm1 0zm1 0zm1 0zm2 0zm1 0zm1 0zm2 0zm1 0zm1 0zm2 0zm1 0zm1 0zm1 0zm1 0zm1 0zm1 0zm1 0zm1 0zm1 0zm2 0zm1 0zm2 0zm1 0zm2 0zm1 0zm2 0zm1 0zm1 0zm1 0zm2 0zm2 0zm3 0zm1 0zm1 0zm1 0zm2 0zm1 0zm5 0zm5 0zm2 0zm2 0zm1 0zm53 0zm-217 1zm36 0zm4 0zm1 0zm3 0zm1 0zm1 0zm2 0zm4 0zm1 0zm1 0zm1 0zm1 0zm1 0zm2 0zm4 0zm2 0zm2 0zm1 0zm4 0zm1 0zm1 0zm1 0zm1 0zm6 0zm1 0zm1 0zm3 0zm1 0zm1 0zm3 0zm1 0zm1 0zm2 0zm3 0zm4 0zm2 0zm1 0zm2 0zm1 0zm1 0zm1 0zm2 0zm1 0zm1 0zm1 0zm1 0zm1 0zm1 0zm1 0zm2 0zm1 0zm2 0zm1 0zm1 0zm3 0zm1 0zm1 0zm1 0zm1 0zm2 0zm5 0zm1 0zm4 0zm6 0zm15 0zm17 0zm-178 1zm5 0zm4 0zm1 0zm1 0zm6 0zm11 0zm3 0zm7 0zm4 0zm1 0zm2 0zm1 0zm1 0zm1 0zm6 0zm2 0zm1 0zm9 0zm4 0zm2 0zm2 0zm2 0zm1 0zm1 0zm1 0zm2 0zm1 0zm1 0zm1 0zm1 0zm2 0zm1 0zm2 0zm2 0zm1 0zm1 0zm1 0zm1 0zm1 0zm1 0zm2 0zm1 0zm1 0zm1 0zm1 0zm3 0zm1 0zm1 0zm1 0zm1 0zm2 0zm1 0zm1 0zm1 0zm1 0zm2 0zm1 0zm1 0zm1 0zm1 0zm1 0zm1 0zm3 0zm1 0zm2 0zm2 0zm1 0zm2 0zm4 0zm3 0zm1 0zm1 0zm2 0zm4 0zm3 0zm3 0zm3 0zm10 0zm8 0zm-183 1zm4 0zm18 0zm7 0zm3 0zm1 0zm4 0zm2 0zm2 0zm3 0zm2 0zm2 0zm5 0zm3 0zm2 0zm8 0zm1 0zm2 0zm1 0zm1 0zm1 0zm1 0zm2 0zm1 0zm2 0zm1 0zm1 0zm1 0zm4 0zm1 0zm1 0zm4 0zm2 0zm2 0zm1 0zm1 0zm1 0zm1 0zm1 0zm2 0zm1 0zm1 0zm1 0zm1 0zm2 0zm1 0zm3 0zm2 0zm1 0zm1 0zm1 0zm1 0zm1 0zm1 0zm1 0zm1 0zm1 0zm1 0zm2 0zm1 0zm1 0zm2 0zm1 0zm1 0zm1 0zm1 0zm2 0zm4 0zm4 0zm1 0zm11 0zm3 0zm1 0zm-164 1zm1 0zm10 0zm3 0zm15 0zm1 0zm1 0zm3 0zm1 0zm5 0zm3 0zm4 0zm3 0zm1 0zm2 0zm3 0zm1 0zm3 0zm1 0zm3 0zm2 0zm1 0zm1 0zm4 0zm2 0zm2 0zm1 0zm1 0zm2 0zm3 0zm1 0zm2 0zm1 0zm1 0zm1 0zm1 0zm1 0zm1 0zm3 0zm1 0zm2 0zm4 0zm1 0zm1 0zm1 0zm1 0zm3 0zm2 0zm1 0zm1 0zm1 0zm2 0zm1 0zm1 0zm1 0zm1 0zm1 0zm3 0zm1 0zm1 0zm3 0zm4 0zm4 0zm3 0zm1 0zm3 0zm1 0zm1 0zm1 0zm2 0zm1 0zm5 0zm7 0zm9 0zm-172 1zm5 0zm7 0zm9 0zm1 0zm2 0zm1 0zm1 0zm2 0zm1 0zm3 0zm2 0zm4 0zm1 0zm1 0zm3 0zm1 0zm1 0zm2 0zm2 0zm2 0zm2 0zm2 0zm1 0zm3 0zm1 0zm2 0zm1 0zm2 0zm3 0zm1 0zm2 0zm7 0zm1 0zm2 0zm1 0zm1 0zm1 0zm1 0zm2 0zm6 0zm1 0zm1 0zm1 0zm1 0zm2 0zm1 0zm1 0zm1 0zm3 0zm1 0zm2 0zm1 0zm2 0zm1 0zm1 0zm1 0zm1 0zm5 0zm1 0zm2 0zm1 0zm1 0zm1 0zm1 0zm2 0zm1 0zm1 0zm2 0zm2 0zm1 0zm3 0zm1 0zm8 0zm1 0zm2 0zm10 0zm-149 1zm3 0zm5 0zm1 0zm2 0zm2 0zm5 0zm2 0zm2 0zm1 0zm1 0zm1 0zm3 0zm1 0zm1 0zm1 0zm2 0zm1 0zm1 0zm1 0zm1 0zm2 0zm1 0zm1 0zm1 0zm2 0zm2 0zm1 0zm1 0zm3 0zm1 0zm3 0zm1 0zm1 0zm1 0zm1 0zm1 0zm2 0zm3 0zm1 0zm1 0zm3 0zm1 0zm1 0zm1 0zm9 0zm1 0zm1 0zm1 0zm2 0zm2 0zm1 0zm1 0zm1 0zm2 0zm1 0zm1 0zm2 0zm2 0zm3 0zm1 0zm1 0zm1 0zm2 0zm1 0zm1 0zm1 0zm1 0zm1 0zm3 0zm5 0zm1 0zm3 0zm1 0zm1 0zm3 0zm1 0zm9 0zm8 0zm2 0zm-161 1zm17 0zm1 0zm1 0zm1 0zm1 0zm1 0zm1 0zm4 0zm1 0zm2 0zm4 0zm2 0zm2 0zm2 0zm1 0zm1 0zm1 0zm1 0zm2 0zm1 0zm1 0zm1 0zm1 0zm3 0zm2 0zm1 0zm5 0zm1 0zm2 0zm1 0zm2 0zm1 0zm1 0zm1 0zm1 0zm1 0zm1 0zm2 0zm3 0zm1 0zm1 0zm2 0zm1 0zm1 0zm1 0zm1 0zm1 0zm1 0zm1 0zm3 0zm1 0zm1 0zm1 0zm1 0zm2 0zm1 0zm2 0zm1 0zm2 0zm1 0zm1 0zm1 0zm2 0zm5 0zm5 0zm2 0zm1 0zm1 0zm4 0zm2 0zm9 0zm6 0zm-147 1zm1 0zm5 0zm1 0zm2 0zm3 0zm4 0zm2 0zm2 0zm3 0zm6 0zm1 0zm5 0zm1 0zm1 0zm3 0zm1 0zm1 0zm1 0zm1 0zm4 0zm3 0zm1 0zm1 0zm1 0zm1 0zm1 0zm1 0zm1 0zm1 0zm1 0zm2 0zm2 0zm1 0zm3 0zm1 0zm2 0zm3 0zm2 0zm2 0zm3 0zm1 0zm1 0zm1 0zm3 0zm1 0zm1 0zm5 0zm1 0zm4 0zm1 0zm1 0zm3 0zm1 0zm1 0zm1 0zm4 0zm2 0zm1 0zm3 0zm9 0zm1 0zm2 0zm3 0zm13 0zm7 0zm20 0zm-171 1zm6 0zm1 0zm1 0zm2 0zm1 0zm3 0zm1 0zm3 0zm1 0zm2 0zm1 0zm1 0zm1 0zm2 0zm3 0zm1 0zm1 0zm1 0zm1 0zm1 0zm1 0zm1 0zm1 0zm2 0zm1 0zm1 0zm2 0zm1 0zm1 0zm1 0zm2 0zm1 0zm1 0zm1 0zm1 0zm1 0zm2 0zm1 0zm1 0zm1 0zm1 0zm2 0zm1 0zm1 0zm1 0zm1 0zm2 0zm1 0zm1 0zm3 0zm1 0zm1 0zm1 0zm1 0zm3 0zm2 0zm1 0zm3 0zm1 0zm1 0zm3 0zm1 0zm1 0zm1 0zm1 0zm1 0zm3 0zm1 0zm1 0zm1 0zm2 0zm1 0zm4 0zm2 0zm3 0zm6 0zm1 0zm6 0zm2 0zm11 0zm13 0zm12 0zm-163 1zm3 0zm2 0zm2 0zm7 0zm3 0zm2 0zm7 0zm1 0zm2 0zm1 0zm1 0zm2 0zm1 0zm1 0zm1 0zm1 0zm1 0zm1 0zm1 0zm1 0zm1 0zm1 0zm1 0zm1 0zm1 0zm1 0zm1 0zm1 0zm2 0zm1 0zm1 0zm2 0zm1 0zm2 0zm1 0zm1 0zm1 0zm1 0zm1 0zm2 0zm1 0zm1 0zm2 0zm1 0zm1 0zm1 0zm1 0zm1 0zm2 0zm1 0zm1 0zm1 0zm2 0zm5 0zm5 0zm2 0zm2 0zm1 0zm1 0zm2 0zm4 0zm1 0zm2 0zm1 0zm3 0zm2 0zm2 0zm1 0zm3 0zm1 0zm1 0zm1 0zm1 0zm15 0zm1 0zm-137 1zm5 0zm5 0zm2 0zm7 0zm1 0zm1 0zm6 0zm1 0zm2 0zm1 0zm2 0zm2 0zm1 0zm1 0zm1 0zm1 0zm1 0zm1 0zm1 0zm1 0zm1 0zm1 0zm1 0zm2 0zm1 0zm1 0zm1 0zm1 0zm1 0zm2 0zm1 0zm2 0zm1 0zm1 0zm1 0zm1 0zm1 0zm3 0zm1 0zm2 0zm2 0zm1 0zm1 0zm1 0zm2 0zm2 0zm3 0zm2 0zm4 0zm5 0zm1 0zm1 0zm1 0zm4 0zm2 0zm2 0zm5 0zm1 0zm2 0zm3 0zm1 0zm3 0zm1 0zm2 0zm5 0zm4 0zm29 0zm-160 1zm3 0zm2 0zm1 0zm1 0zm1 0zm1 0zm1 0zm2 0zm2 0zm1 0zm3 0zm1 0zm2 0zm2 0zm1 0zm1 0zm1 0zm1 0zm1 0zm1 0zm1 0zm1 0zm1 0zm1 0zm1 0zm1 0zm1 0zm1 0zm1 0zm1 0zm1 0zm1 0zm1 0zm1 0zm1 0zm1 0zm1 0zm1 0zm1 0zm1 0zm1 0zm1 0zm1 0zm1 0zm1 0zm1 0zm1 0zm1 0zm1 0zm1 0zm1 0zm1 0zm1 0zm2 0zm1 0zm1 0zm1 0zm1 0zm1 0zm1 0zm2 0zm2 0zm1 0zm2 0zm1 0zm2 0zm1 0zm4 0zm1 0zm2 0zm1 0zm1 0zm2 0zm5 0zm2 0zm2 0zm1 0zm1 0zm1 0zm2 0zm3 0zm2 0zm24 0zm15 0zm-151 1zm1 0zm3 0zm2 0zm1 0zm4 0zm1 0zm3 0zm3 0zm1 0zm3 0zm1 0zm1 0zm3 0zm2 0zm1 0zm1 0zm1 0zm1 0zm1 0zm1 0zm2 0zm1 0zm1 0zm1 0zm1 0zm1 0zm1 0zm1 0zm1 0zm1 0zm1 0zm1 0zm1 0zm1 0zm1 0zm1 0zm1 0zm1 0zm2 0zm1 0zm2 0zm1 0zm1 0zm1 0zm1 0zm3 0zm1 0zm2 0zm1 0zm1 0zm2 0zm1 0zm1 0zm1 0zm2 0zm3 0zm1 0zm1 0zm1 0zm1 0zm1 0zm2 0zm1 0zm1 0zm2 0zm4 0zm1 0zm1 0zm1 0zm1 0zm2 0zm1 0zm8 0zm2 0zm5 0zm-118 1zm2 0zm1 0zm1 0zm2 0zm3 0zm4 0zm1 0zm1 0zm2 0zm2 0zm1 0zm2 0zm1 0zm1 0zm2 0zm1 0zm1 0zm1 0zm1 0zm1 0zm1 0zm1 0zm1 0zm1 0zm1 0zm1 0zm1 0zm1 0zm1 0zm1 0zm1 0zm1 0zm1 0zm1 0zm1 0zm1 0zm1 0zm1 0zm1 0zm1 0zm1 0zm1 0zm1 0zm1 0zm1 0zm1 0zm1 0zm1 0zm1 0zm1 0zm1 0zm1 0zm1 0zm1 0zm1 0zm1 0zm1 0zm1 0zm1 0zm1 0zm1 0zm2 0zm1 0zm1 0zm1 0zm4 0zm1 0zm2 0zm6 0zm1 0zm4 0zm1 0zm1 0zm2 0zm4 0zm3 0zm1 0zm20 0zm-125 1zm1 0zm9 0zm2 0zm2 0zm1 0zm1 0zm3 0zm2 0zm1 0zm1 0zm1 0zm1 0zm1 0zm2 0zm2 0zm1 0zm1 0zm1 0zm1 0zm1 0zm1 0zm1 0zm1 0zm1 0zm1 0zm1 0zm1 0zm1 0zm1 0zm1 0zm1 0zm1 0zm1 0zm1 0zm1 0zm1 0zm1 0zm1 0zm1 0zm1 0zm1 0zm1 0zm1 0zm1 0zm1 0zm1 0zm1 0zm1 0zm1 0zm1 0zm1 0zm1 0zm2 0zm1 0zm2 0zm4 0zm2 0zm1 0zm1 0zm1 0zm1 0zm2 0zm2 0zm1 0zm3 0zm1 0zm1 0zm8 0zm2 0zm1 0zm9 0zm-114 1zm1 0zm4 0zm1 0zm5 0zm2 0zm2 0zm1 0zm1 0zm2 0zm2 0zm1 0zm2 0zm1 0zm1 0zm3 0zm1 0zm1 0zm1 0zm1 0zm1 0zm1 0zm1 0zm1 0zm1 0zm1 0zm1 0zm1 0zm1 0zm1 0zm1 0zm1 0zm1 0zm1 0zm1 0zm1 0zm1 0zm1 0zm1 0zm1 0zm1 0zm1 0zm1 0zm1 0zm1 0zm1 0zm1 0zm1 0zm1 0zm1 0zm1 0zm1 0zm1 0zm2 0zm1 0zm1 0zm1 0zm2 0zm3 0zm2 0zm1 0zm1 0zm2 0zm1 0zm4 0zm2 0zm2 0zm5 0zm7 0zm4 0zm2 0zm-110 1zm2 0zm1 0zm2 0zm2 0zm1 0zm1 0zm3 0zm1 0zm1 0zm2 0zm1 0zm1 0zm2 0zm1 0zm1 0zm1 0zm1 0zm1 0zm1 0zm1 0zm1 0zm1 0zm1 0zm1 0zm1 0zm1 0zm1 0zm1 0zm1 0zm1 0zm1 0zm1 0zm1 0zm1 0zm1 0zm1 0zm1 0zm1 0zm1 0zm1 0zm1 0zm1 0zm1 0zm1 0zm1 0zm1 0zm1 0zm1 0zm1 0zm1 0zm1 0zm1 0zm1 0zm1 0zm1 0zm1 0zm1 0zm1 0zm1 0zm1 0zm1 0zm2 0zm1 0zm1 0zm3 0zm2 0zm1 0zm1 0zm5 0zm6 0zm2 0zm5 0zm1 0zm34 0zm-130 1zm1 0zm2 0zm4 0zm1 0zm1 0zm1 0zm1 0zm1 0zm1 0zm1 0zm1 0zm2 0zm1 0zm1 0zm3 0zm1 0zm2 0zm1 0zm1 0zm1 0zm1 0zm1 0zm1 0zm1 0zm1 0zm1 0zm1 0zm1 0zm1 0zm1 0zm1 0zm2 0zm1 0zm1 0zm1 0zm1 0zm1 0zm1 0zm1 0zm1 0zm1 0zm1 0zm1 0zm1 0zm1 0zm1 0zm1 0zm1 0zm1 0zm1 0zm1 0zm1 0zm1 0zm1 0zm1 0zm1 0zm2 0zm1 0zm1 0zm1 0zm2 0zm1 0zm6 0zm1 0zm3 0zm2 0zm13 0zm2 0zm7 0zm-109 1zm1 0zm1 0zm5 0zm1 0zm1 0zm1 0zm2 0zm1 0zm1 0zm1 0zm1 0zm2 0zm2 0zm1 0zm1 0zm2 0zm1 0zm1 0zm1 0zm1 0zm1 0zm1 0zm1 0zm1 0zm1 0zm1 0zm1 0zm2 0zm1 0zm1 0zm1 0zm1 0zm1 0zm1 0zm1 0zm1 0zm1 0zm1 0zm1 0zm1 0zm1 0zm1 0zm1 0zm1 0zm1 0zm1 0zm1 0zm1 0zm1 0zm1 0zm1 0zm1 0zm1 0zm1 0zm1 0zm1 0zm1 0zm1 0zm1 0zm1 0zm1 0zm1 0zm1 0zm4 0zm3 0zm1 0zm25 0zm14 0zm-118 1zm1 0zm2 0zm1 0zm1 0zm2 0zm1 0zm3 0zm2 0zm1 0zm2 0zm1 0zm1 0zm1 0zm2 0zm1 0zm1 0zm1 0zm1 0zm1 0zm1 0zm1 0zm2 0zm1 0zm1 0zm1 0zm1 0zm1 0zm1 0zm1 0zm1 0zm1 0zm1 0zm1 0zm1 0zm1 0zm1 0zm1 0zm1 0zm1 0zm1 0zm1 0zm1 0zm1 0zm2 0zm1 0zm1 0zm1 0zm1 0zm1 0zm1 0zm2 0zm1 0zm1 0zm1 0zm1 0zm1 0zm1 0zm1 0zm1 0zm1 0zm2 0zm2 0zm2 0zm1 0zm2 0zm2 0zm1 0zm3 0zm2 0zm2 0zm2 0zm-92 1zm2 0zm1 0zm2 0zm2 0zm2 0zm1 0zm1 0zm1 0zm1 0zm2 0zm1 0zm3 0zm1 0zm1 0zm3 0zm1 0zm1 0zm1 0zm1 0zm1 0zm1 0zm1 0zm1 0zm1 0zm1 0zm1 0zm1 0zm1 0zm1 0zm1 0zm1 0zm1 0zm1 0zm1 0zm1 0zm1 0zm1 0zm1 0zm1 0zm1 0zm1 0zm1 0zm1 0zm1 0zm1 0zm1 0zm1 0zm1 0zm1 0zm1 0zm2 0zm1 0zm3 0zm1 0zm1 0zm1 0zm2 0zm1 0zm2 0zm2 0zm2 0zm1 0zm2 0zm2 0zm2 0zm10 0zm4 0zm-95 1zm2 0zm1 0zm1 0zm1 0zm2 0zm1 0zm1 0zm1 0zm1 0zm1 0zm1 0zm2 0zm2 0zm2 0zm1 0zm1 0zm1 0zm1 0zm1 0zm1 0zm2 0zm1 0zm1 0zm1 0zm1 0zm1 0zm1 0zm1 0zm1 0zm1 0zm1 0zm1 0zm1 0zm1 0zm1 0zm1 0zm1 0zm1 0zm1 0zm1 0zm1 0zm1 0zm1 0zm1 0zm1 0zm1 0zm1 0zm2 0zm1 0zm1 0zm1 0zm1 0zm1 0zm3 0zm2 0zm3 0zm3 0zm1 0zm1 0zm1 0zm5 0zm1 0zm10 0zm-89 1zm1 0zm1 0zm1 0zm1 0zm2 0zm1 0zm1 0zm2 0zm1 0zm3 0zm1 0zm1 0zm1 0zm1 0zm1 0zm1 0zm1 0zm1 0zm1 0zm1 0zm1 0zm1 0zm1 0zm1 0zm1 0zm1 0zm1 0zm1 0zm1 0zm1 0zm1 0zm1 0zm1 0zm1 0zm1 0zm1 0zm1 0zm1 0zm2 0zm1 0zm1 0zm1 0zm1 0zm1 0zm1 0zm1 0zm1 0zm1 0zm1 0zm1 0zm1 0zm1 0zm1 0zm2 0zm1 0zm2 0zm2 0zm1 0zm1 0zm4 0zm8 0zm1 0zm-84 1zm1 0zm2 0zm2 0zm1 0zm1 0zm4 0zm2 0zm1 0zm2 0zm2 0zm1 0zm1 0zm2 0zm1 0zm1 0zm1 0zm1 0zm1 0zm1 0zm1 0zm1 0zm1 0zm1 0zm1 0zm1 0zm1 0zm1 0zm1 0zm1 0zm1 0zm1 0zm1 0zm1 0zm1 0zm2 0zm1 0zm1 0zm1 0zm1 0zm1 0zm1 0zm1 0zm1 0zm1 0zm1 0zm2 0zm1 0zm1 0zm2 0zm1 0zm1 0zm3 0zm4 0zm-67 1zm1 0zm2 0zm2 0zm1 0zm1 0zm2 0zm2 0zm1 0zm1 0zm3 0zm2 0zm2 0zm1 0zm1 0zm2 0zm1 0zm1 0zm1 0zm1 0zm1 0zm1 0zm1 0zm1 0zm1 0zm1 0zm1 0zm1 0zm1 0zm2 0zm1 0zm2 0zm1 0zm1 0zm1 0zm1 0zm1 0zm1 0zm1 0zm2 0zm1 0zm1 0zm2 0zm1 0zm2 0zm3 0zm1 0zm1 0zm3 0zm1 0zm1 0zm6 0zm-76 1zm2 0zm1 0zm1 0zm1 0zm1 0zm4 0zm2 0zm1 0zm1 0zm2 0zm2 0zm1 0zm2 0zm2 0zm1 0zm1 0zm1 0zm1 0zm1 0zm1 0zm1 0zm1 0zm1 0zm1 0zm1 0zm1 0zm1 0zm1 0zm1 0zm1 0zm1 0zm1 0zm1 0zm1 0zm1 0zm1 0zm1 0zm1 0zm1 0zm2 0zm1 0zm1 0zm1 0zm1 0zm2 0zm7 0zm1 0zm2 0zm2 0zm3 0zm2 0zm5 0zm1 0zm-80 1zm1 0zm1 0zm1 0zm1 0zm1 0zm2 0zm1 0zm2 0zm2 0zm1 0zm1 0zm2 0zm5 0zm1 0zm1 0zm1 0zm1 0zm1 0zm1 0zm1 0zm1 0zm1 0zm1 0zm1 0zm1 0zm1 0zm1 0zm1 0zm1 0zm1 0zm1 0zm1 0zm1 0zm1 0zm1 0zm1 0zm1 0zm1 0zm1 0zm3 0zm1 0zm2 0zm1 0zm1 0zm1 0zm2 0zm2 0zm3 0zm2 0zm2 0zm2 0zm1 0zm8 0zm18 0zm-95 1zm3 0zm1 0zm1 0zm1 0zm1 0zm1 0zm2 0zm2 0zm1 0zm2 0zm6 0zm1 0zm1 0zm1 0zm2 0zm1 0zm1 0zm2 0zm1 0zm1 0zm1 0zm1 0zm1 0zm2 0zm1 0zm1 0zm1 0zm1 0zm1 0zm1 0zm1 0zm1 0zm1 0zm1 0zm1 0zm1 0zm1 0zm1 0zm2 0zm4 0zm1 0zm3 0zm-62 1zm2 0zm1 0zm1 0zm2 0zm1 0zm1 0zm5 0zm1 0zm1 0zm1 0zm1 0zm1 0zm1 0zm1 0zm1 0zm1 0zm1 0zm1 0zm1 0zm1 0zm1 0zm3 0zm1 0zm1 0zm1 0zm2 0zm1 0zm1 0zm4 0zm2 0zm1 0zm1 0zm1 0zm4 0zm1 0zm3 0zm5 0zm1 0zm1 0zm3 0zm2 0zm22 0zm-86 1zm1 0zm1 0zm3 0zm2 0zm1 0zm3 0zm1 0zm1 0zm2 0zm1 0zm3 0zm2 0zm1 0zm1 0zm3 0zm1 0zm2 0zm1 0zm1 0zm1 0zm1 0zm1 0zm1 0zm1 0zm1 0zm1 0zm1 0zm2 0zm1 0zm1 0zm3 0zm2 0zm3 0zm1 0zm2 0zm1 0zm3 0zm4 0zm1 0zm2 0zm17 0zm-83 1zm3 0zm1 0zm1 0zm1 0zm3 0zm1 0zm3 0zm1 0zm2 0zm2 0zm1 0zm1 0zm2 0zm1 0zm1 0zm1 0zm3 0zm1 0zm2 0zm1 0zm3 0zm2 0zm2 0zm3 0zm2 0zm2 0zm1 0zm5 0zm1 0zm2 0zm1 0zm3 0zm-57 1zm3 0zm3 0zm3 0zm2 0zm1 0zm2 0zm2 0zm1 0zm5 0zm5 0zm5 0zm2 0zm1 0zm1 0zm5 0zm8 0zm28 0zm-80 1zm3 0zm1 0zm1 0zm1 0zm6 0zm2 0zm1 0zm4 0zm5 0zm1 0zm4 0zm1 0zm2 0zm1 0zm2 0zm1 0zm1 0zm1 0zm4 0zm1 0zm1 0zm1 0zm2 0zm1 0zm14 0zm-61 1zm5 0zm2 0zm1 0zm1 0zm3 0zm3 0zm1 0zm3 0zm1 0zm2 0zm1 0zm1 0zm1 0zm1 0zm1 0zm2 0zm2 0zm1 0zm7 0zm5 0zm1 0zm3 0zm31 0zm-79 1zm5 0zm3 0zm4 0zm1 0zm2 0zm2 0zm2 0zm1 0zm4 0zm1 0zm1 0zm5 0zm1 0zm1 0zm3 0zm1 0zm5 0zm2 0zm2 0zm3 0zm2 0zm8 0zm-60 1zm2 0zm1 0zm1 0zm1 0zm1 0zm9 0zm1 0zm5 0zm3 0zm1 0zm1 0zm6 0zm3 0zm10 0zm7 0zm-50 1zm1 0zm2 0zm3 0zm3 0zm2 0zm2 0zm3 0zm1 0zm4 0zm1 0zm3 0zm4 0zm1 0zm4 0zm1 0zm7 0zm2 0zm-45 1zm2 0zm3 0zm7 0zm2 0zm7 0zm1 0zm2 0zm1 0zm6 0zm9 0zm8 0zm-39 1zm1 0zm5 0zm3 0zm4 0zm4 0zm4 0zm2 0zm8 0zm-39 1zm3 0zm12 0zm1 0zm2 0zm5 0zm1 0zm21 0zm-46 1zm3 0zm21 0zm4 0zm2 0zm5 0zm-26 1zm3 0zm3 0zm20 0zm10 0zm-39 1zm12 0zm3 0zm1 0zm-12 1zm16 0zm-26 1zm13 0zm7 0zm6 0zm7 0zm-34 1zm6 0zm3 0zm3 0zm13 2zm-18 1zm4 0zm12 0zm-22 1zm17 2zm14 0zm-32 1zm11 0zm-9 1z" stroke="#000" stroke-width="1.3" stroke-linecap="square" fill="none"/>
<rect x="1122.9" y="1338.4" width="179.6" height="110.3" fill="none" stroke="#232c94" stroke-width="3.1"/>
<text x="1131.4" y="1440.2" font-size="40.3" id="t56" class="o" clip-path="url(#ct56)">1.4 + 0.6</text>
<path d="M1083.0,1556.5 l6.0,16.6 h-12.0z" fill="#000"/>
<path d="M1163.8,1556.5 l6.0,16.6 h-12.0z" fill="#000"/>
<path d="M1266.2,1556.5 l6.0,16.6 h-12.0z" fill="#000"/>
<text x="1073.4" y="1603.0" font-size="32.5">2<tspan font-style="italic">n</tspan></text>
<text x="1155.8" y="1603.0" font-size="32.5">4<tspan font-style="italic">n</tspan></text>
<text x="1257.4" y="1603.0" font-size="32.5">8<tspan font-style="italic">n</tspan></text>
<text x="1187.5" y="1649.8" font-size="40.2" text-anchor="middle">DNA content</text>
<text transform="translate(898.6 1038.5) scale(0.935 1)" font-size="58.3" font-weight="bold">C</text>
<text x="992.3" y="1185.5" font-size="40" text-anchor="middle" transform="rotate(-90 992.3 1185.5)">Control</text>
<text x="992.3" y="1436.0" font-size="40" text-anchor="middle" transform="rotate(-90 992.3 1436.0)">Reversine</text>
<text x="931.6" y="1301.0" font-size="40" text-anchor="middle" transform="rotate(-90 931.6 1301.0)">pH3</text>
<line x1="665.2" y1="1177.6" x2="665.2" y2="1190.0" stroke="#000" stroke-width="4.3"/>
<line x1="642.4" y1="1177.6" x2="688.0" y2="1177.6" stroke="#000" stroke-width="4.3"/>
<rect x="636.40" y="1189.30" width="57.70" height="254.30" fill="#e6e6e6" stroke="#8dc63f" stroke-width="3.4"/>
<line x1="746.0" y1="1317.0" x2="746.0" y2="1330.0" stroke="#000" stroke-width="4.3"/>
<line x1="723.0" y1="1317.0" x2="769.0" y2="1317.0" stroke="#000" stroke-width="4.3"/>
<rect x="717.10" y="1328.50" width="57.30" height="115.10" fill="#e6e6e6" stroke="#404040" stroke-width="3.8"/>
<line x1="822.4" y1="1340.0" x2="822.4" y2="1350.0" stroke="#000" stroke-width="4.3"/>
<line x1="799.6" y1="1340.0" x2="845.2" y2="1340.0" stroke="#000" stroke-width="4.3"/>
<rect x="793.30" y="1348.70" width="57.80" height="94.90" fill="#e6e6e6" stroke="#404040" stroke-width="3.8"/>
<line x1="605.5" y1="1099.3" x2="605.5" y2="1445.7" stroke="#000" stroke-width="3.9"/>
<line x1="593.1" y1="1443.6" x2="884.7" y2="1443.6" stroke="#000" stroke-width="4.4"/>
<line x1="593.1" y1="1100.9" x2="605.5" y2="1100.9" stroke="#000" stroke-width="3.4"/>
<line x1="593.1" y1="1186.0" x2="605.5" y2="1186.0" stroke="#000" stroke-width="3.4"/>
<line x1="593.1" y1="1272.0" x2="605.5" y2="1272.0" stroke="#000" stroke-width="3.4"/>
<line x1="593.1" y1="1357.1" x2="605.5" y2="1357.1" stroke="#000" stroke-width="3.4"/>
<text x="582.0" y="1113.4" font-size="40" text-anchor="end">40</text>
<text x="582.0" y="1196.0" font-size="40" text-anchor="end">30</text>
<text x="582.0" y="1282.7" font-size="40" text-anchor="end">20</text>
<text x="582.0" y="1369.6" font-size="40" text-anchor="end" id="t65" class="o" clip-path="url(#ct65)">10</text>
<text x="582.0" y="1457.0" font-size="40" text-anchor="end">0</text>
<text x="747.7" y="1314.8" font-size="34" text-anchor="middle" letter-spacing="2.33">***</text>
<text x="822.7" y="1332.0" font-size="34" text-anchor="middle" letter-spacing="2.33">***</text>
<text x="518.0" y="1269.0" font-size="40" text-anchor="middle" transform="rotate(-90 518.0 1269.0)">EdU (%)</text>
<text x="675.5" y="1451.5" font-size="40" text-anchor="end" transform="rotate(-90 675.5 1451.5)">Control</text>
<text x="757.2" y="1451.5" font-size="40" text-anchor="end" transform="rotate(-90 757.2 1451.5)">Reversine</text>
<text x="833.0" y="1451.5" font-size="40.5" text-anchor="end" transform="rotate(-90 833.0 1451.5)">Mps-BAY2a</text>
<line x1="1544.7" y1="1092.7" x2="1544.7" y2="1120.0" stroke="#000" stroke-width="3.2"/>
<line x1="1521.9" y1="1092.7" x2="1567.5" y2="1092.7" stroke="#000" stroke-width="3.2"/>
<rect x="1516.50" y="1119.10" width="57.10" height="317.30" fill="#e6e6e6" stroke="#8dc63f" stroke-width="3.2"/>
<line x1="1625.5" y1="1212.5" x2="1625.5" y2="1227.0" stroke="#000" stroke-width="3.2"/>
<line x1="1602.5" y1="1212.5" x2="1648.5" y2="1212.5" stroke="#000" stroke-width="3.2"/>
<rect x="1597.55" y="1287.75" width="56.00" height="148.65" fill="#e6e6e6" stroke="#404040" stroke-width="3.5"/>
<rect x="1595.8" y="1225.3" width="59.5" height="62.1" fill="#404040"/>
<line x1="1625.5" y1="1270.8" x2="1625.5" y2="1287.0" stroke="#fff" stroke-width="3.5"/>
<line x1="1602.5" y1="1270.8" x2="1648.5" y2="1270.8" stroke="#fff" stroke-width="3.5"/>
<line x1="1701.8" y1="1240.9" x2="1701.8" y2="1253.0" stroke="#000" stroke-width="3.2"/>
<line x1="1679.2" y1="1240.9" x2="1724.4" y2="1240.9" stroke="#000" stroke-width="3.2"/>
<rect x="1673.35" y="1298.75" width="56.80" height="137.65" fill="#e6e6e6" stroke="#404040" stroke-width="3.5"/>
<rect x="1671.6" y="1251.0" width="60.3" height="47.4" fill="#404040"/>
<line x1="1701.8" y1="1277.4" x2="1701.8" y2="1298.0" stroke="#fff" stroke-width="3.5"/>
<line x1="1679.2" y1="1277.4" x2="1724.4" y2="1277.4" stroke="#fff" stroke-width="3.5"/>
<line x1="1485.8" y1="1091.1" x2="1485.8" y2="1438.5" stroke="#000" stroke-width="3.6"/>
<line x1="1473.3" y1="1436.4" x2="1764.2" y2="1436.4" stroke="#000" stroke-width="4.3"/>
<line x1="1473.3" y1="1378.9" x2="1485.8" y2="1378.9" stroke="#000" stroke-width="3.2"/>
<line x1="1473.3" y1="1321.6" x2="1485.8" y2="1321.6" stroke="#000" stroke-width="3.2"/>
<line x1="1473.3" y1="1264.4" x2="1485.8" y2="1264.4" stroke="#000" stroke-width="3.2"/>
<line x1="1473.3" y1="1207.2" x2="1485.8" y2="1207.2" stroke="#000" stroke-width="3.2"/>
<line x1="1473.3" y1="1149.9" x2="1485.8" y2="1149.9" stroke="#000" stroke-width="3.2"/>
<line x1="1473.3" y1="1092.7" x2="1485.8" y2="1092.7" stroke="#000" stroke-width="3.2"/>
<text x="1464.0" y="1450.4" font-size="40" text-anchor="end">0</text>
<text x="1465.2" y="1333.5" font-size="40" text-anchor="end" id="t74" class="o" clip-path="url(#ct74)">1</text>
<text x="1464.0" y="1218.9" font-size="40" text-anchor="end">2</text>
<text x="1464.0" y="1103.3" font-size="40" text-anchor="end">3</text>
<text x="1626.9" y="1208.0" font-size="34" text-anchor="middle" letter-spacing="2.33">***</text>
<text x="1702.8" y="1235.5" font-size="34" text-anchor="middle" letter-spacing="2.33">***</text>
<text x="1626.9" y="1379.6" font-size="34" text-anchor="middle" letter-spacing="2.33">***</text>
<text x="1702.8" y="1379.6" font-size="34" text-anchor="middle" letter-spacing="2.33">***</text>
<rect x="1646.2" y="1078.7" width="34.4" height="34.4" fill="#e6e6e6" stroke="#404040" stroke-width="3"/>
<rect x="1644.7" y="1129.0" width="37.4" height="37" fill="#404040"/>
<text x="1690.0" y="1110.9" font-size="40.3">4<tspan font-style="italic">n</tspan></text>
<text x="1690.3" y="1161.3" font-size="40.3">8<tspan font-style="italic">n</tspan></text>
<text x="1409.3" y="1263.0" font-size="40" text-anchor="middle" transform="rotate(-90 1409.3 1263.0)">pH3 (%)</text>
<text x="1555.8" y="1445.0" font-size="40" text-anchor="end" transform="rotate(-90 1555.8 1445.0)">Control</text>
<text x="1636.6" y="1445.0" font-size="40" text-anchor="end" transform="rotate(-90 1636.6 1445.0)">Reversine</text>
<text x="1713.2" y="1445.0" font-size="40" text-anchor="end" transform="rotate(-90 1713.2 1445.0)">Mps-BAY2a</text>
</svg>
</body></html>
